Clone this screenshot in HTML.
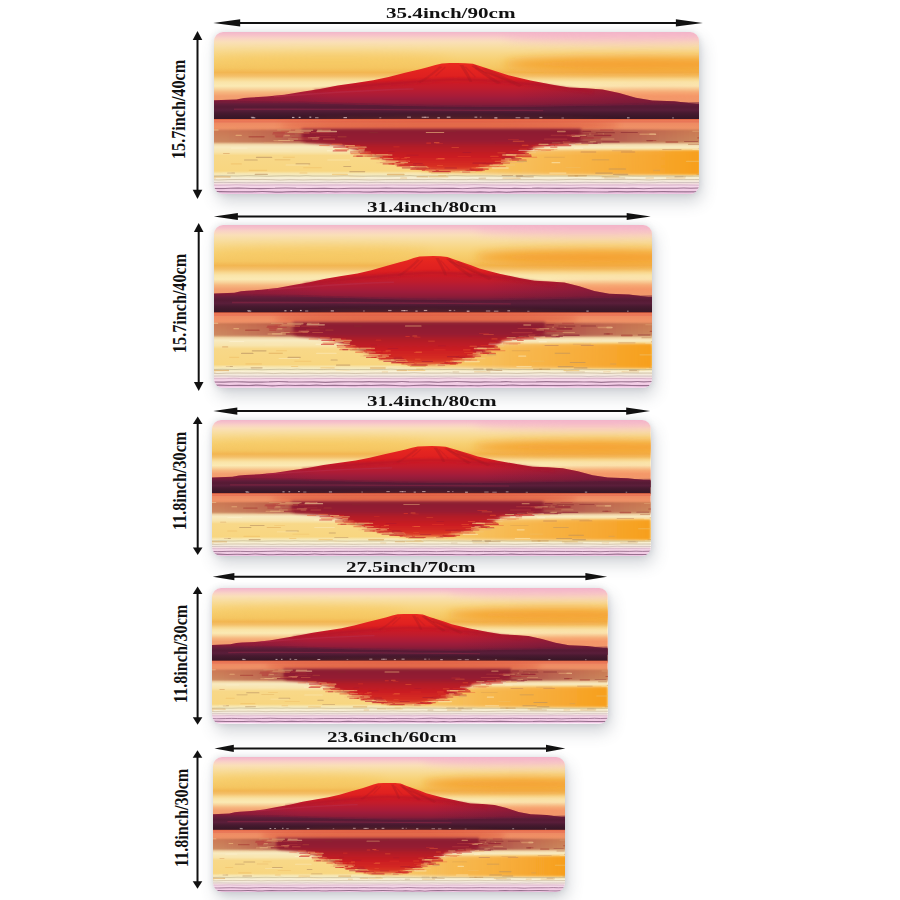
<!DOCTYPE html>
<html><head><meta charset="utf-8"><title>Mat sizes</title>
<style>
html,body{margin:0;padding:0;background:#fff;}
body{width:900px;height:900px;position:relative;overflow:hidden;font-family:"Liberation Serif","Times New Roman",serif;}
.mat{position:absolute;border-radius:9px;overflow:hidden;box-shadow:3px 8px 16px rgba(70,80,95,.24),0 0 6px rgba(70,80,95,.16);}
.mat svg{display:block;width:100%;height:100%;}
.hl{position:absolute;font-weight:bold;font-size:14.5px;line-height:16px;color:#111;white-space:nowrap;transform-origin:0 0;transform:scaleX(1.455);}
.vl{position:absolute;font-weight:bold;font-size:19px;line-height:19px;color:#111;white-space:nowrap;transform-origin:0 0;transform:rotate(-90deg) scaleX(0.85);}
.arr{position:absolute;left:0;top:0;}
</style></head><body>

<svg width="0" height="0" style="position:absolute">
<defs>
<linearGradient id="sky" gradientUnits="userSpaceOnUse" x1="0" y1="0" x2="0" y2="90">
<stop offset="0.0000" stop-color="#f2b6ca"/>
<stop offset="0.0333" stop-color="#f6c2ca"/>
<stop offset="0.0667" stop-color="#f9d2c6"/>
<stop offset="0.1111" stop-color="#fadfb8"/>
<stop offset="0.1667" stop-color="#f8dea2"/>
<stop offset="0.2333" stop-color="#f8d88a"/>
<stop offset="0.3111" stop-color="#f7d072"/>
<stop offset="0.4000" stop-color="#f5c662"/>
<stop offset="0.4500" stop-color="#f2b652"/>
<stop offset="0.4889" stop-color="#f4c06a"/>
<stop offset="0.5222" stop-color="#f8d68c"/>
<stop offset="0.5556" stop-color="#fae4a8"/>
<stop offset="0.6000" stop-color="#fbeab4"/>
<stop offset="0.6333" stop-color="#f8d49c"/>
<stop offset="0.6667" stop-color="#f6b880"/>
<stop offset="0.7111" stop-color="#f3a070"/>
<stop offset="1.0000" stop-color="#e88a66"/>
</linearGradient>
<linearGradient id="mtn" gradientUnits="userSpaceOnUse" x1="0" y1="31" x2="0" y2="77">
<stop offset="0.0000" stop-color="#ea2a1e"/>
<stop offset="0.1522" stop-color="#e42420"/>
<stop offset="0.3043" stop-color="#de2020"/>
<stop offset="0.3913" stop-color="#d41c22"/>
<stop offset="0.4565" stop-color="#c81a28"/>
<stop offset="0.5435" stop-color="#c01c2c"/>
<stop offset="0.6304" stop-color="#b41c34"/>
<stop offset="0.7174" stop-color="#a81c38"/>
<stop offset="0.7826" stop-color="#9c1c3c"/>
<stop offset="0.8478" stop-color="#921c38"/>
<stop offset="0.9348" stop-color="#7a1c3a"/>
<stop offset="1.0000" stop-color="#621c38"/>
</linearGradient>
<linearGradient id="dark" gradientUnits="userSpaceOnUse" x1="0" y1="70.5" x2="0" y2="87.5">
<stop offset="0.0000" stop-color="#701c3c"/>
<stop offset="0.1471" stop-color="#5e1c38"/>
<stop offset="0.2647" stop-color="#561a34"/>
<stop offset="0.4412" stop-color="#5a1e3a"/>
<stop offset="0.6176" stop-color="#481a30"/>
<stop offset="0.7941" stop-color="#3e182a"/>
<stop offset="1.0000" stop-color="#381626"/>
</linearGradient>
<linearGradient id="water" gradientUnits="userSpaceOnUse" x1="0" y1="87" x2="0" y2="162">
<stop offset="0.0000" stop-color="#e05c3c"/>
<stop offset="0.0173" stop-color="#ec7a56"/>
<stop offset="0.0400" stop-color="#e87458"/>
<stop offset="0.0533" stop-color="#ee8a62"/>
<stop offset="0.1333" stop-color="#f09468"/>
<stop offset="0.1600" stop-color="#d88a60"/>
<stop offset="0.3000" stop-color="#d8a474"/>
<stop offset="0.3333" stop-color="#f2d8a8"/>
<stop offset="0.3733" stop-color="#f8eac0"/>
<stop offset="0.4400" stop-color="#f8e4ac"/>
<stop offset="0.4867" stop-color="#f8d888"/>
<stop offset="0.6933" stop-color="#f8d680"/>
<stop offset="0.7267" stop-color="#f6e6b0"/>
<stop offset="0.7600" stop-color="#f4ecc4"/>
<stop offset="0.8267" stop-color="#f4eadc"/>
<stop offset="0.8600" stop-color="#f4e0e0"/>
<stop offset="0.8867" stop-color="#f2d2e4"/>
<stop offset="1.0000" stop-color="#eec4e2"/>
</linearGradient>
<linearGradient id="waterR" x1="0" y1="0" x2="1" y2="0">
<stop offset="0" stop-color="#f6a428" stop-opacity="0"/>
<stop offset=".45" stop-color="#f6a228" stop-opacity=".55"/>
<stop offset="1" stop-color="#f79c18" stop-opacity=".95"/>
</linearGradient>
<linearGradient id="mtnR" x1="0" y1="0" x2="1" y2="0">
<stop offset="0" stop-color="#4a1836" stop-opacity=".25"/>
<stop offset=".25" stop-color="#4a1836" stop-opacity="0"/>
<stop offset=".62" stop-color="#4a1836" stop-opacity="0"/>
<stop offset="1" stop-color="#4a1836" stop-opacity=".45"/>
</linearGradient>
<linearGradient id="rband" x1="0" y1="0" x2="1" y2="0">
<stop offset="0" stop-color="#c06848" stop-opacity=".42"/>
<stop offset=".12" stop-color="#b04c40" stop-opacity=".55"/>
<stop offset=".24" stop-color="#9c3038" stop-opacity=".85"/>
<stop offset=".72" stop-color="#9c3038" stop-opacity=".85"/>
<stop offset=".86" stop-color="#a84440" stop-opacity=".6"/>
<stop offset="1" stop-color="#c07048" stop-opacity=".5"/>
</linearGradient>
<linearGradient id="refl" gradientUnits="userSpaceOnUse" x1="0" y1="97" x2="0" y2="140">
<stop offset="0.0000" stop-color="#8a1c30"/>
<stop offset="0.2791" stop-color="#961c30"/>
<stop offset="0.3953" stop-color="#b01a28"/>
<stop offset="0.6512" stop-color="#cc1e22"/>
<stop offset="0.8837" stop-color="#d83024"/>
<stop offset="1.0000" stop-color="#e25a30"/>
</linearGradient>
<filter id="b05" x="-20%" y="-20%" width="140%" height="140%"><feGaussianBlur stdDeviation=".5"/></filter>
<filter id="b15" x="-10%" y="-20%" width="120%" height="140%"><feGaussianBlur stdDeviation="1.6"/></filter>
<filter id="b1" x="-10%" y="-50%" width="120%" height="200%"><feGaussianBlur stdDeviation="1"/></filter>
<filter id="b3" x="-20%" y="-200%" width="140%" height="500%"><feGaussianBlur stdDeviation="3"/></filter>
<filter id="b4" x="-20%" y="-200%" width="140%" height="500%"><feGaussianBlur stdDeviation="5"/></filter>
</defs></svg>
<div class="mat" style="left:213.5px;top:31.8px;width:485.8px;height:162px"><svg viewBox="0 0 487 162" preserveAspectRatio="none"><rect width="487" height="90" fill="url(#sky)"/>
<ellipse cx="430" cy="32" rx="140" ry="7.5" fill="#f48e18" opacity=".7" filter="url(#b4)"/>
<ellipse cx="420" cy="4" rx="130" ry="7" fill="#f4b0c8" opacity=".6" filter="url(#b4)"/>
<ellipse cx="120" cy="27" rx="120" ry="6" fill="#f6c050" opacity=".35" filter="url(#b4)"/>
<ellipse cx="450" cy="63" rx="80" ry="5" fill="#f88458" opacity=".45" filter="url(#b4)"/>
<path d="M0,68.3 L22.6,67.4 L30,66 L36.8,65.4 L52.8,64.6 L70.6,62.8 L88.4,59.8 L106.2,57 L123.9,53.6 L141.7,50.9 L159.5,48.2 L175,45 L191.5,40.8 L206.5,37.2 L215,35 L222,33 L228.5,31.5 L236,31.1 L244,31 L252,31.2 L259.5,31.8 L268,34.6 L286.5,40.4 L295.1,43.3 L317.3,48.5 L339.5,52.7 L356.2,55.5 L372.8,56.3 L389.5,57.4 L406.2,61 L422.8,65.7 L439.5,68.5 L461.5,69.3 L487,72.3 L487,80 L0,80 Z" fill="url(#mtn)"/>
<path d="M0,68.3 L22.6,67.4 L30,66 L36.8,65.4 L52.8,64.6 L70.6,62.8 L88.4,59.8 L106.2,57 L123.9,53.6 L141.7,50.9 L159.5,48.2 L175,45 L191.5,40.8 L206.5,37.2 L215,35 L222,33 L228.5,31.5 L236,31.1 L244,31 L252,31.2 L259.5,31.8 L268,34.6 L286.5,40.4 L295.1,43.3 L317.3,48.5 L339.5,52.7 L356.2,55.5 L372.8,56.3 L389.5,57.4 L406.2,61 L422.8,65.7 L439.5,68.5 L461.5,69.3 L487,72.3 L487,80 L0,80 Z" fill="url(#mtnR)"/>
<path d="M100,59 C150,54 200,48 242,47.5 C282,47.5 322,52 380,60" stroke="#a8122a" stroke-width="3" fill="none" opacity=".5" filter="url(#b1)"/>
<path d="M262,36 L290,48" stroke="#b01a24" stroke-width="1.4" opacity=".3" filter="url(#b05)"/>
<path d="M272,40 L302,51" stroke="#b01a24" stroke-width="1.4" opacity=".3" filter="url(#b05)"/>
<path d="M252,35 L262,45" stroke="#b01a24" stroke-width="1.4" opacity=".3" filter="url(#b05)"/>
<path d="M232,35 L222,44" stroke="#b01a24" stroke-width="1.4" opacity=".3" filter="url(#b05)"/>
<path d="M258,34 C266,40 274,46 284,52 L288,51 C278,45 270,39 262,33 Z" fill="#a01424" opacity="0.35" filter="url(#b05)"/>
<path d="M268,37 C280,43 292,49 306,55 L309,53 C296,47 284,41 272,36 Z" fill="#a01424" opacity="0.3" filter="url(#b05)"/>
<path d="M246,33 C250,39 254,45 256,50 L259,50 C257,44 253,38 250,33 Z" fill="#a01424" opacity="0.3" filter="url(#b05)"/>
<path d="M226,34 C220,40 212,46 204,50 L207,51 C214,47 222,41 229,35 Z" fill="#a01424" opacity="0.25" filter="url(#b05)"/>
<path d="M60,64.5 C110,61 150,58 200,57" stroke="#b83050" stroke-width="1.5" fill="none" opacity=".45" filter="url(#b05)"/>
<path d="M0,70.5 L90,71 C170,73.5 230,75 290,75 C360,74.5 420,72.5 487,71.5 L487,88 L0,88 Z" fill="url(#dark)"/>
<path d="M0,69.8 L90,70.3 C170,72.8 230,74.3 290,74.3 C360,73.8 420,71.8 487,70.8" stroke="#6a1c3a" stroke-width="1.6" fill="none" opacity=".5" filter="url(#b05)"/>
<path d="M20,76.5 C120,76.2 220,77.4 330,78 L330,79.2 C220,78.6 120,77.6 20,78 Z" fill="#a02848" opacity=".4"/>
<rect x="165.7" y="85.1" width="2" height="1.2" fill="#f4e4e4" opacity="0.4"/>
<rect x="261.1" y="84.6" width="2.8" height="1.2" fill="#f4e4e4" opacity="0.6"/>
<rect x="36.9" y="84.7" width="3" height="1.2" fill="#f4e4e4" opacity="0.4"/>
<rect x="211" y="84.7" width="4.4" height="1.2" fill="#f4e4e4" opacity="0.5"/>
<rect x="302.3" y="85.1" width="4.8" height="1.2" fill="#f4e4e4" opacity="0.5"/>
<rect x="459.3" y="85.3" width="1.7" height="1.2" fill="#f4e4e4" opacity="0.5"/>
<rect x="84.9" y="84.8" width="1.9" height="1.2" fill="#f4e4e4" opacity="0.7"/>
<rect x="101.3" y="85.1" width="3.5" height="1.2" fill="#f4e4e4" opacity="0.5"/>
<rect x="266.5" y="84.6" width="1.7" height="1.2" fill="#f4e4e4" opacity="0.4"/>
<rect x="326.2" y="84.9" width="3" height="1.2" fill="#f4e4e4" opacity="0.6"/>
<rect x="223.9" y="85.2" width="2.5" height="1.2" fill="#f4e4e4" opacity="0.7"/>
<rect x="129.8" y="85" width="3.5" height="1.2" fill="#f4e4e4" opacity="0.7"/>
<rect x="348.3" y="85.4" width="2.5" height="1.2" fill="#f4e4e4" opacity="0.4"/>
<rect x="208.2" y="84.7" width="4.1" height="1.2" fill="#f4e4e4" opacity="0.6"/>
<rect x="37.6" y="85.2" width="3.8" height="1.2" fill="#f4e4e4" opacity="0.6"/>
<rect x="414" y="85.2" width="2.6" height="1.2" fill="#f4e4e4" opacity="0.6"/>
<rect x="281" y="85.3" width="3.1" height="1.2" fill="#f4e4e4" opacity="0.8"/>
<rect x="233.3" y="84.6" width="3.8" height="1.2" fill="#f4e4e4" opacity="0.7"/>
<rect x="311.2" y="85.3" width="5" height="1.2" fill="#f4e4e4" opacity="0.5"/>
<rect x="193.6" y="84.6" width="3.8" height="1.2" fill="#f4e4e4" opacity="0.6"/>
<rect x="95.6" y="84.6" width="1.9" height="1.2" fill="#f4e4e4" opacity="0.7"/>
<rect x="78.2" y="84.9" width="2.4" height="1.2" fill="#f4e4e4" opacity="0.7"/>
<rect y="87" width="487" height="75" fill="url(#water)"/>
<rect x="200" y="118" width="287" height="25" fill="url(#waterR)" filter="url(#b1)"/>
<ellipse cx="236" cy="93.5" rx="170" ry="6" fill="#d84830" opacity=".55" filter="url(#b3)"/>
<rect x="-6" y="97.5" width="499" height="13.5" fill="url(#rband)" filter="url(#b1)"/>
<path d="M88,97 L88,98.5 L88,100 L88,101.5 L88,103 L88,104.5 L88,106 L88,107.5 L88,109 L93.4,110.5 L109.5,112 L125.6,113.5 L133.7,115 L137.8,116.5 L142.1,118 L146.4,119.5 L150.8,121 L155.3,122.5 L160,124 L164.8,125.5 L169.9,127 L175.1,128.5 L180.5,130 L186.3,131.5 L192.4,133 L199,134.5 L206.3,136 L214.8,137.5 L225.5,139 L253,139 L262.4,137.5 L269.5,136 L275.4,134.5 L280.7,133 L285.5,131.5 L289.9,130 L294,128.5 L297.8,127 L301.5,125.5 L305,124 L308.3,122.5 L311.5,121 L314.6,119.5 L317.5,118 L320.4,116.5 L323.2,115 L330.4,113.5 L346.5,112 L362.6,110.5 L368,109 L368,107.5 L368,106 L368,104.5 L368,103 L368,101.5 L368,100 L368,98.5 L368,97 Z" fill="url(#refl)" filter="url(#b15)"/>
<rect x="63.1" y="97.5" width="14.1" height="0.9" rx="0.4" fill="#e0a070" opacity=".6"/>
<rect x="386.9" y="97.5" width="13.5" height="1" rx="0.5" fill="#b83c3c" opacity=".6"/>
<rect x="-4" y="97.5" width="8.7" height="0.9" rx="0.4" fill="#f8d8a0" opacity=".6"/>
<rect x="368.6" y="97.5" width="11.1" height="0.9" rx="0.5" fill="#c85a44" opacity=".6"/>
<rect x="81.2" y="97.5" width="18.4" height="1.6" rx="0.8" fill="#e0a070" opacity=".6"/>
<rect x="336.9" y="97.5" width="13.2" height="1.1" rx="0.6" fill="#9a2434" opacity=".6"/>
<rect x="103.3" y="97.5" width="13.9" height="1.6" rx="0.8" fill="#e0a070" opacity=".6"/>
<rect x="108.1" y="97.5" width="7.8" height="0.9" rx="0.5" fill="#b83c3c" opacity=".6"/>
<rect x="369.4" y="98.8" width="8.7" height="1.3" rx="0.6" fill="#8a1c30" opacity=".6"/>
<rect x="221.6" y="98.8" width="21.3" height="0.9" rx="0.4" fill="#8a2a30" opacity=".6"/>
<rect x="358" y="98.8" width="8.6" height="1" rx="0.5" fill="#8a2a30" opacity=".6"/>
<rect x="343.8" y="98.8" width="8.9" height="1.5" rx="0.7" fill="#e0a070" opacity=".6"/>
<rect x="67.2" y="98.8" width="19.6" height="1.5" rx="0.8" fill="#c85a44" opacity=".6"/>
<rect x="75" y="98.8" width="22.3" height="1.2" rx="0.6" fill="#e0a070" opacity=".6"/>
<rect x="479.5" y="98.8" width="10" height="1.1" rx="0.5" fill="#e0a070" opacity=".6"/>
<rect x="102.7" y="98.8" width="20.7" height="1.4" rx="0.7" fill="#f8d8a0" opacity=".6"/>
<rect x="382.7" y="100.1" width="19.2" height="1.2" rx="0.6" fill="#8a2a30" opacity=".6"/>
<rect x="212.3" y="100.1" width="18.5" height="1" rx="0.5" fill="#f0c080" opacity=".6"/>
<rect x="83.4" y="100.1" width="12.6" height="1.6" rx="0.8" fill="#c85a44" opacity=".6"/>
<rect x="407.7" y="100.1" width="17.2" height="1" rx="0.5" fill="#8a2a30" opacity=".6"/>
<rect x="59" y="100.1" width="12.2" height="1.5" rx="0.8" fill="#b83c3c" opacity=".6"/>
<rect x="155.3" y="100.1" width="9.2" height="1.2" rx="0.6" fill="#8a2a30" opacity=".6"/>
<rect x="96.8" y="100.1" width="19.4" height="1.2" rx="0.6" fill="#b83c3c" opacity=".6"/>
<rect x="73.4" y="100.1" width="16.6" height="0.8" rx="0.4" fill="#e0a070" opacity=".6"/>
<rect x="105.9" y="101.4" width="17.8" height="1.6" rx="0.8" fill="#9a2434" opacity=".6"/>
<rect x="58.3" y="101.4" width="22.8" height="1.2" rx="0.6" fill="#b83c3c" opacity=".6"/>
<rect x="349.6" y="101.4" width="9.8" height="0.8" rx="0.4" fill="#8a1c30" opacity=".6"/>
<rect x="436.2" y="101.4" width="7.1" height="1.5" rx="0.7" fill="#f8d8a0" opacity=".6"/>
<rect x="426.4" y="101.4" width="15.3" height="1.5" rx="0.7" fill="#e0a070" opacity=".6"/>
<rect x="375.8" y="101.4" width="15.4" height="1.2" rx="0.6" fill="#e0a070" opacity=".6"/>
<rect x="364.5" y="101.4" width="20.4" height="0.8" rx="0.4" fill="#9a2434" opacity=".6"/>
<rect x="378" y="101.4" width="11.9" height="1.2" rx="0.6" fill="#9a2434" opacity=".6"/>
<rect x="69.2" y="102.7" width="7" height="1.5" rx="0.8" fill="#e0a070" opacity=".6"/>
<rect x="21.5" y="102.7" width="6.5" height="1.2" rx="0.6" fill="#f0c080" opacity=".6"/>
<rect x="357.8" y="102.7" width="15.1" height="1.3" rx="0.6" fill="#e0a070" opacity=".6"/>
<rect x="384.1" y="102.7" width="15.1" height="1.4" rx="0.7" fill="#b83c3c" opacity=".6"/>
<rect x="353.5" y="102.7" width="8.5" height="1.5" rx="0.7" fill="#b83c3c" opacity=".6"/>
<rect x="60.9" y="102.7" width="9.8" height="1.1" rx="0.6" fill="#b83c3c" opacity=".6"/>
<rect x="380.6" y="102.7" width="17.6" height="1.6" rx="0.8" fill="#8a1c30" opacity=".6"/>
<rect x="337.5" y="102.7" width="23.1" height="1" rx="0.5" fill="#b83c3c" opacity=".6"/>
<rect x="356.7" y="104" width="13.8" height="0.9" rx="0.5" fill="#c85a44" opacity=".6"/>
<rect x="355.2" y="104" width="19" height="1.1" rx="0.5" fill="#9a2434" opacity=".6"/>
<rect x="102" y="104" width="15.3" height="1.1" rx="0.6" fill="#b83c3c" opacity=".6"/>
<rect x="61.3" y="104" width="7.9" height="1.6" rx="0.8" fill="#b83c3c" opacity=".6"/>
<rect x="358.6" y="104" width="8.3" height="1" rx="0.5" fill="#e0a070" opacity=".6"/>
<rect x="34.5" y="104" width="16.3" height="1.5" rx="0.8" fill="#a83c34" opacity=".6"/>
<rect x="123.7" y="104" width="9.3" height="1.4" rx="0.7" fill="#a83c34" opacity=".6"/>
<rect x="102.1" y="104" width="20.4" height="1.3" rx="0.7" fill="#9a2434" opacity=".6"/>
<rect x="368.8" y="105.3" width="12.1" height="1.2" rx="0.6" fill="#9a2434" opacity=".6"/>
<rect x="96.2" y="105.3" width="10.3" height="1.2" rx="0.6" fill="#b83c3c" opacity=".6"/>
<rect x="94" y="105.3" width="11.6" height="1" rx="0.5" fill="#e0a070" opacity=".6"/>
<rect x="484.3" y="105.3" width="10.9" height="1.3" rx="0.7" fill="#a83c34" opacity=".6"/>
<rect x="77.6" y="105.3" width="19.2" height="0.8" rx="0.4" fill="#b83c3c" opacity=".6"/>
<rect x="368" y="105.3" width="21" height="1.2" rx="0.6" fill="#b83c3c" opacity=".6"/>
<rect x="109.1" y="106.6" width="12.3" height="1.1" rx="0.6" fill="#c85a44" opacity=".6"/>
<rect x="330.8" y="106.6" width="23.5" height="1.2" rx="0.6" fill="#b83c3c" opacity=".6"/>
<rect x="387.5" y="106.6" width="14" height="0.9" rx="0.5" fill="#e0a070" opacity=".6"/>
<rect x="98.3" y="106.6" width="6.6" height="1.1" rx="0.5" fill="#e0a070" opacity=".6"/>
<rect x="95.7" y="106.6" width="12.9" height="0.8" rx="0.4" fill="#9a2434" opacity=".6"/>
<rect x="83.6" y="106.6" width="20.7" height="0.9" rx="0.4" fill="#c85a44" opacity=".6"/>
<rect x="74.1" y="106.6" width="10.2" height="1" rx="0.5" fill="#e0a070" opacity=".6"/>
<rect x="64.3" y="107.9" width="11.9" height="1.1" rx="0.6" fill="#f8d8a0" opacity=".6"/>
<rect x="433.3" y="107.9" width="6.8" height="1.3" rx="0.7" fill="#8a2a30" opacity=".6"/>
<rect x="59.4" y="107.9" width="20.6" height="1.4" rx="0.7" fill="#e0a070" opacity=".6"/>
<rect x="91.5" y="107.9" width="6.8" height="0.9" rx="0.4" fill="#8a1c30" opacity=".6"/>
<rect x="79.9" y="107.9" width="17.3" height="1.2" rx="0.6" fill="#9a2434" opacity=".6"/>
<rect x="436.2" y="107.9" width="7.3" height="1.2" rx="0.6" fill="#a83c34" opacity=".6"/>
<rect x="92" y="109.2" width="10.8" height="0.9" rx="0.4" fill="#8a2a30" opacity=".6"/>
<rect x="376.5" y="109.2" width="12.9" height="1.2" rx="0.6" fill="#e0a070" opacity=".6"/>
<rect x="349.4" y="109.2" width="9.6" height="1.3" rx="0.7" fill="#c85a44" opacity=".6"/>
<rect x="350.9" y="109.2" width="8.4" height="1.3" rx="0.6" fill="#9a2434" opacity=".6"/>
<rect x="356.9" y="109.2" width="18.2" height="1.4" rx="0.7" fill="#8a1c30" opacity=".6"/>
<rect x="382.8" y="109.2" width="23.9" height="1.4" rx="0.7" fill="#8a1c30" opacity=".6"/>
<rect x="471.1" y="109.2" width="14.3" height="0.8" rx="0.4" fill="#8a2a30" opacity=".6"/>
<rect x="452.5" y="109.2" width="13" height="1.6" rx="0.8" fill="#a83c34" opacity=".6"/>
<rect x="338.6" y="110.5" width="8.6" height="1.3" rx="0.6" fill="#e0a070" opacity=".6"/>
<rect x="380" y="110.5" width="8" height="1" rx="0.5" fill="#8a1c30" opacity=".6"/>
<rect x="343.2" y="110.5" width="19.1" height="1.1" rx="0.6" fill="#c85a44" opacity=".6"/>
<rect x="49.7" y="110.5" width="19.5" height="0.8" rx="0.4" fill="#e0a070" opacity=".6"/>
<rect x="328.1" y="110.5" width="22.2" height="1.4" rx="0.7" fill="#8a1c30" opacity=".6"/>
<rect x="368.1" y="110.5" width="16.6" height="1.6" rx="0.8" fill="#9a2434" opacity=".6"/>
<rect x="321.9" y="111.8" width="23.5" height="0.9" rx="0.5" fill="#b82230" opacity=".6"/>
<rect x="361.8" y="111.8" width="13.7" height="1.4" rx="0.7" fill="#f0b070" opacity=".6"/>
<rect x="336.8" y="111.8" width="19" height="1.2" rx="0.6" fill="#d83024" opacity=".6"/>
<rect x="117.7" y="111.8" width="11.2" height="1.3" rx="0.7" fill="#e86a40" opacity=".6"/>
<rect x="475.2" y="111.8" width="11.4" height="1.1" rx="0.5" fill="#c08058" opacity=".6"/>
<rect x="325.2" y="111.8" width="10.3" height="1.1" rx="0.6" fill="#f4c880" opacity=".6"/>
<rect x="332.3" y="113.1" width="9.5" height="0.9" rx="0.5" fill="#b82230" opacity=".6"/>
<rect x="105.3" y="113.1" width="10.7" height="1" rx="0.5" fill="#e86a40" opacity=".6"/>
<rect x="318.1" y="113.1" width="19.4" height="1.1" rx="0.6" fill="#c81e24" opacity=".6"/>
<rect x="130.5" y="113.1" width="16.3" height="1.2" rx="0.6" fill="#d83024" opacity=".6"/>
<rect x="340.7" y="113.1" width="17.6" height="1.1" rx="0.6" fill="#c81e24" opacity=".6"/>
<rect x="389.7" y="113.1" width="13.7" height="0.9" rx="0.5" fill="#fae6b4" opacity=".6"/>
<rect x="400.3" y="113.1" width="13" height="0.8" rx="0.4" fill="#fae6b4" opacity=".6"/>
<rect x="130.9" y="113.1" width="10.5" height="1.6" rx="0.8" fill="#f4c880" opacity=".6"/>
<rect x="410.7" y="114.4" width="20.9" height="0.9" rx="0.4" fill="#fae6b4" opacity=".6"/>
<rect x="132.4" y="114.4" width="20" height="0.9" rx="0.4" fill="#c81e24" opacity=".6"/>
<rect x="319.6" y="114.4" width="11.5" height="1.3" rx="0.7" fill="#e86a40" opacity=".6"/>
<rect x="132.4" y="114.4" width="8" height="1.4" rx="0.7" fill="#d83024" opacity=".6"/>
<rect x="312.8" y="114.4" width="6" height="1.4" rx="0.7" fill="#b82230" opacity=".6"/>
<rect x="119.3" y="114.4" width="21.9" height="1.3" rx="0.7" fill="#c81e24" opacity=".6"/>
<rect x="134.5" y="114.4" width="18.7" height="1.6" rx="0.8" fill="#f4c880" opacity=".6"/>
<rect x="336.9" y="114.4" width="7.5" height="1.3" rx="0.7" fill="#d83024" opacity=".6"/>
<rect x="143.5" y="115.7" width="6.1" height="1.1" rx="0.6" fill="#d83024" opacity=".6"/>
<rect x="134" y="115.7" width="20.8" height="1" rx="0.5" fill="#b82230" opacity=".6"/>
<rect x="127.6" y="115.7" width="17.2" height="0.9" rx="0.4" fill="#f4c880" opacity=".6"/>
<rect x="17" y="115.7" width="16.7" height="0.8" rx="0.4" fill="#fff4d4" opacity=".6"/>
<rect x="143.1" y="115.7" width="8.6" height="1.6" rx="0.8" fill="#e86a40" opacity=".6"/>
<rect x="485.8" y="115.7" width="21.9" height="1.5" rx="0.8" fill="#d8a060" opacity=".6"/>
<rect x="360.9" y="115.7" width="9.3" height="1.1" rx="0.5" fill="#fff4d4" opacity=".6"/>
<rect x="479.5" y="117" width="19.1" height="1" rx="0.5" fill="#fae6b4" opacity=".6"/>
<rect x="313.6" y="117" width="6.1" height="0.9" rx="0.5" fill="#c81e24" opacity=".6"/>
<rect x="321.2" y="117" width="19.7" height="1.2" rx="0.6" fill="#e86a40" opacity=".6"/>
<rect x="299.1" y="117" width="18.7" height="0.9" rx="0.4" fill="#b82230" opacity=".6"/>
<rect x="120.7" y="117" width="14.5" height="1.4" rx="0.7" fill="#e86a40" opacity=".6"/>
<rect x="144.7" y="117" width="6.6" height="0.8" rx="0.4" fill="#f4c880" opacity=".6"/>
<rect x="327.5" y="117" width="16.9" height="0.9" rx="0.4" fill="#f0b070" opacity=".6"/>
<rect x="449.3" y="117" width="19.4" height="0.8" rx="0.4" fill="#c08058" opacity=".6"/>
<rect x="305.1" y="118.3" width="19.6" height="0.8" rx="0.4" fill="#fff4d4" opacity=".6"/>
<rect x="327.7" y="118.3" width="10.2" height="0.8" rx="0.4" fill="#e86a40" opacity=".6"/>
<rect x="56" y="118.3" width="22.4" height="1.4" rx="0.7" fill="#fae6b4" opacity=".6"/>
<rect x="398.9" y="118.3" width="20.4" height="0.9" rx="0.5" fill="#d8a060" opacity=".6"/>
<rect x="320.9" y="118.3" width="11.9" height="1.3" rx="0.6" fill="#f0b070" opacity=".6"/>
<rect x="112.9" y="118.3" width="9.6" height="0.9" rx="0.4" fill="#fff4d4" opacity=".6"/>
<rect x="118.9" y="118.3" width="14.7" height="1.3" rx="0.7" fill="#c81e24" opacity=".6"/>
<rect x="140.3" y="118.3" width="10.8" height="1.6" rx="0.8" fill="#f4c880" opacity=".6"/>
<rect x="313.9" y="119.6" width="9.1" height="1.6" rx="0.8" fill="#f4c880" opacity=".6"/>
<rect x="367.5" y="119.6" width="15.7" height="1" rx="0.5" fill="#c08058" opacity=".6"/>
<rect x="296.2" y="119.6" width="16.2" height="1" rx="0.5" fill="#d83024" opacity=".6"/>
<rect x="147.4" y="119.6" width="10.2" height="0.9" rx="0.5" fill="#e86a40" opacity=".6"/>
<rect x="136.3" y="119.6" width="10.4" height="1" rx="0.5" fill="#c81e24" opacity=".6"/>
<rect x="407.8" y="119.6" width="14.5" height="0.9" rx="0.4" fill="#c08058" opacity=".6"/>
<rect x="137.6" y="119.6" width="11.3" height="0.8" rx="0.4" fill="#f0b070" opacity=".6"/>
<rect x="144.7" y="119.6" width="7.4" height="1" rx="0.5" fill="#b82230" opacity=".6"/>
<rect x="293.6" y="120.9" width="18" height="1.4" rx="0.7" fill="#b82230" opacity=".6"/>
<rect x="9" y="120.9" width="6.8" height="1.1" rx="0.5" fill="#d8a060" opacity=".6"/>
<rect x="291.2" y="120.9" width="20.7" height="1.5" rx="0.7" fill="#b82230" opacity=".6"/>
<rect x="294.4" y="120.9" width="6.6" height="0.9" rx="0.4" fill="#c81e24" opacity=".6"/>
<rect x="136.6" y="120.9" width="18" height="1.4" rx="0.7" fill="#e86a40" opacity=".6"/>
<rect x="302.4" y="120.9" width="13.4" height="1.4" rx="0.7" fill="#c81e24" opacity=".6"/>
<rect x="288.1" y="120.9" width="16.2" height="1" rx="0.5" fill="#b82230" opacity=".6"/>
<rect x="146.1" y="120.9" width="13" height="1.3" rx="0.7" fill="#d83024" opacity=".6"/>
<rect x="297.4" y="122.2" width="20.8" height="1.1" rx="0.6" fill="#d83024" opacity=".6"/>
<rect x="292.8" y="122.2" width="6.9" height="0.9" rx="0.5" fill="#f0b070" opacity=".6"/>
<rect x="292.6" y="122.2" width="19.3" height="1.5" rx="0.8" fill="#f0b070" opacity=".6"/>
<rect x="156.9" y="122.2" width="7.2" height="0.9" rx="0.5" fill="#c81e24" opacity=".6"/>
<rect x="288.8" y="122.2" width="14.7" height="1.6" rx="0.8" fill="#f4c880" opacity=".6"/>
<rect x="140.3" y="122.2" width="20.8" height="1.3" rx="0.6" fill="#f0b070" opacity=".6"/>
<rect x="158.1" y="122.2" width="20.9" height="1.5" rx="0.7" fill="#f0b070" opacity=".6"/>
<rect x="162.4" y="122.2" width="12.5" height="0.9" rx="0.5" fill="#f0b070" opacity=".6"/>
<rect x="151.1" y="123.5" width="18.1" height="1.5" rx="0.7" fill="#b89060" opacity=".6"/>
<rect x="302.6" y="123.5" width="15.9" height="1.3" rx="0.6" fill="#b82230" opacity=".6"/>
<rect x="301.9" y="123.5" width="6.4" height="1.2" rx="0.6" fill="#e86a40" opacity=".6"/>
<rect x="139.2" y="123.5" width="20" height="1.4" rx="0.7" fill="#e86a40" opacity=".6"/>
<rect x="145.4" y="123.5" width="8.3" height="0.9" rx="0.4" fill="#f0b070" opacity=".6"/>
<rect x="142.6" y="123.5" width="6.7" height="1.2" rx="0.6" fill="#b82230" opacity=".6"/>
<rect x="303" y="123.5" width="15.2" height="1.4" rx="0.7" fill="#d83024" opacity=".6"/>
<rect x="167.6" y="124.8" width="7.2" height="0.8" rx="0.4" fill="#e86a40" opacity=".6"/>
<rect x="331" y="124.8" width="20.6" height="1" rx="0.5" fill="#d8a050" opacity=".6"/>
<rect x="68.9" y="124.8" width="12.3" height="0.9" rx="0.4" fill="#f0c068" opacity=".6"/>
<rect x="287.8" y="124.8" width="14.2" height="1.5" rx="0.8" fill="#b82230" opacity=".6"/>
<rect x="166.4" y="124.8" width="10.3" height="1.3" rx="0.6" fill="#d83024" opacity=".6"/>
<rect x="288.3" y="124.8" width="11" height="1.3" rx="0.7" fill="#b82230" opacity=".6"/>
<rect x="308.5" y="124.8" width="15.6" height="0.9" rx="0.4" fill="#e86a40" opacity=".6"/>
<rect x="42" y="124.8" width="16.4" height="1.2" rx="0.6" fill="#b89060" opacity=".6"/>
<rect x="295.8" y="126.1" width="12.7" height="1.4" rx="0.7" fill="#b82230" opacity=".6"/>
<rect x="168.5" y="126.1" width="7.5" height="1.1" rx="0.5" fill="#f0b070" opacity=".6"/>
<rect x="168.4" y="126.1" width="11.6" height="1.3" rx="0.7" fill="#b82230" opacity=".6"/>
<rect x="169.7" y="126.1" width="13.8" height="1.3" rx="0.6" fill="#d83024" opacity=".6"/>
<rect x="291.4" y="126.1" width="6.8" height="1.3" rx="0.6" fill="#f0b070" opacity=".6"/>
<rect x="169.7" y="126.1" width="10" height="1.1" rx="0.5" fill="#f0b070" opacity=".6"/>
<rect x="156.9" y="126.1" width="8.9" height="1.5" rx="0.7" fill="#e86a40" opacity=".6"/>
<rect x="378.7" y="127.4" width="17.5" height="0.9" rx="0.4" fill="#b89060" opacity=".6"/>
<rect x="287.5" y="127.4" width="23.4" height="1.4" rx="0.7" fill="#f0b070" opacity=".6"/>
<rect x="113.5" y="127.4" width="22.9" height="1.2" rx="0.6" fill="#fbe8b4" opacity=".6"/>
<rect x="172" y="127.4" width="15.6" height="0.8" rx="0.4" fill="#c81e24" opacity=".6"/>
<rect x="60.7" y="127.4" width="15.9" height="0.8" rx="0.4" fill="#d8a050" opacity=".6"/>
<rect x="295.9" y="127.4" width="17.6" height="1.2" rx="0.6" fill="#d83024" opacity=".6"/>
<rect x="298.7" y="127.4" width="7.1" height="1.2" rx="0.6" fill="#c81e24" opacity=".6"/>
<rect x="30" y="127.4" width="13.9" height="1.1" rx="0.6" fill="#b89060" opacity=".6"/>
<rect x="172.7" y="128.7" width="23.9" height="0.9" rx="0.5" fill="#f4c880" opacity=".6"/>
<rect x="169.8" y="128.7" width="23" height="1.5" rx="0.8" fill="#f0b070" opacity=".6"/>
<rect x="473" y="128.7" width="18.3" height="1.3" rx="0.7" fill="#f0c068" opacity=".6"/>
<rect x="171.9" y="128.7" width="23.4" height="1.3" rx="0.7" fill="#d83024" opacity=".6"/>
<rect x="281.4" y="128.7" width="9.6" height="1.5" rx="0.7" fill="#e86a40" opacity=".6"/>
<rect x="303.5" y="128.7" width="10.3" height="1.1" rx="0.5" fill="#b89060" opacity=".6"/>
<rect x="169.5" y="128.7" width="15.6" height="1.2" rx="0.6" fill="#f4c880" opacity=".6"/>
<rect x="182.8" y="130" width="16.2" height="1.3" rx="0.6" fill="#c81e24" opacity=".6"/>
<rect x="338.3" y="130" width="8.9" height="1.3" rx="0.6" fill="#fbe8b4" opacity=".6"/>
<rect x="166.1" y="130" width="18.5" height="0.8" rx="0.4" fill="#c81e24" opacity=".6"/>
<rect x="162.4" y="130" width="19.7" height="1.5" rx="0.7" fill="#f4c880" opacity=".6"/>
<rect x="186.8" y="130" width="7.9" height="1.6" rx="0.8" fill="#f4c880" opacity=".6"/>
<rect x="271.4" y="130" width="19.5" height="0.9" rx="0.4" fill="#c81e24" opacity=".6"/>
<rect x="279.4" y="130" width="17.6" height="1.4" rx="0.7" fill="#c81e24" opacity=".6"/>
<rect x="287.5" y="130" width="22.7" height="1.1" rx="0.5" fill="#f0b070" opacity=".6"/>
<rect x="169" y="131.3" width="21.3" height="1.2" rx="0.6" fill="#c81e24" opacity=".6"/>
<rect x="174.8" y="131.3" width="19.9" height="1.1" rx="0.6" fill="#d83024" opacity=".6"/>
<rect x="269" y="131.3" width="20.9" height="1.4" rx="0.7" fill="#c81e24" opacity=".6"/>
<rect x="16.8" y="131.3" width="11.2" height="1.2" rx="0.6" fill="#f0c068" opacity=".6"/>
<rect x="81.7" y="131.3" width="14.8" height="1.2" rx="0.6" fill="#b89060" opacity=".6"/>
<rect x="178.2" y="131.3" width="23.2" height="1.3" rx="0.6" fill="#d83024" opacity=".6"/>
<rect x="180.6" y="131.3" width="10.2" height="1.6" rx="0.8" fill="#f4c880" opacity=".6"/>
<rect x="183.5" y="131.3" width="7.9" height="1.2" rx="0.6" fill="#e86a40" opacity=".6"/>
<rect x="183.4" y="132.6" width="19.4" height="1.5" rx="0.8" fill="#b82230" opacity=".6"/>
<rect x="279.7" y="132.6" width="22.2" height="1" rx="0.5" fill="#f4c880" opacity=".6"/>
<rect x="186.3" y="132.6" width="14.3" height="1" rx="0.5" fill="#b82230" opacity=".6"/>
<rect x="265.2" y="132.6" width="21.6" height="1.2" rx="0.6" fill="#e86a40" opacity=".6"/>
<rect x="276" y="132.6" width="10.6" height="1.4" rx="0.7" fill="#f4c880" opacity=".6"/>
<rect x="181.9" y="132.6" width="9.4" height="1" rx="0.5" fill="#d83024" opacity=".6"/>
<rect x="185.4" y="132.6" width="16.9" height="1.4" rx="0.7" fill="#d83024" opacity=".6"/>
<rect x="71.8" y="132.6" width="23.2" height="1" rx="0.5" fill="#fbe8b4" opacity=".6"/>
<rect x="277" y="133.9" width="8.7" height="1" rx="0.5" fill="#e86a40" opacity=".6"/>
<rect x="129.6" y="133.9" width="8" height="1" rx="0.5" fill="#b89060" opacity=".6"/>
<rect x="190.3" y="133.9" width="23.7" height="1" rx="0.5" fill="#f0b070" opacity=".6"/>
<rect x="277.8" y="133.9" width="6.1" height="1.4" rx="0.7" fill="#f0b070" opacity=".6"/>
<rect x="186.6" y="133.9" width="13.6" height="1.4" rx="0.7" fill="#f4c880" opacity=".6"/>
<rect x="183" y="133.9" width="13.8" height="0.9" rx="0.4" fill="#d83024" opacity=".6"/>
<rect x="273.9" y="133.9" width="18.8" height="1.4" rx="0.7" fill="#e86a40" opacity=".6"/>
<rect x="188.2" y="135.2" width="17.2" height="1.2" rx="0.6" fill="#b82230" opacity=".6"/>
<rect x="202.3" y="135.2" width="13" height="1.4" rx="0.7" fill="#f0b070" opacity=".6"/>
<rect x="89.3" y="135.2" width="18.9" height="1" rx="0.5" fill="#f0c068" opacity=".6"/>
<rect x="264.7" y="135.2" width="16.3" height="0.9" rx="0.4" fill="#f4c880" opacity=".6"/>
<rect x="262.3" y="135.2" width="12.7" height="1.4" rx="0.7" fill="#f4c880" opacity=".6"/>
<rect x="352.4" y="135.2" width="15.2" height="0.9" rx="0.5" fill="#f0c068" opacity=".6"/>
<rect x="203.9" y="135.2" width="10.5" height="1.3" rx="0.7" fill="#e86a40" opacity=".6"/>
<rect x="278.3" y="135.2" width="17.3" height="1.5" rx="0.8" fill="#fbe8b4" opacity=".6"/>
<rect x="202.7" y="136.5" width="20.4" height="1" rx="0.5" fill="#c81e24" opacity=".6"/>
<rect x="196.6" y="136.5" width="17.4" height="1.4" rx="0.7" fill="#d83024" opacity=".6"/>
<rect x="395.6" y="136.5" width="17.5" height="1.1" rx="0.5" fill="#b89060" opacity=".6"/>
<rect x="255.7" y="136.5" width="19.7" height="1.6" rx="0.8" fill="#d83024" opacity=".6"/>
<rect x="262.9" y="136.5" width="12.8" height="1" rx="0.5" fill="#e86a40" opacity=".6"/>
<rect x="197.7" y="136.5" width="19" height="0.8" rx="0.4" fill="#b82230" opacity=".6"/>
<rect x="256.3" y="136.5" width="13.7" height="1.2" rx="0.6" fill="#b82230" opacity=".6"/>
<rect x="440.2" y="137.8" width="7" height="1.5" rx="0.7" fill="#d8a050" opacity=".6"/>
<rect x="213.1" y="137.8" width="12.2" height="1.2" rx="0.6" fill="#c81e24" opacity=".6"/>
<rect x="208.3" y="137.8" width="10.5" height="1.3" rx="0.7" fill="#d83024" opacity=".6"/>
<rect x="257.2" y="137.8" width="12.2" height="1.4" rx="0.7" fill="#d83024" opacity=".6"/>
<rect x="34.9" y="137.8" width="18.4" height="1.3" rx="0.6" fill="#f0c068" opacity=".6"/>
<rect x="253" y="137.8" width="18.5" height="1" rx="0.5" fill="#c81e24" opacity=".6"/>
<rect x="211.5" y="137.8" width="10.8" height="1.2" rx="0.6" fill="#f0b070" opacity=".6"/>
<rect x="251.3" y="137.8" width="14.4" height="0.8" rx="0.4" fill="#d83024" opacity=".6"/>
<rect x="241.3" y="139.1" width="21.5" height="1.2" rx="0.6" fill="#f0b070" opacity=".6"/>
<rect x="246.1" y="139.1" width="11.3" height="1.2" rx="0.6" fill="#f4c880" opacity=".6"/>
<rect x="220.1" y="139.1" width="17.5" height="0.9" rx="0.4" fill="#c81e24" opacity=".6"/>
<rect x="215" y="139.1" width="22.8" height="1.3" rx="0.7" fill="#e86a40" opacity=".6"/>
<rect x="248.5" y="139.1" width="8.6" height="1.4" rx="0.7" fill="#b82230" opacity=".6"/>
<rect x="218.6" y="139.1" width="17.9" height="0.9" rx="0.4" fill="#b82230" opacity=".6"/>
<rect x="135.6" y="139.1" width="16" height="1.1" rx="0.6" fill="#b89060" opacity=".6"/>
<rect x="247.1" y="139.1" width="15.1" height="1.1" rx="0.6" fill="#f4c880" opacity=".6"/>
<rect x="85.6" y="140.4" width="8.1" height="1.2" rx="0.6" fill="#f0c068" opacity=".6"/>
<rect x="33.5" y="140.4" width="23.5" height="0.9" rx="0.5" fill="#fbe8b4" opacity=".6"/>
<rect x="191.8" y="140.4" width="16" height="1.1" rx="0.6" fill="#fbe8b4" opacity=".6"/>
<rect x="13.1" y="140.4" width="8" height="1.1" rx="0.6" fill="#b89060" opacity=".6"/>
<rect x="382.1" y="140.4" width="17.8" height="1.3" rx="0.6" fill="#b89060" opacity=".6"/>
<rect x="336.1" y="140.4" width="17.3" height="1.3" rx="0.6" fill="#fbe8b4" opacity=".6"/>
<rect x="217.6" y="140.4" width="18" height="1" rx="0.5" fill="#d8a050" opacity=".6"/>
<rect x="8.4" y="140.4" width="9.3" height="0.9" rx="0.4" fill="#fbe8b4" opacity=".6"/>
<rect x="173.3" y="141.7" width="17.8" height="1.5" rx="0.8" fill="#d8a050" opacity=".6"/>
<rect x="118.2" y="141.7" width="16.1" height="1.4" rx="0.7" fill="#f0c068" opacity=".6"/>
<rect x="0.1" y="141.7" width="6.6" height="0.9" rx="0.5" fill="#fbe8b4" opacity=".6"/>
<rect x="399.9" y="141.7" width="15.4" height="1.2" rx="0.6" fill="#b89060" opacity=".6"/>
<rect x="211.9" y="141.7" width="22.5" height="1.3" rx="0.6" fill="#fbe8b4" opacity=".6"/>
<rect x="483.6" y="141.7" width="16.7" height="1.3" rx="0.7" fill="#d8a050" opacity=".6"/>
<rect x="40.7" y="141.7" width="13.4" height="1.2" rx="0.6" fill="#b89060" opacity=".6"/>
<rect x="-2.3" y="141.7" width="8.7" height="1" rx="0.5" fill="#fbe8b4" opacity=".6"/>
<rect x="480.4" y="143" width="18" height="0.8" rx="0.4" fill="#fbe8b4" opacity=".6"/>
<rect x="224.7" y="143" width="8.2" height="1" rx="0.5" fill="#f0c068" opacity=".6"/>
<rect x="354.6" y="143" width="10.4" height="1.4" rx="0.7" fill="#d8a050" opacity=".6"/>
<rect x="361.4" y="143" width="12.6" height="1.5" rx="0.8" fill="#d8a050" opacity=".6"/>
<rect x="302.4" y="143" width="7.5" height="1.4" rx="0.7" fill="#b89060" opacity=".6"/>
<rect x="116.3" y="143" width="22.8" height="1.2" rx="0.6" fill="#fbe8b4" opacity=".6"/>
<rect x="-2.7" y="143" width="6.2" height="1.4" rx="0.7" fill="#fbe8b4" opacity=".6"/>
<rect x="288.3" y="143" width="11.6" height="1.1" rx="0.6" fill="#b89060" opacity=".6"/>
<rect x="461.5" y="144.3" width="11.7" height="1.3" rx="0.6" fill="#b89060" opacity=".6"/>
<rect x="470.3" y="144.3" width="9" height="1.2" rx="0.6" fill="#fbe8b4" opacity=".6"/>
<rect x="303" y="144.3" width="17.6" height="1.1" rx="0.5" fill="#b89060" opacity=".6"/>
<rect x="215" y="144.3" width="20" height="1.2" rx="0.6" fill="#f0c068" opacity=".6"/>
<rect x="135.3" y="144.3" width="16.2" height="1.4" rx="0.7" fill="#fbe8b4" opacity=".6"/>
<rect x="388.6" y="144.3" width="17.7" height="1.3" rx="0.6" fill="#f0c068" opacity=".6"/>
<rect x="-2.3" y="144.3" width="19.1" height="1.5" rx="0.7" fill="#d8a050" opacity=".6"/>
<rect x="203" y="144.3" width="11.6" height="1.3" rx="0.6" fill="#d8a050" opacity=".6"/>
<rect x="289.1" y="145.6" width="18.3" height="1.1" rx="0.6" fill="#d8a050" opacity=".6"/>
<rect x="-9.2" y="145.6" width="11.1" height="1.4" rx="0.7" fill="#f0c068" opacity=".6"/>
<rect x="447.5" y="145.6" width="8.8" height="1" rx="0.5" fill="#fbe8b4" opacity=".6"/>
<rect x="432.6" y="145.6" width="8.5" height="1" rx="0.5" fill="#d8a050" opacity=".6"/>
<rect x="391.1" y="145.6" width="21.3" height="1" rx="0.5" fill="#b89060" opacity=".6"/>
<rect x="265.2" y="145.6" width="7.5" height="1.1" rx="0.5" fill="#b89060" opacity=".6"/>
<rect x="453.1" y="145.6" width="19.5" height="1" rx="0.5" fill="#d8a050" opacity=".6"/>
<rect x="186.6" y="145.6" width="7" height="1" rx="0.5" fill="#d8a050" opacity=".6"/>
<rect x="240.9" y="135.6" width="4.1" height="0.9" rx="0.5" fill="#e83a28" opacity=".55"/>
<rect x="299.4" y="108.8" width="11.7" height="0.9" rx="0.4" fill="#f06a38" opacity=".55"/>
<rect x="192.8" y="122.7" width="12.3" height="0.9" rx="0.5" fill="#a81830" opacity=".55"/>
<rect x="190.7" y="124.9" width="5.9" height="1.2" rx="0.6" fill="#f06a38" opacity=".55"/>
<rect x="238" y="115.3" width="7.6" height="0.8" rx="0.4" fill="#f06a38" opacity=".55"/>
<rect x="230.9" y="135.5" width="12.7" height="1" rx="0.5" fill="#a81830" opacity=".55"/>
<rect x="199.4" y="131.2" width="10" height="0.8" rx="0.4" fill="#a81830" opacity=".55"/>
<rect x="180" y="125.4" width="6" height="1" rx="0.5" fill="#e83a28" opacity=".55"/>
<rect x="308.5" y="112.8" width="6.8" height="1.3" rx="0.6" fill="#e8502c" opacity=".55"/>
<rect x="259" y="130.6" width="13.6" height="1.2" rx="0.6" fill="#a81830" opacity=".55"/>
<rect x="306" y="116.8" width="7.8" height="0.6" rx="0.3" fill="#e8502c" opacity=".55"/>
<rect x="276.8" y="123.8" width="8.6" height="1.2" rx="0.6" fill="#e8502c" opacity=".55"/>
<rect x="277.9" y="126.5" width="11.1" height="0.8" rx="0.4" fill="#e8502c" opacity=".55"/>
<rect x="244.1" y="124.1" width="13.6" height="0.7" rx="0.4" fill="#e83a28" opacity=".55"/>
<rect x="223.4" y="133.2" width="6.4" height="0.7" rx="0.4" fill="#f06a38" opacity=".55"/>
<rect x="260.2" y="136.1" width="4.6" height="1.2" rx="0.6" fill="#e8502c" opacity=".55"/>
<rect x="294.6" y="107.5" width="11.1" height="0.6" rx="0.3" fill="#e83a28" opacity=".55"/>
<rect x="282.4" y="110.6" width="13.4" height="1" rx="0.5" fill="#a81830" opacity=".55"/>
<rect x="249.1" y="120.1" width="8.7" height="0.8" rx="0.4" fill="#a81830" opacity=".55"/>
<rect x="220.4" y="110" width="5.7" height="1.2" rx="0.6" fill="#f06a38" opacity=".55"/>
<rect x="257.9" y="135.3" width="8.7" height="1.2" rx="0.6" fill="#f06a38" opacity=".55"/>
<rect x="302.9" y="111" width="4.8" height="1.2" rx="0.6" fill="#a81830" opacity=".55"/>
<rect x="212.7" y="110.5" width="5" height="1.2" rx="0.6" fill="#e83a28" opacity=".55"/>
<rect x="224" y="126.1" width="7.4" height="0.9" rx="0.5" fill="#f06a38" opacity=".55"/>
<rect x="187.5" y="126.1" width="6.2" height="0.7" rx="0.4" fill="#e8502c" opacity=".55"/>
<rect x="284" y="120.4" width="8.4" height="0.8" rx="0.4" fill="#f06a38" opacity=".55"/>
<rect x="174.4" y="119.2" width="6.7" height="0.8" rx="0.4" fill="#a81830" opacity=".55"/>
<rect x="222.4" y="111.4" width="7.2" height="0.7" rx="0.3" fill="#e83a28" opacity=".55"/>
<rect x="212.2" y="137.3" width="13" height="1" rx="0.5" fill="#f06a38" opacity=".55"/>
<rect x="199.7" y="132.7" width="11.5" height="0.9" rx="0.5" fill="#a81830" opacity=".55"/>
<rect x="179.7" y="114.4" width="6.4" height="0.8" rx="0.4" fill="#e83a28" opacity=".55"/>
<rect x="201.8" y="134.7" width="11.3" height="0.7" rx="0.4" fill="#a81830" opacity=".55"/>
<rect x="222.2" y="126.5" width="9.1" height="0.9" rx="0.5" fill="#f06a38" opacity=".55"/>
<rect x="272.6" y="131.3" width="6.9" height="0.9" rx="0.5" fill="#a81830" opacity=".55"/>
<path d="M-5,144 q14.2,-0.5 28.4,0 q11.1,-0.7 22.3,0 q7.6,0.5 15.2,0 q12.4,-0.5 24.8,0 q6.7,-0.7 13.4,0 q11.5,-0 23,0 q8.5,-0.5 16.9,0 q11.5,0.4 23,0 q13.3,0.1 26.6,0 q7.8,-0.8 15.6,0 q12.6,-0.2 25.2,0 q12.5,-0.8 25,0 q13.3,-0.3 26.6,0 q13.6,0.7 27.2,0 q10.4,-0.9 20.9,0 q14.2,-0 28.4,0 q13.8,-0.4 27.7,0 q7.7,0.6 15.3,0 q9.3,-0.6 18.6,0 q9.3,0.2 18.7,0 q6,0 12.1,0 q10,0 20,0 q7.1,0.4 14.2,0 q13.3,0.7 26.7,0" stroke="#a09070" stroke-width="0.9" fill="none" opacity="0.5"/>
<path d="M-5,146 q8.9,0.4 17.8,0 q9.4,0.5 18.9,0 q6.6,0.7 13.1,0 q14.6,-0 29.2,0 q10.6,0.1 21.2,0 q10.8,-0.9 21.7,0 q14.7,-0.5 29.4,0 q7.6,-0.7 15.3,0 q8.3,0.6 16.5,0 q6.3,-0.7 12.5,0 q12.3,-0.5 24.6,0 q6.2,0.2 12.3,0 q11.2,0 22.4,0 q12.3,-0.7 24.6,0 q13.8,0.4 27.7,0 q6.4,-0.7 12.8,0 q10.4,0 20.9,0 q8.5,-0.7 17,0 q9.7,-0.7 19.3,0 q11.3,0.6 22.7,0 q7.3,0.1 14.6,0 q12.7,-0.6 25.4,0 q13.4,0.8 26.9,0 q9.5,-0.1 19,0 q13.6,0 27.1,0" stroke="#fff8e0" stroke-width="1.2" fill="none" opacity="0.5"/>
<path d="M-5,147.6 q9.6,0.8 19.1,0 q13,-0.3 26,0 q8.2,-0.3 16.3,0 q9.9,0.9 19.8,0 q13.2,0.7 26.5,0 q13.3,0.6 26.7,0 q6.5,0 13,0 q14.6,0.8 29.2,0 q8.2,-0.1 16.5,0 q11.7,-0.2 23.4,0 q10.8,-0.8 21.6,0 q9.9,0 19.8,0 q6.2,-0.6 12.4,0 q14.7,0.5 29.5,0 q14.4,0.2 28.9,0 q13.3,0.7 26.6,0 q14,-0.8 27.9,0 q11.8,-0.4 23.5,0 q12.1,-0.4 24.2,0 q10.9,0.8 21.8,0 q11.6,-0.4 23.2,0 q10.7,-0.1 21.4,0" stroke="#a89478" stroke-width="0.9" fill="none" opacity="0.5"/>
<path d="M-5,150.6 q14.6,-0.4 29.1,0 q8.7,0.3 17.5,0 q7.1,0.2 14.2,0 q14.6,0 29.2,0 q8.4,-0.1 16.8,0 q10.8,-0.6 21.6,0 q7.1,-0.7 14.2,0 q8.6,-0.2 17.3,0 q8.6,-0.5 17.2,0 q6.8,0.1 13.6,0 q13.6,0.2 27.1,0 q11.1,0.3 22.3,0 q7.8,0.4 15.6,0 q10.1,0.1 20.3,0 q11.5,-0.1 23,0 q8.8,-0.5 17.6,0 q8,0 16,0 q9.4,0.2 18.9,0 q6.1,-0.3 12.2,0 q13.8,-0.5 27.5,0 q11,-0 22,0 q8.6,0.9 17.1,0 q8.7,0.5 17.3,0 q7.4,-0.8 14.9,0 q13.8,-0.1 27.7,0 q6.6,-0.2 13.1,0" stroke="#b0a0a0" stroke-width="0.9" fill="none" opacity="0.55"/>
<path d="M-5,153 q10,0.4 19.9,0 q7,-0.5 14,0 q14.6,0.4 29.3,0 q7.4,-0.3 14.8,0 q9.2,0.3 18.3,0 q11.5,0.6 23.1,0 q13.4,0 26.8,0 q12.6,0.4 25.3,0 q12.8,-0 25.7,0 q13.1,0.4 26.1,0 q14.2,-0.7 28.5,0 q13.8,-0.9 27.7,0 q12.9,0.2 25.8,0 q10.5,0.8 21,0 q11.1,-0.1 22.3,0 q13.1,0.7 26.1,0 q11.5,-0.2 22.9,0 q10.1,-0.1 20.1,0 q12.5,-0.4 25,0 q9.5,0.1 19,0 q9.5,-0.3 18.9,0 q13.1,0.6 26.2,0" stroke="#c8a0b8" stroke-width="1" fill="none" opacity="0.6"/>
<path d="M-5,154.6 q10.5,-0.1 21,0 q7.7,-0.4 15.3,0 q7.3,0.1 14.6,0 q11.2,-0.7 22.5,0 q14.3,-0.3 28.6,0 q13.6,0.6 27.2,0 q14.6,-0.5 29.3,0 q9.8,0.7 19.7,0 q6.1,-0.8 12.2,0 q11.1,-0 22.2,0 q14.3,0.5 28.6,0 q10.8,0.9 21.7,0 q10.7,0 21.3,0 q12.2,-0.2 24.3,0 q9.2,0.2 18.4,0 q9.2,0.8 18.3,0 q12.1,0 24.2,0 q6.9,-0.2 13.8,0 q9.6,0.1 19.2,0 q11.2,0.7 22.3,0 q14.7,-0 29.4,0 q10,0.2 19.9,0 q15,-0.3 29.9,0" stroke="#f8dcec" stroke-width="1.2" fill="none" opacity="0.6"/>
<path d="M-5,156.3 q10.8,0.6 21.5,0 q7.5,-0.3 15.1,0 q14.8,0.6 29.6,0 q10.6,-0.7 21.2,0 q14.1,0.3 28.1,0 q13.4,0.9 26.8,0 q14,-0.1 28,0 q7.4,-0.4 14.8,0 q10.6,0 21.2,0 q7.7,-0.6 15.4,0 q11.7,0.2 23.3,0 q9.2,0.9 18.4,0 q11.7,-0.8 23.5,0 q9.7,0.5 19.4,0 q8.8,0.3 17.5,0 q6,-0.4 12.1,0 q13.6,0.2 27.2,0 q12,-0.5 24,0 q10.5,0.1 21,0 q8.4,0.3 16.8,0 q10.8,0.9 21.6,0 q11.2,-0.2 22.3,0 q7.1,-0.6 14.2,0 q12.8,-0.7 25.7,0" stroke="#8a6080" stroke-width="1.1" fill="none" opacity="0.8"/>
<path d="M-5,158.1 q6.9,-0.6 13.8,0 q10.7,0.6 21.4,0 q11.5,0.6 23,0 q6.6,-0.9 13.1,0 q12.9,-0.3 25.9,0 q12.4,-0.3 24.9,0 q7.5,-0.4 15,0 q6.9,0.7 13.8,0 q11.2,-0.3 22.5,0 q10,-0.2 20.1,0 q6.5,0.7 13,0 q11.2,0.8 22.5,0 q10,0.2 19.9,0 q8.2,-0.8 16.5,0 q14.4,0.6 28.8,0 q8.8,0.7 17.7,0 q13.3,-0.4 26.7,0 q11.4,0.8 22.8,0 q10.5,0.8 20.9,0 q8.2,-0.2 16.4,0 q12.5,-0.5 24.9,0 q8.8,0.7 17.6,0 q10.4,0.5 20.7,0 q8.2,-0.6 16.4,0 q9.2,-0.6 18.5,0 q14.7,-0.4 29.5,0" stroke="#f6d0ea" stroke-width="1.2" fill="none" opacity="0.7"/>
<path d="M-5,159.9 q11.1,-0.7 22.1,0 q10.8,-0.2 21.6,0 q9.6,-0.8 19.3,0 q7.1,0.6 14.2,0 q9.2,-0.5 18.3,0 q7.7,-0.4 15.4,0 q8.1,-0.8 16.3,0 q12,-0.3 24,0 q7.4,0.4 14.8,0 q6.8,-0.4 13.7,0 q13.5,-0.7 27,0 q10,0.6 20,0 q13.2,-0.6 26.5,0 q9.2,0.4 18.4,0 q9.4,0.8 18.8,0 q7.9,0.8 15.7,0 q10.5,-0.5 21.1,0 q10.1,-0.7 20.1,0 q12.4,-0.4 24.7,0 q14.1,0.2 28.2,0 q9.3,-0.5 18.6,0 q11.5,-0.5 22.9,0 q13.9,-0.7 27.7,0 q10.6,0.1 21.2,0 q8.4,0.5 16.9,0" stroke="#8a6080" stroke-width="1.2" fill="none" opacity="0.85"/>
<path d="M-5,161.3 q9.5,0.3 18.9,0 q11.1,-0.3 22.2,0 q9.5,-0.7 19,0 q7.6,0.6 15.2,0 q8.9,0.3 17.8,0 q7,0.1 14,0 q9.3,0 18.5,0 q8.7,-0.8 17.3,0 q8.8,-0.5 17.6,0 q7.1,0.4 14.3,0 q8.5,-0.2 17.1,0 q14.2,0.5 28.4,0 q13.9,0.7 27.9,0 q7.2,-0.4 14.4,0 q6.3,0.3 12.5,0 q12,-0.3 23.9,0 q9.7,0.3 19.4,0 q12.3,-0.5 24.6,0 q13.6,-0.3 27.2,0 q11.7,-0.6 23.3,0 q7,0.7 14.1,0 q12.6,0.4 25.2,0 q6.4,-0.8 12.7,0 q7.5,-0.5 14.9,0 q8.7,-0.2 17.5,0 q6.4,-0.3 12.7,0 q11.7,-0.6 23.5,0" stroke="#f0c4e4" stroke-width="1" fill="none" opacity="0.7"/></svg></div>
<div class="mat" style="left:213.5px;top:225.2px;width:438px;height:162.6px"><svg viewBox="0 0 487 162" preserveAspectRatio="none"><rect width="487" height="90" fill="url(#sky)"/>
<ellipse cx="430" cy="32" rx="140" ry="7.5" fill="#f48e18" opacity=".7" filter="url(#b4)"/>
<ellipse cx="420" cy="4" rx="130" ry="7" fill="#f4b0c8" opacity=".6" filter="url(#b4)"/>
<ellipse cx="120" cy="27" rx="120" ry="6" fill="#f6c050" opacity=".35" filter="url(#b4)"/>
<ellipse cx="450" cy="63" rx="80" ry="5" fill="#f88458" opacity=".45" filter="url(#b4)"/>
<path d="M0,68.3 L22.6,67.4 L30,66 L36.8,65.4 L52.8,64.6 L70.6,62.8 L88.4,59.8 L106.2,57 L123.9,53.6 L141.7,50.9 L159.5,48.2 L175,45 L191.5,40.8 L206.5,37.2 L215,35 L222,33 L228.5,31.5 L236,31.1 L244,31 L252,31.2 L259.5,31.8 L268,34.6 L286.5,40.4 L295.1,43.3 L317.3,48.5 L339.5,52.7 L356.2,55.5 L372.8,56.3 L389.5,57.4 L406.2,61 L422.8,65.7 L439.5,68.5 L461.5,69.3 L487,72.3 L487,80 L0,80 Z" fill="url(#mtn)"/>
<path d="M0,68.3 L22.6,67.4 L30,66 L36.8,65.4 L52.8,64.6 L70.6,62.8 L88.4,59.8 L106.2,57 L123.9,53.6 L141.7,50.9 L159.5,48.2 L175,45 L191.5,40.8 L206.5,37.2 L215,35 L222,33 L228.5,31.5 L236,31.1 L244,31 L252,31.2 L259.5,31.8 L268,34.6 L286.5,40.4 L295.1,43.3 L317.3,48.5 L339.5,52.7 L356.2,55.5 L372.8,56.3 L389.5,57.4 L406.2,61 L422.8,65.7 L439.5,68.5 L461.5,69.3 L487,72.3 L487,80 L0,80 Z" fill="url(#mtnR)"/>
<path d="M100,59 C150,54 200,48 242,47.5 C282,47.5 322,52 380,60" stroke="#a8122a" stroke-width="3" fill="none" opacity=".5" filter="url(#b1)"/>
<path d="M262,36 L290,48" stroke="#b01a24" stroke-width="1.4" opacity=".3" filter="url(#b05)"/>
<path d="M272,40 L302,51" stroke="#b01a24" stroke-width="1.4" opacity=".3" filter="url(#b05)"/>
<path d="M252,35 L262,45" stroke="#b01a24" stroke-width="1.4" opacity=".3" filter="url(#b05)"/>
<path d="M232,35 L222,44" stroke="#b01a24" stroke-width="1.4" opacity=".3" filter="url(#b05)"/>
<path d="M258,34 C266,40 274,46 284,52 L288,51 C278,45 270,39 262,33 Z" fill="#a01424" opacity="0.35" filter="url(#b05)"/>
<path d="M268,37 C280,43 292,49 306,55 L309,53 C296,47 284,41 272,36 Z" fill="#a01424" opacity="0.3" filter="url(#b05)"/>
<path d="M246,33 C250,39 254,45 256,50 L259,50 C257,44 253,38 250,33 Z" fill="#a01424" opacity="0.3" filter="url(#b05)"/>
<path d="M226,34 C220,40 212,46 204,50 L207,51 C214,47 222,41 229,35 Z" fill="#a01424" opacity="0.25" filter="url(#b05)"/>
<path d="M60,64.5 C110,61 150,58 200,57" stroke="#b83050" stroke-width="1.5" fill="none" opacity=".45" filter="url(#b05)"/>
<path d="M0,70.5 L90,71 C170,73.5 230,75 290,75 C360,74.5 420,72.5 487,71.5 L487,88 L0,88 Z" fill="url(#dark)"/>
<path d="M0,69.8 L90,70.3 C170,72.8 230,74.3 290,74.3 C360,73.8 420,71.8 487,70.8" stroke="#6a1c3a" stroke-width="1.6" fill="none" opacity=".5" filter="url(#b05)"/>
<path d="M20,76.5 C120,76.2 220,77.4 330,78 L330,79.2 C220,78.6 120,77.6 20,78 Z" fill="#a02848" opacity=".4"/>
<rect x="165.7" y="85.1" width="2" height="1.2" fill="#f4e4e4" opacity="0.4"/>
<rect x="261.1" y="84.6" width="2.8" height="1.2" fill="#f4e4e4" opacity="0.6"/>
<rect x="36.9" y="84.7" width="3" height="1.2" fill="#f4e4e4" opacity="0.4"/>
<rect x="211" y="84.7" width="4.4" height="1.2" fill="#f4e4e4" opacity="0.5"/>
<rect x="302.3" y="85.1" width="4.8" height="1.2" fill="#f4e4e4" opacity="0.5"/>
<rect x="459.3" y="85.3" width="1.7" height="1.2" fill="#f4e4e4" opacity="0.5"/>
<rect x="84.9" y="84.8" width="1.9" height="1.2" fill="#f4e4e4" opacity="0.7"/>
<rect x="101.3" y="85.1" width="3.5" height="1.2" fill="#f4e4e4" opacity="0.5"/>
<rect x="266.5" y="84.6" width="1.7" height="1.2" fill="#f4e4e4" opacity="0.4"/>
<rect x="326.2" y="84.9" width="3" height="1.2" fill="#f4e4e4" opacity="0.6"/>
<rect x="223.9" y="85.2" width="2.5" height="1.2" fill="#f4e4e4" opacity="0.7"/>
<rect x="129.8" y="85" width="3.5" height="1.2" fill="#f4e4e4" opacity="0.7"/>
<rect x="348.3" y="85.4" width="2.5" height="1.2" fill="#f4e4e4" opacity="0.4"/>
<rect x="208.2" y="84.7" width="4.1" height="1.2" fill="#f4e4e4" opacity="0.6"/>
<rect x="37.6" y="85.2" width="3.8" height="1.2" fill="#f4e4e4" opacity="0.6"/>
<rect x="414" y="85.2" width="2.6" height="1.2" fill="#f4e4e4" opacity="0.6"/>
<rect x="281" y="85.3" width="3.1" height="1.2" fill="#f4e4e4" opacity="0.8"/>
<rect x="233.3" y="84.6" width="3.8" height="1.2" fill="#f4e4e4" opacity="0.7"/>
<rect x="311.2" y="85.3" width="5" height="1.2" fill="#f4e4e4" opacity="0.5"/>
<rect x="193.6" y="84.6" width="3.8" height="1.2" fill="#f4e4e4" opacity="0.6"/>
<rect x="95.6" y="84.6" width="1.9" height="1.2" fill="#f4e4e4" opacity="0.7"/>
<rect x="78.2" y="84.9" width="2.4" height="1.2" fill="#f4e4e4" opacity="0.7"/>
<rect y="87" width="487" height="75" fill="url(#water)"/>
<rect x="200" y="118" width="287" height="25" fill="url(#waterR)" filter="url(#b1)"/>
<ellipse cx="236" cy="93.5" rx="170" ry="6" fill="#d84830" opacity=".55" filter="url(#b3)"/>
<rect x="-6" y="97.5" width="499" height="13.5" fill="url(#rband)" filter="url(#b1)"/>
<path d="M88,97 L88,98.5 L88,100 L88,101.5 L88,103 L88,104.5 L88,106 L88,107.5 L88,109 L93.4,110.5 L109.5,112 L125.6,113.5 L133.7,115 L137.8,116.5 L142.1,118 L146.4,119.5 L150.8,121 L155.3,122.5 L160,124 L164.8,125.5 L169.9,127 L175.1,128.5 L180.5,130 L186.3,131.5 L192.4,133 L199,134.5 L206.3,136 L214.8,137.5 L225.5,139 L253,139 L262.4,137.5 L269.5,136 L275.4,134.5 L280.7,133 L285.5,131.5 L289.9,130 L294,128.5 L297.8,127 L301.5,125.5 L305,124 L308.3,122.5 L311.5,121 L314.6,119.5 L317.5,118 L320.4,116.5 L323.2,115 L330.4,113.5 L346.5,112 L362.6,110.5 L368,109 L368,107.5 L368,106 L368,104.5 L368,103 L368,101.5 L368,100 L368,98.5 L368,97 Z" fill="url(#refl)" filter="url(#b15)"/>
<rect x="63.1" y="97.5" width="14.1" height="0.9" rx="0.4" fill="#e0a070" opacity=".6"/>
<rect x="386.9" y="97.5" width="13.5" height="1" rx="0.5" fill="#b83c3c" opacity=".6"/>
<rect x="-4" y="97.5" width="8.7" height="0.9" rx="0.4" fill="#f8d8a0" opacity=".6"/>
<rect x="368.6" y="97.5" width="11.1" height="0.9" rx="0.5" fill="#c85a44" opacity=".6"/>
<rect x="81.2" y="97.5" width="18.4" height="1.6" rx="0.8" fill="#e0a070" opacity=".6"/>
<rect x="336.9" y="97.5" width="13.2" height="1.1" rx="0.6" fill="#9a2434" opacity=".6"/>
<rect x="103.3" y="97.5" width="13.9" height="1.6" rx="0.8" fill="#e0a070" opacity=".6"/>
<rect x="108.1" y="97.5" width="7.8" height="0.9" rx="0.5" fill="#b83c3c" opacity=".6"/>
<rect x="369.4" y="98.8" width="8.7" height="1.3" rx="0.6" fill="#8a1c30" opacity=".6"/>
<rect x="221.6" y="98.8" width="21.3" height="0.9" rx="0.4" fill="#8a2a30" opacity=".6"/>
<rect x="358" y="98.8" width="8.6" height="1" rx="0.5" fill="#8a2a30" opacity=".6"/>
<rect x="343.8" y="98.8" width="8.9" height="1.5" rx="0.7" fill="#e0a070" opacity=".6"/>
<rect x="67.2" y="98.8" width="19.6" height="1.5" rx="0.8" fill="#c85a44" opacity=".6"/>
<rect x="75" y="98.8" width="22.3" height="1.2" rx="0.6" fill="#e0a070" opacity=".6"/>
<rect x="479.5" y="98.8" width="10" height="1.1" rx="0.5" fill="#e0a070" opacity=".6"/>
<rect x="102.7" y="98.8" width="20.7" height="1.4" rx="0.7" fill="#f8d8a0" opacity=".6"/>
<rect x="382.7" y="100.1" width="19.2" height="1.2" rx="0.6" fill="#8a2a30" opacity=".6"/>
<rect x="212.3" y="100.1" width="18.5" height="1" rx="0.5" fill="#f0c080" opacity=".6"/>
<rect x="83.4" y="100.1" width="12.6" height="1.6" rx="0.8" fill="#c85a44" opacity=".6"/>
<rect x="407.7" y="100.1" width="17.2" height="1" rx="0.5" fill="#8a2a30" opacity=".6"/>
<rect x="59" y="100.1" width="12.2" height="1.5" rx="0.8" fill="#b83c3c" opacity=".6"/>
<rect x="155.3" y="100.1" width="9.2" height="1.2" rx="0.6" fill="#8a2a30" opacity=".6"/>
<rect x="96.8" y="100.1" width="19.4" height="1.2" rx="0.6" fill="#b83c3c" opacity=".6"/>
<rect x="73.4" y="100.1" width="16.6" height="0.8" rx="0.4" fill="#e0a070" opacity=".6"/>
<rect x="105.9" y="101.4" width="17.8" height="1.6" rx="0.8" fill="#9a2434" opacity=".6"/>
<rect x="58.3" y="101.4" width="22.8" height="1.2" rx="0.6" fill="#b83c3c" opacity=".6"/>
<rect x="349.6" y="101.4" width="9.8" height="0.8" rx="0.4" fill="#8a1c30" opacity=".6"/>
<rect x="436.2" y="101.4" width="7.1" height="1.5" rx="0.7" fill="#f8d8a0" opacity=".6"/>
<rect x="426.4" y="101.4" width="15.3" height="1.5" rx="0.7" fill="#e0a070" opacity=".6"/>
<rect x="375.8" y="101.4" width="15.4" height="1.2" rx="0.6" fill="#e0a070" opacity=".6"/>
<rect x="364.5" y="101.4" width="20.4" height="0.8" rx="0.4" fill="#9a2434" opacity=".6"/>
<rect x="378" y="101.4" width="11.9" height="1.2" rx="0.6" fill="#9a2434" opacity=".6"/>
<rect x="69.2" y="102.7" width="7" height="1.5" rx="0.8" fill="#e0a070" opacity=".6"/>
<rect x="21.5" y="102.7" width="6.5" height="1.2" rx="0.6" fill="#f0c080" opacity=".6"/>
<rect x="357.8" y="102.7" width="15.1" height="1.3" rx="0.6" fill="#e0a070" opacity=".6"/>
<rect x="384.1" y="102.7" width="15.1" height="1.4" rx="0.7" fill="#b83c3c" opacity=".6"/>
<rect x="353.5" y="102.7" width="8.5" height="1.5" rx="0.7" fill="#b83c3c" opacity=".6"/>
<rect x="60.9" y="102.7" width="9.8" height="1.1" rx="0.6" fill="#b83c3c" opacity=".6"/>
<rect x="380.6" y="102.7" width="17.6" height="1.6" rx="0.8" fill="#8a1c30" opacity=".6"/>
<rect x="337.5" y="102.7" width="23.1" height="1" rx="0.5" fill="#b83c3c" opacity=".6"/>
<rect x="356.7" y="104" width="13.8" height="0.9" rx="0.5" fill="#c85a44" opacity=".6"/>
<rect x="355.2" y="104" width="19" height="1.1" rx="0.5" fill="#9a2434" opacity=".6"/>
<rect x="102" y="104" width="15.3" height="1.1" rx="0.6" fill="#b83c3c" opacity=".6"/>
<rect x="61.3" y="104" width="7.9" height="1.6" rx="0.8" fill="#b83c3c" opacity=".6"/>
<rect x="358.6" y="104" width="8.3" height="1" rx="0.5" fill="#e0a070" opacity=".6"/>
<rect x="34.5" y="104" width="16.3" height="1.5" rx="0.8" fill="#a83c34" opacity=".6"/>
<rect x="123.7" y="104" width="9.3" height="1.4" rx="0.7" fill="#a83c34" opacity=".6"/>
<rect x="102.1" y="104" width="20.4" height="1.3" rx="0.7" fill="#9a2434" opacity=".6"/>
<rect x="368.8" y="105.3" width="12.1" height="1.2" rx="0.6" fill="#9a2434" opacity=".6"/>
<rect x="96.2" y="105.3" width="10.3" height="1.2" rx="0.6" fill="#b83c3c" opacity=".6"/>
<rect x="94" y="105.3" width="11.6" height="1" rx="0.5" fill="#e0a070" opacity=".6"/>
<rect x="484.3" y="105.3" width="10.9" height="1.3" rx="0.7" fill="#a83c34" opacity=".6"/>
<rect x="77.6" y="105.3" width="19.2" height="0.8" rx="0.4" fill="#b83c3c" opacity=".6"/>
<rect x="368" y="105.3" width="21" height="1.2" rx="0.6" fill="#b83c3c" opacity=".6"/>
<rect x="109.1" y="106.6" width="12.3" height="1.1" rx="0.6" fill="#c85a44" opacity=".6"/>
<rect x="330.8" y="106.6" width="23.5" height="1.2" rx="0.6" fill="#b83c3c" opacity=".6"/>
<rect x="387.5" y="106.6" width="14" height="0.9" rx="0.5" fill="#e0a070" opacity=".6"/>
<rect x="98.3" y="106.6" width="6.6" height="1.1" rx="0.5" fill="#e0a070" opacity=".6"/>
<rect x="95.7" y="106.6" width="12.9" height="0.8" rx="0.4" fill="#9a2434" opacity=".6"/>
<rect x="83.6" y="106.6" width="20.7" height="0.9" rx="0.4" fill="#c85a44" opacity=".6"/>
<rect x="74.1" y="106.6" width="10.2" height="1" rx="0.5" fill="#e0a070" opacity=".6"/>
<rect x="64.3" y="107.9" width="11.9" height="1.1" rx="0.6" fill="#f8d8a0" opacity=".6"/>
<rect x="433.3" y="107.9" width="6.8" height="1.3" rx="0.7" fill="#8a2a30" opacity=".6"/>
<rect x="59.4" y="107.9" width="20.6" height="1.4" rx="0.7" fill="#e0a070" opacity=".6"/>
<rect x="91.5" y="107.9" width="6.8" height="0.9" rx="0.4" fill="#8a1c30" opacity=".6"/>
<rect x="79.9" y="107.9" width="17.3" height="1.2" rx="0.6" fill="#9a2434" opacity=".6"/>
<rect x="436.2" y="107.9" width="7.3" height="1.2" rx="0.6" fill="#a83c34" opacity=".6"/>
<rect x="92" y="109.2" width="10.8" height="0.9" rx="0.4" fill="#8a2a30" opacity=".6"/>
<rect x="376.5" y="109.2" width="12.9" height="1.2" rx="0.6" fill="#e0a070" opacity=".6"/>
<rect x="349.4" y="109.2" width="9.6" height="1.3" rx="0.7" fill="#c85a44" opacity=".6"/>
<rect x="350.9" y="109.2" width="8.4" height="1.3" rx="0.6" fill="#9a2434" opacity=".6"/>
<rect x="356.9" y="109.2" width="18.2" height="1.4" rx="0.7" fill="#8a1c30" opacity=".6"/>
<rect x="382.8" y="109.2" width="23.9" height="1.4" rx="0.7" fill="#8a1c30" opacity=".6"/>
<rect x="471.1" y="109.2" width="14.3" height="0.8" rx="0.4" fill="#8a2a30" opacity=".6"/>
<rect x="452.5" y="109.2" width="13" height="1.6" rx="0.8" fill="#a83c34" opacity=".6"/>
<rect x="338.6" y="110.5" width="8.6" height="1.3" rx="0.6" fill="#e0a070" opacity=".6"/>
<rect x="380" y="110.5" width="8" height="1" rx="0.5" fill="#8a1c30" opacity=".6"/>
<rect x="343.2" y="110.5" width="19.1" height="1.1" rx="0.6" fill="#c85a44" opacity=".6"/>
<rect x="49.7" y="110.5" width="19.5" height="0.8" rx="0.4" fill="#e0a070" opacity=".6"/>
<rect x="328.1" y="110.5" width="22.2" height="1.4" rx="0.7" fill="#8a1c30" opacity=".6"/>
<rect x="368.1" y="110.5" width="16.6" height="1.6" rx="0.8" fill="#9a2434" opacity=".6"/>
<rect x="321.9" y="111.8" width="23.5" height="0.9" rx="0.5" fill="#b82230" opacity=".6"/>
<rect x="361.8" y="111.8" width="13.7" height="1.4" rx="0.7" fill="#f0b070" opacity=".6"/>
<rect x="336.8" y="111.8" width="19" height="1.2" rx="0.6" fill="#d83024" opacity=".6"/>
<rect x="117.7" y="111.8" width="11.2" height="1.3" rx="0.7" fill="#e86a40" opacity=".6"/>
<rect x="475.2" y="111.8" width="11.4" height="1.1" rx="0.5" fill="#c08058" opacity=".6"/>
<rect x="325.2" y="111.8" width="10.3" height="1.1" rx="0.6" fill="#f4c880" opacity=".6"/>
<rect x="332.3" y="113.1" width="9.5" height="0.9" rx="0.5" fill="#b82230" opacity=".6"/>
<rect x="105.3" y="113.1" width="10.7" height="1" rx="0.5" fill="#e86a40" opacity=".6"/>
<rect x="318.1" y="113.1" width="19.4" height="1.1" rx="0.6" fill="#c81e24" opacity=".6"/>
<rect x="130.5" y="113.1" width="16.3" height="1.2" rx="0.6" fill="#d83024" opacity=".6"/>
<rect x="340.7" y="113.1" width="17.6" height="1.1" rx="0.6" fill="#c81e24" opacity=".6"/>
<rect x="389.7" y="113.1" width="13.7" height="0.9" rx="0.5" fill="#fae6b4" opacity=".6"/>
<rect x="400.3" y="113.1" width="13" height="0.8" rx="0.4" fill="#fae6b4" opacity=".6"/>
<rect x="130.9" y="113.1" width="10.5" height="1.6" rx="0.8" fill="#f4c880" opacity=".6"/>
<rect x="410.7" y="114.4" width="20.9" height="0.9" rx="0.4" fill="#fae6b4" opacity=".6"/>
<rect x="132.4" y="114.4" width="20" height="0.9" rx="0.4" fill="#c81e24" opacity=".6"/>
<rect x="319.6" y="114.4" width="11.5" height="1.3" rx="0.7" fill="#e86a40" opacity=".6"/>
<rect x="132.4" y="114.4" width="8" height="1.4" rx="0.7" fill="#d83024" opacity=".6"/>
<rect x="312.8" y="114.4" width="6" height="1.4" rx="0.7" fill="#b82230" opacity=".6"/>
<rect x="119.3" y="114.4" width="21.9" height="1.3" rx="0.7" fill="#c81e24" opacity=".6"/>
<rect x="134.5" y="114.4" width="18.7" height="1.6" rx="0.8" fill="#f4c880" opacity=".6"/>
<rect x="336.9" y="114.4" width="7.5" height="1.3" rx="0.7" fill="#d83024" opacity=".6"/>
<rect x="143.5" y="115.7" width="6.1" height="1.1" rx="0.6" fill="#d83024" opacity=".6"/>
<rect x="134" y="115.7" width="20.8" height="1" rx="0.5" fill="#b82230" opacity=".6"/>
<rect x="127.6" y="115.7" width="17.2" height="0.9" rx="0.4" fill="#f4c880" opacity=".6"/>
<rect x="17" y="115.7" width="16.7" height="0.8" rx="0.4" fill="#fff4d4" opacity=".6"/>
<rect x="143.1" y="115.7" width="8.6" height="1.6" rx="0.8" fill="#e86a40" opacity=".6"/>
<rect x="485.8" y="115.7" width="21.9" height="1.5" rx="0.8" fill="#d8a060" opacity=".6"/>
<rect x="360.9" y="115.7" width="9.3" height="1.1" rx="0.5" fill="#fff4d4" opacity=".6"/>
<rect x="479.5" y="117" width="19.1" height="1" rx="0.5" fill="#fae6b4" opacity=".6"/>
<rect x="313.6" y="117" width="6.1" height="0.9" rx="0.5" fill="#c81e24" opacity=".6"/>
<rect x="321.2" y="117" width="19.7" height="1.2" rx="0.6" fill="#e86a40" opacity=".6"/>
<rect x="299.1" y="117" width="18.7" height="0.9" rx="0.4" fill="#b82230" opacity=".6"/>
<rect x="120.7" y="117" width="14.5" height="1.4" rx="0.7" fill="#e86a40" opacity=".6"/>
<rect x="144.7" y="117" width="6.6" height="0.8" rx="0.4" fill="#f4c880" opacity=".6"/>
<rect x="327.5" y="117" width="16.9" height="0.9" rx="0.4" fill="#f0b070" opacity=".6"/>
<rect x="449.3" y="117" width="19.4" height="0.8" rx="0.4" fill="#c08058" opacity=".6"/>
<rect x="305.1" y="118.3" width="19.6" height="0.8" rx="0.4" fill="#fff4d4" opacity=".6"/>
<rect x="327.7" y="118.3" width="10.2" height="0.8" rx="0.4" fill="#e86a40" opacity=".6"/>
<rect x="56" y="118.3" width="22.4" height="1.4" rx="0.7" fill="#fae6b4" opacity=".6"/>
<rect x="398.9" y="118.3" width="20.4" height="0.9" rx="0.5" fill="#d8a060" opacity=".6"/>
<rect x="320.9" y="118.3" width="11.9" height="1.3" rx="0.6" fill="#f0b070" opacity=".6"/>
<rect x="112.9" y="118.3" width="9.6" height="0.9" rx="0.4" fill="#fff4d4" opacity=".6"/>
<rect x="118.9" y="118.3" width="14.7" height="1.3" rx="0.7" fill="#c81e24" opacity=".6"/>
<rect x="140.3" y="118.3" width="10.8" height="1.6" rx="0.8" fill="#f4c880" opacity=".6"/>
<rect x="313.9" y="119.6" width="9.1" height="1.6" rx="0.8" fill="#f4c880" opacity=".6"/>
<rect x="367.5" y="119.6" width="15.7" height="1" rx="0.5" fill="#c08058" opacity=".6"/>
<rect x="296.2" y="119.6" width="16.2" height="1" rx="0.5" fill="#d83024" opacity=".6"/>
<rect x="147.4" y="119.6" width="10.2" height="0.9" rx="0.5" fill="#e86a40" opacity=".6"/>
<rect x="136.3" y="119.6" width="10.4" height="1" rx="0.5" fill="#c81e24" opacity=".6"/>
<rect x="407.8" y="119.6" width="14.5" height="0.9" rx="0.4" fill="#c08058" opacity=".6"/>
<rect x="137.6" y="119.6" width="11.3" height="0.8" rx="0.4" fill="#f0b070" opacity=".6"/>
<rect x="144.7" y="119.6" width="7.4" height="1" rx="0.5" fill="#b82230" opacity=".6"/>
<rect x="293.6" y="120.9" width="18" height="1.4" rx="0.7" fill="#b82230" opacity=".6"/>
<rect x="9" y="120.9" width="6.8" height="1.1" rx="0.5" fill="#d8a060" opacity=".6"/>
<rect x="291.2" y="120.9" width="20.7" height="1.5" rx="0.7" fill="#b82230" opacity=".6"/>
<rect x="294.4" y="120.9" width="6.6" height="0.9" rx="0.4" fill="#c81e24" opacity=".6"/>
<rect x="136.6" y="120.9" width="18" height="1.4" rx="0.7" fill="#e86a40" opacity=".6"/>
<rect x="302.4" y="120.9" width="13.4" height="1.4" rx="0.7" fill="#c81e24" opacity=".6"/>
<rect x="288.1" y="120.9" width="16.2" height="1" rx="0.5" fill="#b82230" opacity=".6"/>
<rect x="146.1" y="120.9" width="13" height="1.3" rx="0.7" fill="#d83024" opacity=".6"/>
<rect x="297.4" y="122.2" width="20.8" height="1.1" rx="0.6" fill="#d83024" opacity=".6"/>
<rect x="292.8" y="122.2" width="6.9" height="0.9" rx="0.5" fill="#f0b070" opacity=".6"/>
<rect x="292.6" y="122.2" width="19.3" height="1.5" rx="0.8" fill="#f0b070" opacity=".6"/>
<rect x="156.9" y="122.2" width="7.2" height="0.9" rx="0.5" fill="#c81e24" opacity=".6"/>
<rect x="288.8" y="122.2" width="14.7" height="1.6" rx="0.8" fill="#f4c880" opacity=".6"/>
<rect x="140.3" y="122.2" width="20.8" height="1.3" rx="0.6" fill="#f0b070" opacity=".6"/>
<rect x="158.1" y="122.2" width="20.9" height="1.5" rx="0.7" fill="#f0b070" opacity=".6"/>
<rect x="162.4" y="122.2" width="12.5" height="0.9" rx="0.5" fill="#f0b070" opacity=".6"/>
<rect x="151.1" y="123.5" width="18.1" height="1.5" rx="0.7" fill="#b89060" opacity=".6"/>
<rect x="302.6" y="123.5" width="15.9" height="1.3" rx="0.6" fill="#b82230" opacity=".6"/>
<rect x="301.9" y="123.5" width="6.4" height="1.2" rx="0.6" fill="#e86a40" opacity=".6"/>
<rect x="139.2" y="123.5" width="20" height="1.4" rx="0.7" fill="#e86a40" opacity=".6"/>
<rect x="145.4" y="123.5" width="8.3" height="0.9" rx="0.4" fill="#f0b070" opacity=".6"/>
<rect x="142.6" y="123.5" width="6.7" height="1.2" rx="0.6" fill="#b82230" opacity=".6"/>
<rect x="303" y="123.5" width="15.2" height="1.4" rx="0.7" fill="#d83024" opacity=".6"/>
<rect x="167.6" y="124.8" width="7.2" height="0.8" rx="0.4" fill="#e86a40" opacity=".6"/>
<rect x="331" y="124.8" width="20.6" height="1" rx="0.5" fill="#d8a050" opacity=".6"/>
<rect x="68.9" y="124.8" width="12.3" height="0.9" rx="0.4" fill="#f0c068" opacity=".6"/>
<rect x="287.8" y="124.8" width="14.2" height="1.5" rx="0.8" fill="#b82230" opacity=".6"/>
<rect x="166.4" y="124.8" width="10.3" height="1.3" rx="0.6" fill="#d83024" opacity=".6"/>
<rect x="288.3" y="124.8" width="11" height="1.3" rx="0.7" fill="#b82230" opacity=".6"/>
<rect x="308.5" y="124.8" width="15.6" height="0.9" rx="0.4" fill="#e86a40" opacity=".6"/>
<rect x="42" y="124.8" width="16.4" height="1.2" rx="0.6" fill="#b89060" opacity=".6"/>
<rect x="295.8" y="126.1" width="12.7" height="1.4" rx="0.7" fill="#b82230" opacity=".6"/>
<rect x="168.5" y="126.1" width="7.5" height="1.1" rx="0.5" fill="#f0b070" opacity=".6"/>
<rect x="168.4" y="126.1" width="11.6" height="1.3" rx="0.7" fill="#b82230" opacity=".6"/>
<rect x="169.7" y="126.1" width="13.8" height="1.3" rx="0.6" fill="#d83024" opacity=".6"/>
<rect x="291.4" y="126.1" width="6.8" height="1.3" rx="0.6" fill="#f0b070" opacity=".6"/>
<rect x="169.7" y="126.1" width="10" height="1.1" rx="0.5" fill="#f0b070" opacity=".6"/>
<rect x="156.9" y="126.1" width="8.9" height="1.5" rx="0.7" fill="#e86a40" opacity=".6"/>
<rect x="378.7" y="127.4" width="17.5" height="0.9" rx="0.4" fill="#b89060" opacity=".6"/>
<rect x="287.5" y="127.4" width="23.4" height="1.4" rx="0.7" fill="#f0b070" opacity=".6"/>
<rect x="113.5" y="127.4" width="22.9" height="1.2" rx="0.6" fill="#fbe8b4" opacity=".6"/>
<rect x="172" y="127.4" width="15.6" height="0.8" rx="0.4" fill="#c81e24" opacity=".6"/>
<rect x="60.7" y="127.4" width="15.9" height="0.8" rx="0.4" fill="#d8a050" opacity=".6"/>
<rect x="295.9" y="127.4" width="17.6" height="1.2" rx="0.6" fill="#d83024" opacity=".6"/>
<rect x="298.7" y="127.4" width="7.1" height="1.2" rx="0.6" fill="#c81e24" opacity=".6"/>
<rect x="30" y="127.4" width="13.9" height="1.1" rx="0.6" fill="#b89060" opacity=".6"/>
<rect x="172.7" y="128.7" width="23.9" height="0.9" rx="0.5" fill="#f4c880" opacity=".6"/>
<rect x="169.8" y="128.7" width="23" height="1.5" rx="0.8" fill="#f0b070" opacity=".6"/>
<rect x="473" y="128.7" width="18.3" height="1.3" rx="0.7" fill="#f0c068" opacity=".6"/>
<rect x="171.9" y="128.7" width="23.4" height="1.3" rx="0.7" fill="#d83024" opacity=".6"/>
<rect x="281.4" y="128.7" width="9.6" height="1.5" rx="0.7" fill="#e86a40" opacity=".6"/>
<rect x="303.5" y="128.7" width="10.3" height="1.1" rx="0.5" fill="#b89060" opacity=".6"/>
<rect x="169.5" y="128.7" width="15.6" height="1.2" rx="0.6" fill="#f4c880" opacity=".6"/>
<rect x="182.8" y="130" width="16.2" height="1.3" rx="0.6" fill="#c81e24" opacity=".6"/>
<rect x="338.3" y="130" width="8.9" height="1.3" rx="0.6" fill="#fbe8b4" opacity=".6"/>
<rect x="166.1" y="130" width="18.5" height="0.8" rx="0.4" fill="#c81e24" opacity=".6"/>
<rect x="162.4" y="130" width="19.7" height="1.5" rx="0.7" fill="#f4c880" opacity=".6"/>
<rect x="186.8" y="130" width="7.9" height="1.6" rx="0.8" fill="#f4c880" opacity=".6"/>
<rect x="271.4" y="130" width="19.5" height="0.9" rx="0.4" fill="#c81e24" opacity=".6"/>
<rect x="279.4" y="130" width="17.6" height="1.4" rx="0.7" fill="#c81e24" opacity=".6"/>
<rect x="287.5" y="130" width="22.7" height="1.1" rx="0.5" fill="#f0b070" opacity=".6"/>
<rect x="169" y="131.3" width="21.3" height="1.2" rx="0.6" fill="#c81e24" opacity=".6"/>
<rect x="174.8" y="131.3" width="19.9" height="1.1" rx="0.6" fill="#d83024" opacity=".6"/>
<rect x="269" y="131.3" width="20.9" height="1.4" rx="0.7" fill="#c81e24" opacity=".6"/>
<rect x="16.8" y="131.3" width="11.2" height="1.2" rx="0.6" fill="#f0c068" opacity=".6"/>
<rect x="81.7" y="131.3" width="14.8" height="1.2" rx="0.6" fill="#b89060" opacity=".6"/>
<rect x="178.2" y="131.3" width="23.2" height="1.3" rx="0.6" fill="#d83024" opacity=".6"/>
<rect x="180.6" y="131.3" width="10.2" height="1.6" rx="0.8" fill="#f4c880" opacity=".6"/>
<rect x="183.5" y="131.3" width="7.9" height="1.2" rx="0.6" fill="#e86a40" opacity=".6"/>
<rect x="183.4" y="132.6" width="19.4" height="1.5" rx="0.8" fill="#b82230" opacity=".6"/>
<rect x="279.7" y="132.6" width="22.2" height="1" rx="0.5" fill="#f4c880" opacity=".6"/>
<rect x="186.3" y="132.6" width="14.3" height="1" rx="0.5" fill="#b82230" opacity=".6"/>
<rect x="265.2" y="132.6" width="21.6" height="1.2" rx="0.6" fill="#e86a40" opacity=".6"/>
<rect x="276" y="132.6" width="10.6" height="1.4" rx="0.7" fill="#f4c880" opacity=".6"/>
<rect x="181.9" y="132.6" width="9.4" height="1" rx="0.5" fill="#d83024" opacity=".6"/>
<rect x="185.4" y="132.6" width="16.9" height="1.4" rx="0.7" fill="#d83024" opacity=".6"/>
<rect x="71.8" y="132.6" width="23.2" height="1" rx="0.5" fill="#fbe8b4" opacity=".6"/>
<rect x="277" y="133.9" width="8.7" height="1" rx="0.5" fill="#e86a40" opacity=".6"/>
<rect x="129.6" y="133.9" width="8" height="1" rx="0.5" fill="#b89060" opacity=".6"/>
<rect x="190.3" y="133.9" width="23.7" height="1" rx="0.5" fill="#f0b070" opacity=".6"/>
<rect x="277.8" y="133.9" width="6.1" height="1.4" rx="0.7" fill="#f0b070" opacity=".6"/>
<rect x="186.6" y="133.9" width="13.6" height="1.4" rx="0.7" fill="#f4c880" opacity=".6"/>
<rect x="183" y="133.9" width="13.8" height="0.9" rx="0.4" fill="#d83024" opacity=".6"/>
<rect x="273.9" y="133.9" width="18.8" height="1.4" rx="0.7" fill="#e86a40" opacity=".6"/>
<rect x="188.2" y="135.2" width="17.2" height="1.2" rx="0.6" fill="#b82230" opacity=".6"/>
<rect x="202.3" y="135.2" width="13" height="1.4" rx="0.7" fill="#f0b070" opacity=".6"/>
<rect x="89.3" y="135.2" width="18.9" height="1" rx="0.5" fill="#f0c068" opacity=".6"/>
<rect x="264.7" y="135.2" width="16.3" height="0.9" rx="0.4" fill="#f4c880" opacity=".6"/>
<rect x="262.3" y="135.2" width="12.7" height="1.4" rx="0.7" fill="#f4c880" opacity=".6"/>
<rect x="352.4" y="135.2" width="15.2" height="0.9" rx="0.5" fill="#f0c068" opacity=".6"/>
<rect x="203.9" y="135.2" width="10.5" height="1.3" rx="0.7" fill="#e86a40" opacity=".6"/>
<rect x="278.3" y="135.2" width="17.3" height="1.5" rx="0.8" fill="#fbe8b4" opacity=".6"/>
<rect x="202.7" y="136.5" width="20.4" height="1" rx="0.5" fill="#c81e24" opacity=".6"/>
<rect x="196.6" y="136.5" width="17.4" height="1.4" rx="0.7" fill="#d83024" opacity=".6"/>
<rect x="395.6" y="136.5" width="17.5" height="1.1" rx="0.5" fill="#b89060" opacity=".6"/>
<rect x="255.7" y="136.5" width="19.7" height="1.6" rx="0.8" fill="#d83024" opacity=".6"/>
<rect x="262.9" y="136.5" width="12.8" height="1" rx="0.5" fill="#e86a40" opacity=".6"/>
<rect x="197.7" y="136.5" width="19" height="0.8" rx="0.4" fill="#b82230" opacity=".6"/>
<rect x="256.3" y="136.5" width="13.7" height="1.2" rx="0.6" fill="#b82230" opacity=".6"/>
<rect x="440.2" y="137.8" width="7" height="1.5" rx="0.7" fill="#d8a050" opacity=".6"/>
<rect x="213.1" y="137.8" width="12.2" height="1.2" rx="0.6" fill="#c81e24" opacity=".6"/>
<rect x="208.3" y="137.8" width="10.5" height="1.3" rx="0.7" fill="#d83024" opacity=".6"/>
<rect x="257.2" y="137.8" width="12.2" height="1.4" rx="0.7" fill="#d83024" opacity=".6"/>
<rect x="34.9" y="137.8" width="18.4" height="1.3" rx="0.6" fill="#f0c068" opacity=".6"/>
<rect x="253" y="137.8" width="18.5" height="1" rx="0.5" fill="#c81e24" opacity=".6"/>
<rect x="211.5" y="137.8" width="10.8" height="1.2" rx="0.6" fill="#f0b070" opacity=".6"/>
<rect x="251.3" y="137.8" width="14.4" height="0.8" rx="0.4" fill="#d83024" opacity=".6"/>
<rect x="241.3" y="139.1" width="21.5" height="1.2" rx="0.6" fill="#f0b070" opacity=".6"/>
<rect x="246.1" y="139.1" width="11.3" height="1.2" rx="0.6" fill="#f4c880" opacity=".6"/>
<rect x="220.1" y="139.1" width="17.5" height="0.9" rx="0.4" fill="#c81e24" opacity=".6"/>
<rect x="215" y="139.1" width="22.8" height="1.3" rx="0.7" fill="#e86a40" opacity=".6"/>
<rect x="248.5" y="139.1" width="8.6" height="1.4" rx="0.7" fill="#b82230" opacity=".6"/>
<rect x="218.6" y="139.1" width="17.9" height="0.9" rx="0.4" fill="#b82230" opacity=".6"/>
<rect x="135.6" y="139.1" width="16" height="1.1" rx="0.6" fill="#b89060" opacity=".6"/>
<rect x="247.1" y="139.1" width="15.1" height="1.1" rx="0.6" fill="#f4c880" opacity=".6"/>
<rect x="85.6" y="140.4" width="8.1" height="1.2" rx="0.6" fill="#f0c068" opacity=".6"/>
<rect x="33.5" y="140.4" width="23.5" height="0.9" rx="0.5" fill="#fbe8b4" opacity=".6"/>
<rect x="191.8" y="140.4" width="16" height="1.1" rx="0.6" fill="#fbe8b4" opacity=".6"/>
<rect x="13.1" y="140.4" width="8" height="1.1" rx="0.6" fill="#b89060" opacity=".6"/>
<rect x="382.1" y="140.4" width="17.8" height="1.3" rx="0.6" fill="#b89060" opacity=".6"/>
<rect x="336.1" y="140.4" width="17.3" height="1.3" rx="0.6" fill="#fbe8b4" opacity=".6"/>
<rect x="217.6" y="140.4" width="18" height="1" rx="0.5" fill="#d8a050" opacity=".6"/>
<rect x="8.4" y="140.4" width="9.3" height="0.9" rx="0.4" fill="#fbe8b4" opacity=".6"/>
<rect x="173.3" y="141.7" width="17.8" height="1.5" rx="0.8" fill="#d8a050" opacity=".6"/>
<rect x="118.2" y="141.7" width="16.1" height="1.4" rx="0.7" fill="#f0c068" opacity=".6"/>
<rect x="0.1" y="141.7" width="6.6" height="0.9" rx="0.5" fill="#fbe8b4" opacity=".6"/>
<rect x="399.9" y="141.7" width="15.4" height="1.2" rx="0.6" fill="#b89060" opacity=".6"/>
<rect x="211.9" y="141.7" width="22.5" height="1.3" rx="0.6" fill="#fbe8b4" opacity=".6"/>
<rect x="483.6" y="141.7" width="16.7" height="1.3" rx="0.7" fill="#d8a050" opacity=".6"/>
<rect x="40.7" y="141.7" width="13.4" height="1.2" rx="0.6" fill="#b89060" opacity=".6"/>
<rect x="-2.3" y="141.7" width="8.7" height="1" rx="0.5" fill="#fbe8b4" opacity=".6"/>
<rect x="480.4" y="143" width="18" height="0.8" rx="0.4" fill="#fbe8b4" opacity=".6"/>
<rect x="224.7" y="143" width="8.2" height="1" rx="0.5" fill="#f0c068" opacity=".6"/>
<rect x="354.6" y="143" width="10.4" height="1.4" rx="0.7" fill="#d8a050" opacity=".6"/>
<rect x="361.4" y="143" width="12.6" height="1.5" rx="0.8" fill="#d8a050" opacity=".6"/>
<rect x="302.4" y="143" width="7.5" height="1.4" rx="0.7" fill="#b89060" opacity=".6"/>
<rect x="116.3" y="143" width="22.8" height="1.2" rx="0.6" fill="#fbe8b4" opacity=".6"/>
<rect x="-2.7" y="143" width="6.2" height="1.4" rx="0.7" fill="#fbe8b4" opacity=".6"/>
<rect x="288.3" y="143" width="11.6" height="1.1" rx="0.6" fill="#b89060" opacity=".6"/>
<rect x="461.5" y="144.3" width="11.7" height="1.3" rx="0.6" fill="#b89060" opacity=".6"/>
<rect x="470.3" y="144.3" width="9" height="1.2" rx="0.6" fill="#fbe8b4" opacity=".6"/>
<rect x="303" y="144.3" width="17.6" height="1.1" rx="0.5" fill="#b89060" opacity=".6"/>
<rect x="215" y="144.3" width="20" height="1.2" rx="0.6" fill="#f0c068" opacity=".6"/>
<rect x="135.3" y="144.3" width="16.2" height="1.4" rx="0.7" fill="#fbe8b4" opacity=".6"/>
<rect x="388.6" y="144.3" width="17.7" height="1.3" rx="0.6" fill="#f0c068" opacity=".6"/>
<rect x="-2.3" y="144.3" width="19.1" height="1.5" rx="0.7" fill="#d8a050" opacity=".6"/>
<rect x="203" y="144.3" width="11.6" height="1.3" rx="0.6" fill="#d8a050" opacity=".6"/>
<rect x="289.1" y="145.6" width="18.3" height="1.1" rx="0.6" fill="#d8a050" opacity=".6"/>
<rect x="-9.2" y="145.6" width="11.1" height="1.4" rx="0.7" fill="#f0c068" opacity=".6"/>
<rect x="447.5" y="145.6" width="8.8" height="1" rx="0.5" fill="#fbe8b4" opacity=".6"/>
<rect x="432.6" y="145.6" width="8.5" height="1" rx="0.5" fill="#d8a050" opacity=".6"/>
<rect x="391.1" y="145.6" width="21.3" height="1" rx="0.5" fill="#b89060" opacity=".6"/>
<rect x="265.2" y="145.6" width="7.5" height="1.1" rx="0.5" fill="#b89060" opacity=".6"/>
<rect x="453.1" y="145.6" width="19.5" height="1" rx="0.5" fill="#d8a050" opacity=".6"/>
<rect x="186.6" y="145.6" width="7" height="1" rx="0.5" fill="#d8a050" opacity=".6"/>
<rect x="240.9" y="135.6" width="4.1" height="0.9" rx="0.5" fill="#e83a28" opacity=".55"/>
<rect x="299.4" y="108.8" width="11.7" height="0.9" rx="0.4" fill="#f06a38" opacity=".55"/>
<rect x="192.8" y="122.7" width="12.3" height="0.9" rx="0.5" fill="#a81830" opacity=".55"/>
<rect x="190.7" y="124.9" width="5.9" height="1.2" rx="0.6" fill="#f06a38" opacity=".55"/>
<rect x="238" y="115.3" width="7.6" height="0.8" rx="0.4" fill="#f06a38" opacity=".55"/>
<rect x="230.9" y="135.5" width="12.7" height="1" rx="0.5" fill="#a81830" opacity=".55"/>
<rect x="199.4" y="131.2" width="10" height="0.8" rx="0.4" fill="#a81830" opacity=".55"/>
<rect x="180" y="125.4" width="6" height="1" rx="0.5" fill="#e83a28" opacity=".55"/>
<rect x="308.5" y="112.8" width="6.8" height="1.3" rx="0.6" fill="#e8502c" opacity=".55"/>
<rect x="259" y="130.6" width="13.6" height="1.2" rx="0.6" fill="#a81830" opacity=".55"/>
<rect x="306" y="116.8" width="7.8" height="0.6" rx="0.3" fill="#e8502c" opacity=".55"/>
<rect x="276.8" y="123.8" width="8.6" height="1.2" rx="0.6" fill="#e8502c" opacity=".55"/>
<rect x="277.9" y="126.5" width="11.1" height="0.8" rx="0.4" fill="#e8502c" opacity=".55"/>
<rect x="244.1" y="124.1" width="13.6" height="0.7" rx="0.4" fill="#e83a28" opacity=".55"/>
<rect x="223.4" y="133.2" width="6.4" height="0.7" rx="0.4" fill="#f06a38" opacity=".55"/>
<rect x="260.2" y="136.1" width="4.6" height="1.2" rx="0.6" fill="#e8502c" opacity=".55"/>
<rect x="294.6" y="107.5" width="11.1" height="0.6" rx="0.3" fill="#e83a28" opacity=".55"/>
<rect x="282.4" y="110.6" width="13.4" height="1" rx="0.5" fill="#a81830" opacity=".55"/>
<rect x="249.1" y="120.1" width="8.7" height="0.8" rx="0.4" fill="#a81830" opacity=".55"/>
<rect x="220.4" y="110" width="5.7" height="1.2" rx="0.6" fill="#f06a38" opacity=".55"/>
<rect x="257.9" y="135.3" width="8.7" height="1.2" rx="0.6" fill="#f06a38" opacity=".55"/>
<rect x="302.9" y="111" width="4.8" height="1.2" rx="0.6" fill="#a81830" opacity=".55"/>
<rect x="212.7" y="110.5" width="5" height="1.2" rx="0.6" fill="#e83a28" opacity=".55"/>
<rect x="224" y="126.1" width="7.4" height="0.9" rx="0.5" fill="#f06a38" opacity=".55"/>
<rect x="187.5" y="126.1" width="6.2" height="0.7" rx="0.4" fill="#e8502c" opacity=".55"/>
<rect x="284" y="120.4" width="8.4" height="0.8" rx="0.4" fill="#f06a38" opacity=".55"/>
<rect x="174.4" y="119.2" width="6.7" height="0.8" rx="0.4" fill="#a81830" opacity=".55"/>
<rect x="222.4" y="111.4" width="7.2" height="0.7" rx="0.3" fill="#e83a28" opacity=".55"/>
<rect x="212.2" y="137.3" width="13" height="1" rx="0.5" fill="#f06a38" opacity=".55"/>
<rect x="199.7" y="132.7" width="11.5" height="0.9" rx="0.5" fill="#a81830" opacity=".55"/>
<rect x="179.7" y="114.4" width="6.4" height="0.8" rx="0.4" fill="#e83a28" opacity=".55"/>
<rect x="201.8" y="134.7" width="11.3" height="0.7" rx="0.4" fill="#a81830" opacity=".55"/>
<rect x="222.2" y="126.5" width="9.1" height="0.9" rx="0.5" fill="#f06a38" opacity=".55"/>
<rect x="272.6" y="131.3" width="6.9" height="0.9" rx="0.5" fill="#a81830" opacity=".55"/>
<path d="M-5,144 q14.2,-0.5 28.4,0 q11.1,-0.7 22.3,0 q7.6,0.5 15.2,0 q12.4,-0.5 24.8,0 q6.7,-0.7 13.4,0 q11.5,-0 23,0 q8.5,-0.5 16.9,0 q11.5,0.4 23,0 q13.3,0.1 26.6,0 q7.8,-0.8 15.6,0 q12.6,-0.2 25.2,0 q12.5,-0.8 25,0 q13.3,-0.3 26.6,0 q13.6,0.7 27.2,0 q10.4,-0.9 20.9,0 q14.2,-0 28.4,0 q13.8,-0.4 27.7,0 q7.7,0.6 15.3,0 q9.3,-0.6 18.6,0 q9.3,0.2 18.7,0 q6,0 12.1,0 q10,0 20,0 q7.1,0.4 14.2,0 q13.3,0.7 26.7,0" stroke="#a09070" stroke-width="0.9" fill="none" opacity="0.5"/>
<path d="M-5,146 q8.9,0.4 17.8,0 q9.4,0.5 18.9,0 q6.6,0.7 13.1,0 q14.6,-0 29.2,0 q10.6,0.1 21.2,0 q10.8,-0.9 21.7,0 q14.7,-0.5 29.4,0 q7.6,-0.7 15.3,0 q8.3,0.6 16.5,0 q6.3,-0.7 12.5,0 q12.3,-0.5 24.6,0 q6.2,0.2 12.3,0 q11.2,0 22.4,0 q12.3,-0.7 24.6,0 q13.8,0.4 27.7,0 q6.4,-0.7 12.8,0 q10.4,0 20.9,0 q8.5,-0.7 17,0 q9.7,-0.7 19.3,0 q11.3,0.6 22.7,0 q7.3,0.1 14.6,0 q12.7,-0.6 25.4,0 q13.4,0.8 26.9,0 q9.5,-0.1 19,0 q13.6,0 27.1,0" stroke="#fff8e0" stroke-width="1.2" fill="none" opacity="0.5"/>
<path d="M-5,147.6 q9.6,0.8 19.1,0 q13,-0.3 26,0 q8.2,-0.3 16.3,0 q9.9,0.9 19.8,0 q13.2,0.7 26.5,0 q13.3,0.6 26.7,0 q6.5,0 13,0 q14.6,0.8 29.2,0 q8.2,-0.1 16.5,0 q11.7,-0.2 23.4,0 q10.8,-0.8 21.6,0 q9.9,0 19.8,0 q6.2,-0.6 12.4,0 q14.7,0.5 29.5,0 q14.4,0.2 28.9,0 q13.3,0.7 26.6,0 q14,-0.8 27.9,0 q11.8,-0.4 23.5,0 q12.1,-0.4 24.2,0 q10.9,0.8 21.8,0 q11.6,-0.4 23.2,0 q10.7,-0.1 21.4,0" stroke="#a89478" stroke-width="0.9" fill="none" opacity="0.5"/>
<path d="M-5,150.6 q14.6,-0.4 29.1,0 q8.7,0.3 17.5,0 q7.1,0.2 14.2,0 q14.6,0 29.2,0 q8.4,-0.1 16.8,0 q10.8,-0.6 21.6,0 q7.1,-0.7 14.2,0 q8.6,-0.2 17.3,0 q8.6,-0.5 17.2,0 q6.8,0.1 13.6,0 q13.6,0.2 27.1,0 q11.1,0.3 22.3,0 q7.8,0.4 15.6,0 q10.1,0.1 20.3,0 q11.5,-0.1 23,0 q8.8,-0.5 17.6,0 q8,0 16,0 q9.4,0.2 18.9,0 q6.1,-0.3 12.2,0 q13.8,-0.5 27.5,0 q11,-0 22,0 q8.6,0.9 17.1,0 q8.7,0.5 17.3,0 q7.4,-0.8 14.9,0 q13.8,-0.1 27.7,0 q6.6,-0.2 13.1,0" stroke="#b0a0a0" stroke-width="0.9" fill="none" opacity="0.55"/>
<path d="M-5,153 q10,0.4 19.9,0 q7,-0.5 14,0 q14.6,0.4 29.3,0 q7.4,-0.3 14.8,0 q9.2,0.3 18.3,0 q11.5,0.6 23.1,0 q13.4,0 26.8,0 q12.6,0.4 25.3,0 q12.8,-0 25.7,0 q13.1,0.4 26.1,0 q14.2,-0.7 28.5,0 q13.8,-0.9 27.7,0 q12.9,0.2 25.8,0 q10.5,0.8 21,0 q11.1,-0.1 22.3,0 q13.1,0.7 26.1,0 q11.5,-0.2 22.9,0 q10.1,-0.1 20.1,0 q12.5,-0.4 25,0 q9.5,0.1 19,0 q9.5,-0.3 18.9,0 q13.1,0.6 26.2,0" stroke="#c8a0b8" stroke-width="1" fill="none" opacity="0.6"/>
<path d="M-5,154.6 q10.5,-0.1 21,0 q7.7,-0.4 15.3,0 q7.3,0.1 14.6,0 q11.2,-0.7 22.5,0 q14.3,-0.3 28.6,0 q13.6,0.6 27.2,0 q14.6,-0.5 29.3,0 q9.8,0.7 19.7,0 q6.1,-0.8 12.2,0 q11.1,-0 22.2,0 q14.3,0.5 28.6,0 q10.8,0.9 21.7,0 q10.7,0 21.3,0 q12.2,-0.2 24.3,0 q9.2,0.2 18.4,0 q9.2,0.8 18.3,0 q12.1,0 24.2,0 q6.9,-0.2 13.8,0 q9.6,0.1 19.2,0 q11.2,0.7 22.3,0 q14.7,-0 29.4,0 q10,0.2 19.9,0 q15,-0.3 29.9,0" stroke="#f8dcec" stroke-width="1.2" fill="none" opacity="0.6"/>
<path d="M-5,156.3 q10.8,0.6 21.5,0 q7.5,-0.3 15.1,0 q14.8,0.6 29.6,0 q10.6,-0.7 21.2,0 q14.1,0.3 28.1,0 q13.4,0.9 26.8,0 q14,-0.1 28,0 q7.4,-0.4 14.8,0 q10.6,0 21.2,0 q7.7,-0.6 15.4,0 q11.7,0.2 23.3,0 q9.2,0.9 18.4,0 q11.7,-0.8 23.5,0 q9.7,0.5 19.4,0 q8.8,0.3 17.5,0 q6,-0.4 12.1,0 q13.6,0.2 27.2,0 q12,-0.5 24,0 q10.5,0.1 21,0 q8.4,0.3 16.8,0 q10.8,0.9 21.6,0 q11.2,-0.2 22.3,0 q7.1,-0.6 14.2,0 q12.8,-0.7 25.7,0" stroke="#8a6080" stroke-width="1.1" fill="none" opacity="0.8"/>
<path d="M-5,158.1 q6.9,-0.6 13.8,0 q10.7,0.6 21.4,0 q11.5,0.6 23,0 q6.6,-0.9 13.1,0 q12.9,-0.3 25.9,0 q12.4,-0.3 24.9,0 q7.5,-0.4 15,0 q6.9,0.7 13.8,0 q11.2,-0.3 22.5,0 q10,-0.2 20.1,0 q6.5,0.7 13,0 q11.2,0.8 22.5,0 q10,0.2 19.9,0 q8.2,-0.8 16.5,0 q14.4,0.6 28.8,0 q8.8,0.7 17.7,0 q13.3,-0.4 26.7,0 q11.4,0.8 22.8,0 q10.5,0.8 20.9,0 q8.2,-0.2 16.4,0 q12.5,-0.5 24.9,0 q8.8,0.7 17.6,0 q10.4,0.5 20.7,0 q8.2,-0.6 16.4,0 q9.2,-0.6 18.5,0 q14.7,-0.4 29.5,0" stroke="#f6d0ea" stroke-width="1.2" fill="none" opacity="0.7"/>
<path d="M-5,159.9 q11.1,-0.7 22.1,0 q10.8,-0.2 21.6,0 q9.6,-0.8 19.3,0 q7.1,0.6 14.2,0 q9.2,-0.5 18.3,0 q7.7,-0.4 15.4,0 q8.1,-0.8 16.3,0 q12,-0.3 24,0 q7.4,0.4 14.8,0 q6.8,-0.4 13.7,0 q13.5,-0.7 27,0 q10,0.6 20,0 q13.2,-0.6 26.5,0 q9.2,0.4 18.4,0 q9.4,0.8 18.8,0 q7.9,0.8 15.7,0 q10.5,-0.5 21.1,0 q10.1,-0.7 20.1,0 q12.4,-0.4 24.7,0 q14.1,0.2 28.2,0 q9.3,-0.5 18.6,0 q11.5,-0.5 22.9,0 q13.9,-0.7 27.7,0 q10.6,0.1 21.2,0 q8.4,0.5 16.9,0" stroke="#8a6080" stroke-width="1.2" fill="none" opacity="0.85"/>
<path d="M-5,161.3 q9.5,0.3 18.9,0 q11.1,-0.3 22.2,0 q9.5,-0.7 19,0 q7.6,0.6 15.2,0 q8.9,0.3 17.8,0 q7,0.1 14,0 q9.3,0 18.5,0 q8.7,-0.8 17.3,0 q8.8,-0.5 17.6,0 q7.1,0.4 14.3,0 q8.5,-0.2 17.1,0 q14.2,0.5 28.4,0 q13.9,0.7 27.9,0 q7.2,-0.4 14.4,0 q6.3,0.3 12.5,0 q12,-0.3 23.9,0 q9.7,0.3 19.4,0 q12.3,-0.5 24.6,0 q13.6,-0.3 27.2,0 q11.7,-0.6 23.3,0 q7,0.7 14.1,0 q12.6,0.4 25.2,0 q6.4,-0.8 12.7,0 q7.5,-0.5 14.9,0 q8.7,-0.2 17.5,0 q6.4,-0.3 12.7,0 q11.7,-0.6 23.5,0" stroke="#f0c4e4" stroke-width="1" fill="none" opacity="0.7"/></svg></div>
<div class="mat" style="left:212.4px;top:419.8px;width:438.6px;height:136.2px"><svg viewBox="0 0 487 162" preserveAspectRatio="none"><rect width="487" height="90" fill="url(#sky)"/>
<ellipse cx="430" cy="32" rx="140" ry="7.5" fill="#f48e18" opacity=".7" filter="url(#b4)"/>
<ellipse cx="420" cy="4" rx="130" ry="7" fill="#f4b0c8" opacity=".6" filter="url(#b4)"/>
<ellipse cx="120" cy="27" rx="120" ry="6" fill="#f6c050" opacity=".35" filter="url(#b4)"/>
<ellipse cx="450" cy="63" rx="80" ry="5" fill="#f88458" opacity=".45" filter="url(#b4)"/>
<path d="M0,68.3 L22.6,67.4 L30,66 L36.8,65.4 L52.8,64.6 L70.6,62.8 L88.4,59.8 L106.2,57 L123.9,53.6 L141.7,50.9 L159.5,48.2 L175,45 L191.5,40.8 L206.5,37.2 L215,35 L222,33 L228.5,31.5 L236,31.1 L244,31 L252,31.2 L259.5,31.8 L268,34.6 L286.5,40.4 L295.1,43.3 L317.3,48.5 L339.5,52.7 L356.2,55.5 L372.8,56.3 L389.5,57.4 L406.2,61 L422.8,65.7 L439.5,68.5 L461.5,69.3 L487,72.3 L487,80 L0,80 Z" fill="url(#mtn)"/>
<path d="M0,68.3 L22.6,67.4 L30,66 L36.8,65.4 L52.8,64.6 L70.6,62.8 L88.4,59.8 L106.2,57 L123.9,53.6 L141.7,50.9 L159.5,48.2 L175,45 L191.5,40.8 L206.5,37.2 L215,35 L222,33 L228.5,31.5 L236,31.1 L244,31 L252,31.2 L259.5,31.8 L268,34.6 L286.5,40.4 L295.1,43.3 L317.3,48.5 L339.5,52.7 L356.2,55.5 L372.8,56.3 L389.5,57.4 L406.2,61 L422.8,65.7 L439.5,68.5 L461.5,69.3 L487,72.3 L487,80 L0,80 Z" fill="url(#mtnR)"/>
<path d="M100,59 C150,54 200,48 242,47.5 C282,47.5 322,52 380,60" stroke="#a8122a" stroke-width="3" fill="none" opacity=".5" filter="url(#b1)"/>
<path d="M262,36 L290,48" stroke="#b01a24" stroke-width="1.4" opacity=".3" filter="url(#b05)"/>
<path d="M272,40 L302,51" stroke="#b01a24" stroke-width="1.4" opacity=".3" filter="url(#b05)"/>
<path d="M252,35 L262,45" stroke="#b01a24" stroke-width="1.4" opacity=".3" filter="url(#b05)"/>
<path d="M232,35 L222,44" stroke="#b01a24" stroke-width="1.4" opacity=".3" filter="url(#b05)"/>
<path d="M258,34 C266,40 274,46 284,52 L288,51 C278,45 270,39 262,33 Z" fill="#a01424" opacity="0.35" filter="url(#b05)"/>
<path d="M268,37 C280,43 292,49 306,55 L309,53 C296,47 284,41 272,36 Z" fill="#a01424" opacity="0.3" filter="url(#b05)"/>
<path d="M246,33 C250,39 254,45 256,50 L259,50 C257,44 253,38 250,33 Z" fill="#a01424" opacity="0.3" filter="url(#b05)"/>
<path d="M226,34 C220,40 212,46 204,50 L207,51 C214,47 222,41 229,35 Z" fill="#a01424" opacity="0.25" filter="url(#b05)"/>
<path d="M60,64.5 C110,61 150,58 200,57" stroke="#b83050" stroke-width="1.5" fill="none" opacity=".45" filter="url(#b05)"/>
<path d="M0,70.5 L90,71 C170,73.5 230,75 290,75 C360,74.5 420,72.5 487,71.5 L487,88 L0,88 Z" fill="url(#dark)"/>
<path d="M0,69.8 L90,70.3 C170,72.8 230,74.3 290,74.3 C360,73.8 420,71.8 487,70.8" stroke="#6a1c3a" stroke-width="1.6" fill="none" opacity=".5" filter="url(#b05)"/>
<path d="M20,76.5 C120,76.2 220,77.4 330,78 L330,79.2 C220,78.6 120,77.6 20,78 Z" fill="#a02848" opacity=".4"/>
<rect x="165.7" y="85.1" width="2" height="1.2" fill="#f4e4e4" opacity="0.4"/>
<rect x="261.1" y="84.6" width="2.8" height="1.2" fill="#f4e4e4" opacity="0.6"/>
<rect x="36.9" y="84.7" width="3" height="1.2" fill="#f4e4e4" opacity="0.4"/>
<rect x="211" y="84.7" width="4.4" height="1.2" fill="#f4e4e4" opacity="0.5"/>
<rect x="302.3" y="85.1" width="4.8" height="1.2" fill="#f4e4e4" opacity="0.5"/>
<rect x="459.3" y="85.3" width="1.7" height="1.2" fill="#f4e4e4" opacity="0.5"/>
<rect x="84.9" y="84.8" width="1.9" height="1.2" fill="#f4e4e4" opacity="0.7"/>
<rect x="101.3" y="85.1" width="3.5" height="1.2" fill="#f4e4e4" opacity="0.5"/>
<rect x="266.5" y="84.6" width="1.7" height="1.2" fill="#f4e4e4" opacity="0.4"/>
<rect x="326.2" y="84.9" width="3" height="1.2" fill="#f4e4e4" opacity="0.6"/>
<rect x="223.9" y="85.2" width="2.5" height="1.2" fill="#f4e4e4" opacity="0.7"/>
<rect x="129.8" y="85" width="3.5" height="1.2" fill="#f4e4e4" opacity="0.7"/>
<rect x="348.3" y="85.4" width="2.5" height="1.2" fill="#f4e4e4" opacity="0.4"/>
<rect x="208.2" y="84.7" width="4.1" height="1.2" fill="#f4e4e4" opacity="0.6"/>
<rect x="37.6" y="85.2" width="3.8" height="1.2" fill="#f4e4e4" opacity="0.6"/>
<rect x="414" y="85.2" width="2.6" height="1.2" fill="#f4e4e4" opacity="0.6"/>
<rect x="281" y="85.3" width="3.1" height="1.2" fill="#f4e4e4" opacity="0.8"/>
<rect x="233.3" y="84.6" width="3.8" height="1.2" fill="#f4e4e4" opacity="0.7"/>
<rect x="311.2" y="85.3" width="5" height="1.2" fill="#f4e4e4" opacity="0.5"/>
<rect x="193.6" y="84.6" width="3.8" height="1.2" fill="#f4e4e4" opacity="0.6"/>
<rect x="95.6" y="84.6" width="1.9" height="1.2" fill="#f4e4e4" opacity="0.7"/>
<rect x="78.2" y="84.9" width="2.4" height="1.2" fill="#f4e4e4" opacity="0.7"/>
<rect y="87" width="487" height="75" fill="url(#water)"/>
<rect x="200" y="118" width="287" height="25" fill="url(#waterR)" filter="url(#b1)"/>
<ellipse cx="236" cy="93.5" rx="170" ry="6" fill="#d84830" opacity=".55" filter="url(#b3)"/>
<rect x="-6" y="97.5" width="499" height="13.5" fill="url(#rband)" filter="url(#b1)"/>
<path d="M88,97 L88,98.5 L88,100 L88,101.5 L88,103 L88,104.5 L88,106 L88,107.5 L88,109 L93.4,110.5 L109.5,112 L125.6,113.5 L133.7,115 L137.8,116.5 L142.1,118 L146.4,119.5 L150.8,121 L155.3,122.5 L160,124 L164.8,125.5 L169.9,127 L175.1,128.5 L180.5,130 L186.3,131.5 L192.4,133 L199,134.5 L206.3,136 L214.8,137.5 L225.5,139 L253,139 L262.4,137.5 L269.5,136 L275.4,134.5 L280.7,133 L285.5,131.5 L289.9,130 L294,128.5 L297.8,127 L301.5,125.5 L305,124 L308.3,122.5 L311.5,121 L314.6,119.5 L317.5,118 L320.4,116.5 L323.2,115 L330.4,113.5 L346.5,112 L362.6,110.5 L368,109 L368,107.5 L368,106 L368,104.5 L368,103 L368,101.5 L368,100 L368,98.5 L368,97 Z" fill="url(#refl)" filter="url(#b15)"/>
<rect x="63.1" y="97.5" width="14.1" height="0.9" rx="0.4" fill="#e0a070" opacity=".6"/>
<rect x="386.9" y="97.5" width="13.5" height="1" rx="0.5" fill="#b83c3c" opacity=".6"/>
<rect x="-4" y="97.5" width="8.7" height="0.9" rx="0.4" fill="#f8d8a0" opacity=".6"/>
<rect x="368.6" y="97.5" width="11.1" height="0.9" rx="0.5" fill="#c85a44" opacity=".6"/>
<rect x="81.2" y="97.5" width="18.4" height="1.6" rx="0.8" fill="#e0a070" opacity=".6"/>
<rect x="336.9" y="97.5" width="13.2" height="1.1" rx="0.6" fill="#9a2434" opacity=".6"/>
<rect x="103.3" y="97.5" width="13.9" height="1.6" rx="0.8" fill="#e0a070" opacity=".6"/>
<rect x="108.1" y="97.5" width="7.8" height="0.9" rx="0.5" fill="#b83c3c" opacity=".6"/>
<rect x="369.4" y="98.8" width="8.7" height="1.3" rx="0.6" fill="#8a1c30" opacity=".6"/>
<rect x="221.6" y="98.8" width="21.3" height="0.9" rx="0.4" fill="#8a2a30" opacity=".6"/>
<rect x="358" y="98.8" width="8.6" height="1" rx="0.5" fill="#8a2a30" opacity=".6"/>
<rect x="343.8" y="98.8" width="8.9" height="1.5" rx="0.7" fill="#e0a070" opacity=".6"/>
<rect x="67.2" y="98.8" width="19.6" height="1.5" rx="0.8" fill="#c85a44" opacity=".6"/>
<rect x="75" y="98.8" width="22.3" height="1.2" rx="0.6" fill="#e0a070" opacity=".6"/>
<rect x="479.5" y="98.8" width="10" height="1.1" rx="0.5" fill="#e0a070" opacity=".6"/>
<rect x="102.7" y="98.8" width="20.7" height="1.4" rx="0.7" fill="#f8d8a0" opacity=".6"/>
<rect x="382.7" y="100.1" width="19.2" height="1.2" rx="0.6" fill="#8a2a30" opacity=".6"/>
<rect x="212.3" y="100.1" width="18.5" height="1" rx="0.5" fill="#f0c080" opacity=".6"/>
<rect x="83.4" y="100.1" width="12.6" height="1.6" rx="0.8" fill="#c85a44" opacity=".6"/>
<rect x="407.7" y="100.1" width="17.2" height="1" rx="0.5" fill="#8a2a30" opacity=".6"/>
<rect x="59" y="100.1" width="12.2" height="1.5" rx="0.8" fill="#b83c3c" opacity=".6"/>
<rect x="155.3" y="100.1" width="9.2" height="1.2" rx="0.6" fill="#8a2a30" opacity=".6"/>
<rect x="96.8" y="100.1" width="19.4" height="1.2" rx="0.6" fill="#b83c3c" opacity=".6"/>
<rect x="73.4" y="100.1" width="16.6" height="0.8" rx="0.4" fill="#e0a070" opacity=".6"/>
<rect x="105.9" y="101.4" width="17.8" height="1.6" rx="0.8" fill="#9a2434" opacity=".6"/>
<rect x="58.3" y="101.4" width="22.8" height="1.2" rx="0.6" fill="#b83c3c" opacity=".6"/>
<rect x="349.6" y="101.4" width="9.8" height="0.8" rx="0.4" fill="#8a1c30" opacity=".6"/>
<rect x="436.2" y="101.4" width="7.1" height="1.5" rx="0.7" fill="#f8d8a0" opacity=".6"/>
<rect x="426.4" y="101.4" width="15.3" height="1.5" rx="0.7" fill="#e0a070" opacity=".6"/>
<rect x="375.8" y="101.4" width="15.4" height="1.2" rx="0.6" fill="#e0a070" opacity=".6"/>
<rect x="364.5" y="101.4" width="20.4" height="0.8" rx="0.4" fill="#9a2434" opacity=".6"/>
<rect x="378" y="101.4" width="11.9" height="1.2" rx="0.6" fill="#9a2434" opacity=".6"/>
<rect x="69.2" y="102.7" width="7" height="1.5" rx="0.8" fill="#e0a070" opacity=".6"/>
<rect x="21.5" y="102.7" width="6.5" height="1.2" rx="0.6" fill="#f0c080" opacity=".6"/>
<rect x="357.8" y="102.7" width="15.1" height="1.3" rx="0.6" fill="#e0a070" opacity=".6"/>
<rect x="384.1" y="102.7" width="15.1" height="1.4" rx="0.7" fill="#b83c3c" opacity=".6"/>
<rect x="353.5" y="102.7" width="8.5" height="1.5" rx="0.7" fill="#b83c3c" opacity=".6"/>
<rect x="60.9" y="102.7" width="9.8" height="1.1" rx="0.6" fill="#b83c3c" opacity=".6"/>
<rect x="380.6" y="102.7" width="17.6" height="1.6" rx="0.8" fill="#8a1c30" opacity=".6"/>
<rect x="337.5" y="102.7" width="23.1" height="1" rx="0.5" fill="#b83c3c" opacity=".6"/>
<rect x="356.7" y="104" width="13.8" height="0.9" rx="0.5" fill="#c85a44" opacity=".6"/>
<rect x="355.2" y="104" width="19" height="1.1" rx="0.5" fill="#9a2434" opacity=".6"/>
<rect x="102" y="104" width="15.3" height="1.1" rx="0.6" fill="#b83c3c" opacity=".6"/>
<rect x="61.3" y="104" width="7.9" height="1.6" rx="0.8" fill="#b83c3c" opacity=".6"/>
<rect x="358.6" y="104" width="8.3" height="1" rx="0.5" fill="#e0a070" opacity=".6"/>
<rect x="34.5" y="104" width="16.3" height="1.5" rx="0.8" fill="#a83c34" opacity=".6"/>
<rect x="123.7" y="104" width="9.3" height="1.4" rx="0.7" fill="#a83c34" opacity=".6"/>
<rect x="102.1" y="104" width="20.4" height="1.3" rx="0.7" fill="#9a2434" opacity=".6"/>
<rect x="368.8" y="105.3" width="12.1" height="1.2" rx="0.6" fill="#9a2434" opacity=".6"/>
<rect x="96.2" y="105.3" width="10.3" height="1.2" rx="0.6" fill="#b83c3c" opacity=".6"/>
<rect x="94" y="105.3" width="11.6" height="1" rx="0.5" fill="#e0a070" opacity=".6"/>
<rect x="484.3" y="105.3" width="10.9" height="1.3" rx="0.7" fill="#a83c34" opacity=".6"/>
<rect x="77.6" y="105.3" width="19.2" height="0.8" rx="0.4" fill="#b83c3c" opacity=".6"/>
<rect x="368" y="105.3" width="21" height="1.2" rx="0.6" fill="#b83c3c" opacity=".6"/>
<rect x="109.1" y="106.6" width="12.3" height="1.1" rx="0.6" fill="#c85a44" opacity=".6"/>
<rect x="330.8" y="106.6" width="23.5" height="1.2" rx="0.6" fill="#b83c3c" opacity=".6"/>
<rect x="387.5" y="106.6" width="14" height="0.9" rx="0.5" fill="#e0a070" opacity=".6"/>
<rect x="98.3" y="106.6" width="6.6" height="1.1" rx="0.5" fill="#e0a070" opacity=".6"/>
<rect x="95.7" y="106.6" width="12.9" height="0.8" rx="0.4" fill="#9a2434" opacity=".6"/>
<rect x="83.6" y="106.6" width="20.7" height="0.9" rx="0.4" fill="#c85a44" opacity=".6"/>
<rect x="74.1" y="106.6" width="10.2" height="1" rx="0.5" fill="#e0a070" opacity=".6"/>
<rect x="64.3" y="107.9" width="11.9" height="1.1" rx="0.6" fill="#f8d8a0" opacity=".6"/>
<rect x="433.3" y="107.9" width="6.8" height="1.3" rx="0.7" fill="#8a2a30" opacity=".6"/>
<rect x="59.4" y="107.9" width="20.6" height="1.4" rx="0.7" fill="#e0a070" opacity=".6"/>
<rect x="91.5" y="107.9" width="6.8" height="0.9" rx="0.4" fill="#8a1c30" opacity=".6"/>
<rect x="79.9" y="107.9" width="17.3" height="1.2" rx="0.6" fill="#9a2434" opacity=".6"/>
<rect x="436.2" y="107.9" width="7.3" height="1.2" rx="0.6" fill="#a83c34" opacity=".6"/>
<rect x="92" y="109.2" width="10.8" height="0.9" rx="0.4" fill="#8a2a30" opacity=".6"/>
<rect x="376.5" y="109.2" width="12.9" height="1.2" rx="0.6" fill="#e0a070" opacity=".6"/>
<rect x="349.4" y="109.2" width="9.6" height="1.3" rx="0.7" fill="#c85a44" opacity=".6"/>
<rect x="350.9" y="109.2" width="8.4" height="1.3" rx="0.6" fill="#9a2434" opacity=".6"/>
<rect x="356.9" y="109.2" width="18.2" height="1.4" rx="0.7" fill="#8a1c30" opacity=".6"/>
<rect x="382.8" y="109.2" width="23.9" height="1.4" rx="0.7" fill="#8a1c30" opacity=".6"/>
<rect x="471.1" y="109.2" width="14.3" height="0.8" rx="0.4" fill="#8a2a30" opacity=".6"/>
<rect x="452.5" y="109.2" width="13" height="1.6" rx="0.8" fill="#a83c34" opacity=".6"/>
<rect x="338.6" y="110.5" width="8.6" height="1.3" rx="0.6" fill="#e0a070" opacity=".6"/>
<rect x="380" y="110.5" width="8" height="1" rx="0.5" fill="#8a1c30" opacity=".6"/>
<rect x="343.2" y="110.5" width="19.1" height="1.1" rx="0.6" fill="#c85a44" opacity=".6"/>
<rect x="49.7" y="110.5" width="19.5" height="0.8" rx="0.4" fill="#e0a070" opacity=".6"/>
<rect x="328.1" y="110.5" width="22.2" height="1.4" rx="0.7" fill="#8a1c30" opacity=".6"/>
<rect x="368.1" y="110.5" width="16.6" height="1.6" rx="0.8" fill="#9a2434" opacity=".6"/>
<rect x="321.9" y="111.8" width="23.5" height="0.9" rx="0.5" fill="#b82230" opacity=".6"/>
<rect x="361.8" y="111.8" width="13.7" height="1.4" rx="0.7" fill="#f0b070" opacity=".6"/>
<rect x="336.8" y="111.8" width="19" height="1.2" rx="0.6" fill="#d83024" opacity=".6"/>
<rect x="117.7" y="111.8" width="11.2" height="1.3" rx="0.7" fill="#e86a40" opacity=".6"/>
<rect x="475.2" y="111.8" width="11.4" height="1.1" rx="0.5" fill="#c08058" opacity=".6"/>
<rect x="325.2" y="111.8" width="10.3" height="1.1" rx="0.6" fill="#f4c880" opacity=".6"/>
<rect x="332.3" y="113.1" width="9.5" height="0.9" rx="0.5" fill="#b82230" opacity=".6"/>
<rect x="105.3" y="113.1" width="10.7" height="1" rx="0.5" fill="#e86a40" opacity=".6"/>
<rect x="318.1" y="113.1" width="19.4" height="1.1" rx="0.6" fill="#c81e24" opacity=".6"/>
<rect x="130.5" y="113.1" width="16.3" height="1.2" rx="0.6" fill="#d83024" opacity=".6"/>
<rect x="340.7" y="113.1" width="17.6" height="1.1" rx="0.6" fill="#c81e24" opacity=".6"/>
<rect x="389.7" y="113.1" width="13.7" height="0.9" rx="0.5" fill="#fae6b4" opacity=".6"/>
<rect x="400.3" y="113.1" width="13" height="0.8" rx="0.4" fill="#fae6b4" opacity=".6"/>
<rect x="130.9" y="113.1" width="10.5" height="1.6" rx="0.8" fill="#f4c880" opacity=".6"/>
<rect x="410.7" y="114.4" width="20.9" height="0.9" rx="0.4" fill="#fae6b4" opacity=".6"/>
<rect x="132.4" y="114.4" width="20" height="0.9" rx="0.4" fill="#c81e24" opacity=".6"/>
<rect x="319.6" y="114.4" width="11.5" height="1.3" rx="0.7" fill="#e86a40" opacity=".6"/>
<rect x="132.4" y="114.4" width="8" height="1.4" rx="0.7" fill="#d83024" opacity=".6"/>
<rect x="312.8" y="114.4" width="6" height="1.4" rx="0.7" fill="#b82230" opacity=".6"/>
<rect x="119.3" y="114.4" width="21.9" height="1.3" rx="0.7" fill="#c81e24" opacity=".6"/>
<rect x="134.5" y="114.4" width="18.7" height="1.6" rx="0.8" fill="#f4c880" opacity=".6"/>
<rect x="336.9" y="114.4" width="7.5" height="1.3" rx="0.7" fill="#d83024" opacity=".6"/>
<rect x="143.5" y="115.7" width="6.1" height="1.1" rx="0.6" fill="#d83024" opacity=".6"/>
<rect x="134" y="115.7" width="20.8" height="1" rx="0.5" fill="#b82230" opacity=".6"/>
<rect x="127.6" y="115.7" width="17.2" height="0.9" rx="0.4" fill="#f4c880" opacity=".6"/>
<rect x="17" y="115.7" width="16.7" height="0.8" rx="0.4" fill="#fff4d4" opacity=".6"/>
<rect x="143.1" y="115.7" width="8.6" height="1.6" rx="0.8" fill="#e86a40" opacity=".6"/>
<rect x="485.8" y="115.7" width="21.9" height="1.5" rx="0.8" fill="#d8a060" opacity=".6"/>
<rect x="360.9" y="115.7" width="9.3" height="1.1" rx="0.5" fill="#fff4d4" opacity=".6"/>
<rect x="479.5" y="117" width="19.1" height="1" rx="0.5" fill="#fae6b4" opacity=".6"/>
<rect x="313.6" y="117" width="6.1" height="0.9" rx="0.5" fill="#c81e24" opacity=".6"/>
<rect x="321.2" y="117" width="19.7" height="1.2" rx="0.6" fill="#e86a40" opacity=".6"/>
<rect x="299.1" y="117" width="18.7" height="0.9" rx="0.4" fill="#b82230" opacity=".6"/>
<rect x="120.7" y="117" width="14.5" height="1.4" rx="0.7" fill="#e86a40" opacity=".6"/>
<rect x="144.7" y="117" width="6.6" height="0.8" rx="0.4" fill="#f4c880" opacity=".6"/>
<rect x="327.5" y="117" width="16.9" height="0.9" rx="0.4" fill="#f0b070" opacity=".6"/>
<rect x="449.3" y="117" width="19.4" height="0.8" rx="0.4" fill="#c08058" opacity=".6"/>
<rect x="305.1" y="118.3" width="19.6" height="0.8" rx="0.4" fill="#fff4d4" opacity=".6"/>
<rect x="327.7" y="118.3" width="10.2" height="0.8" rx="0.4" fill="#e86a40" opacity=".6"/>
<rect x="56" y="118.3" width="22.4" height="1.4" rx="0.7" fill="#fae6b4" opacity=".6"/>
<rect x="398.9" y="118.3" width="20.4" height="0.9" rx="0.5" fill="#d8a060" opacity=".6"/>
<rect x="320.9" y="118.3" width="11.9" height="1.3" rx="0.6" fill="#f0b070" opacity=".6"/>
<rect x="112.9" y="118.3" width="9.6" height="0.9" rx="0.4" fill="#fff4d4" opacity=".6"/>
<rect x="118.9" y="118.3" width="14.7" height="1.3" rx="0.7" fill="#c81e24" opacity=".6"/>
<rect x="140.3" y="118.3" width="10.8" height="1.6" rx="0.8" fill="#f4c880" opacity=".6"/>
<rect x="313.9" y="119.6" width="9.1" height="1.6" rx="0.8" fill="#f4c880" opacity=".6"/>
<rect x="367.5" y="119.6" width="15.7" height="1" rx="0.5" fill="#c08058" opacity=".6"/>
<rect x="296.2" y="119.6" width="16.2" height="1" rx="0.5" fill="#d83024" opacity=".6"/>
<rect x="147.4" y="119.6" width="10.2" height="0.9" rx="0.5" fill="#e86a40" opacity=".6"/>
<rect x="136.3" y="119.6" width="10.4" height="1" rx="0.5" fill="#c81e24" opacity=".6"/>
<rect x="407.8" y="119.6" width="14.5" height="0.9" rx="0.4" fill="#c08058" opacity=".6"/>
<rect x="137.6" y="119.6" width="11.3" height="0.8" rx="0.4" fill="#f0b070" opacity=".6"/>
<rect x="144.7" y="119.6" width="7.4" height="1" rx="0.5" fill="#b82230" opacity=".6"/>
<rect x="293.6" y="120.9" width="18" height="1.4" rx="0.7" fill="#b82230" opacity=".6"/>
<rect x="9" y="120.9" width="6.8" height="1.1" rx="0.5" fill="#d8a060" opacity=".6"/>
<rect x="291.2" y="120.9" width="20.7" height="1.5" rx="0.7" fill="#b82230" opacity=".6"/>
<rect x="294.4" y="120.9" width="6.6" height="0.9" rx="0.4" fill="#c81e24" opacity=".6"/>
<rect x="136.6" y="120.9" width="18" height="1.4" rx="0.7" fill="#e86a40" opacity=".6"/>
<rect x="302.4" y="120.9" width="13.4" height="1.4" rx="0.7" fill="#c81e24" opacity=".6"/>
<rect x="288.1" y="120.9" width="16.2" height="1" rx="0.5" fill="#b82230" opacity=".6"/>
<rect x="146.1" y="120.9" width="13" height="1.3" rx="0.7" fill="#d83024" opacity=".6"/>
<rect x="297.4" y="122.2" width="20.8" height="1.1" rx="0.6" fill="#d83024" opacity=".6"/>
<rect x="292.8" y="122.2" width="6.9" height="0.9" rx="0.5" fill="#f0b070" opacity=".6"/>
<rect x="292.6" y="122.2" width="19.3" height="1.5" rx="0.8" fill="#f0b070" opacity=".6"/>
<rect x="156.9" y="122.2" width="7.2" height="0.9" rx="0.5" fill="#c81e24" opacity=".6"/>
<rect x="288.8" y="122.2" width="14.7" height="1.6" rx="0.8" fill="#f4c880" opacity=".6"/>
<rect x="140.3" y="122.2" width="20.8" height="1.3" rx="0.6" fill="#f0b070" opacity=".6"/>
<rect x="158.1" y="122.2" width="20.9" height="1.5" rx="0.7" fill="#f0b070" opacity=".6"/>
<rect x="162.4" y="122.2" width="12.5" height="0.9" rx="0.5" fill="#f0b070" opacity=".6"/>
<rect x="151.1" y="123.5" width="18.1" height="1.5" rx="0.7" fill="#b89060" opacity=".6"/>
<rect x="302.6" y="123.5" width="15.9" height="1.3" rx="0.6" fill="#b82230" opacity=".6"/>
<rect x="301.9" y="123.5" width="6.4" height="1.2" rx="0.6" fill="#e86a40" opacity=".6"/>
<rect x="139.2" y="123.5" width="20" height="1.4" rx="0.7" fill="#e86a40" opacity=".6"/>
<rect x="145.4" y="123.5" width="8.3" height="0.9" rx="0.4" fill="#f0b070" opacity=".6"/>
<rect x="142.6" y="123.5" width="6.7" height="1.2" rx="0.6" fill="#b82230" opacity=".6"/>
<rect x="303" y="123.5" width="15.2" height="1.4" rx="0.7" fill="#d83024" opacity=".6"/>
<rect x="167.6" y="124.8" width="7.2" height="0.8" rx="0.4" fill="#e86a40" opacity=".6"/>
<rect x="331" y="124.8" width="20.6" height="1" rx="0.5" fill="#d8a050" opacity=".6"/>
<rect x="68.9" y="124.8" width="12.3" height="0.9" rx="0.4" fill="#f0c068" opacity=".6"/>
<rect x="287.8" y="124.8" width="14.2" height="1.5" rx="0.8" fill="#b82230" opacity=".6"/>
<rect x="166.4" y="124.8" width="10.3" height="1.3" rx="0.6" fill="#d83024" opacity=".6"/>
<rect x="288.3" y="124.8" width="11" height="1.3" rx="0.7" fill="#b82230" opacity=".6"/>
<rect x="308.5" y="124.8" width="15.6" height="0.9" rx="0.4" fill="#e86a40" opacity=".6"/>
<rect x="42" y="124.8" width="16.4" height="1.2" rx="0.6" fill="#b89060" opacity=".6"/>
<rect x="295.8" y="126.1" width="12.7" height="1.4" rx="0.7" fill="#b82230" opacity=".6"/>
<rect x="168.5" y="126.1" width="7.5" height="1.1" rx="0.5" fill="#f0b070" opacity=".6"/>
<rect x="168.4" y="126.1" width="11.6" height="1.3" rx="0.7" fill="#b82230" opacity=".6"/>
<rect x="169.7" y="126.1" width="13.8" height="1.3" rx="0.6" fill="#d83024" opacity=".6"/>
<rect x="291.4" y="126.1" width="6.8" height="1.3" rx="0.6" fill="#f0b070" opacity=".6"/>
<rect x="169.7" y="126.1" width="10" height="1.1" rx="0.5" fill="#f0b070" opacity=".6"/>
<rect x="156.9" y="126.1" width="8.9" height="1.5" rx="0.7" fill="#e86a40" opacity=".6"/>
<rect x="378.7" y="127.4" width="17.5" height="0.9" rx="0.4" fill="#b89060" opacity=".6"/>
<rect x="287.5" y="127.4" width="23.4" height="1.4" rx="0.7" fill="#f0b070" opacity=".6"/>
<rect x="113.5" y="127.4" width="22.9" height="1.2" rx="0.6" fill="#fbe8b4" opacity=".6"/>
<rect x="172" y="127.4" width="15.6" height="0.8" rx="0.4" fill="#c81e24" opacity=".6"/>
<rect x="60.7" y="127.4" width="15.9" height="0.8" rx="0.4" fill="#d8a050" opacity=".6"/>
<rect x="295.9" y="127.4" width="17.6" height="1.2" rx="0.6" fill="#d83024" opacity=".6"/>
<rect x="298.7" y="127.4" width="7.1" height="1.2" rx="0.6" fill="#c81e24" opacity=".6"/>
<rect x="30" y="127.4" width="13.9" height="1.1" rx="0.6" fill="#b89060" opacity=".6"/>
<rect x="172.7" y="128.7" width="23.9" height="0.9" rx="0.5" fill="#f4c880" opacity=".6"/>
<rect x="169.8" y="128.7" width="23" height="1.5" rx="0.8" fill="#f0b070" opacity=".6"/>
<rect x="473" y="128.7" width="18.3" height="1.3" rx="0.7" fill="#f0c068" opacity=".6"/>
<rect x="171.9" y="128.7" width="23.4" height="1.3" rx="0.7" fill="#d83024" opacity=".6"/>
<rect x="281.4" y="128.7" width="9.6" height="1.5" rx="0.7" fill="#e86a40" opacity=".6"/>
<rect x="303.5" y="128.7" width="10.3" height="1.1" rx="0.5" fill="#b89060" opacity=".6"/>
<rect x="169.5" y="128.7" width="15.6" height="1.2" rx="0.6" fill="#f4c880" opacity=".6"/>
<rect x="182.8" y="130" width="16.2" height="1.3" rx="0.6" fill="#c81e24" opacity=".6"/>
<rect x="338.3" y="130" width="8.9" height="1.3" rx="0.6" fill="#fbe8b4" opacity=".6"/>
<rect x="166.1" y="130" width="18.5" height="0.8" rx="0.4" fill="#c81e24" opacity=".6"/>
<rect x="162.4" y="130" width="19.7" height="1.5" rx="0.7" fill="#f4c880" opacity=".6"/>
<rect x="186.8" y="130" width="7.9" height="1.6" rx="0.8" fill="#f4c880" opacity=".6"/>
<rect x="271.4" y="130" width="19.5" height="0.9" rx="0.4" fill="#c81e24" opacity=".6"/>
<rect x="279.4" y="130" width="17.6" height="1.4" rx="0.7" fill="#c81e24" opacity=".6"/>
<rect x="287.5" y="130" width="22.7" height="1.1" rx="0.5" fill="#f0b070" opacity=".6"/>
<rect x="169" y="131.3" width="21.3" height="1.2" rx="0.6" fill="#c81e24" opacity=".6"/>
<rect x="174.8" y="131.3" width="19.9" height="1.1" rx="0.6" fill="#d83024" opacity=".6"/>
<rect x="269" y="131.3" width="20.9" height="1.4" rx="0.7" fill="#c81e24" opacity=".6"/>
<rect x="16.8" y="131.3" width="11.2" height="1.2" rx="0.6" fill="#f0c068" opacity=".6"/>
<rect x="81.7" y="131.3" width="14.8" height="1.2" rx="0.6" fill="#b89060" opacity=".6"/>
<rect x="178.2" y="131.3" width="23.2" height="1.3" rx="0.6" fill="#d83024" opacity=".6"/>
<rect x="180.6" y="131.3" width="10.2" height="1.6" rx="0.8" fill="#f4c880" opacity=".6"/>
<rect x="183.5" y="131.3" width="7.9" height="1.2" rx="0.6" fill="#e86a40" opacity=".6"/>
<rect x="183.4" y="132.6" width="19.4" height="1.5" rx="0.8" fill="#b82230" opacity=".6"/>
<rect x="279.7" y="132.6" width="22.2" height="1" rx="0.5" fill="#f4c880" opacity=".6"/>
<rect x="186.3" y="132.6" width="14.3" height="1" rx="0.5" fill="#b82230" opacity=".6"/>
<rect x="265.2" y="132.6" width="21.6" height="1.2" rx="0.6" fill="#e86a40" opacity=".6"/>
<rect x="276" y="132.6" width="10.6" height="1.4" rx="0.7" fill="#f4c880" opacity=".6"/>
<rect x="181.9" y="132.6" width="9.4" height="1" rx="0.5" fill="#d83024" opacity=".6"/>
<rect x="185.4" y="132.6" width="16.9" height="1.4" rx="0.7" fill="#d83024" opacity=".6"/>
<rect x="71.8" y="132.6" width="23.2" height="1" rx="0.5" fill="#fbe8b4" opacity=".6"/>
<rect x="277" y="133.9" width="8.7" height="1" rx="0.5" fill="#e86a40" opacity=".6"/>
<rect x="129.6" y="133.9" width="8" height="1" rx="0.5" fill="#b89060" opacity=".6"/>
<rect x="190.3" y="133.9" width="23.7" height="1" rx="0.5" fill="#f0b070" opacity=".6"/>
<rect x="277.8" y="133.9" width="6.1" height="1.4" rx="0.7" fill="#f0b070" opacity=".6"/>
<rect x="186.6" y="133.9" width="13.6" height="1.4" rx="0.7" fill="#f4c880" opacity=".6"/>
<rect x="183" y="133.9" width="13.8" height="0.9" rx="0.4" fill="#d83024" opacity=".6"/>
<rect x="273.9" y="133.9" width="18.8" height="1.4" rx="0.7" fill="#e86a40" opacity=".6"/>
<rect x="188.2" y="135.2" width="17.2" height="1.2" rx="0.6" fill="#b82230" opacity=".6"/>
<rect x="202.3" y="135.2" width="13" height="1.4" rx="0.7" fill="#f0b070" opacity=".6"/>
<rect x="89.3" y="135.2" width="18.9" height="1" rx="0.5" fill="#f0c068" opacity=".6"/>
<rect x="264.7" y="135.2" width="16.3" height="0.9" rx="0.4" fill="#f4c880" opacity=".6"/>
<rect x="262.3" y="135.2" width="12.7" height="1.4" rx="0.7" fill="#f4c880" opacity=".6"/>
<rect x="352.4" y="135.2" width="15.2" height="0.9" rx="0.5" fill="#f0c068" opacity=".6"/>
<rect x="203.9" y="135.2" width="10.5" height="1.3" rx="0.7" fill="#e86a40" opacity=".6"/>
<rect x="278.3" y="135.2" width="17.3" height="1.5" rx="0.8" fill="#fbe8b4" opacity=".6"/>
<rect x="202.7" y="136.5" width="20.4" height="1" rx="0.5" fill="#c81e24" opacity=".6"/>
<rect x="196.6" y="136.5" width="17.4" height="1.4" rx="0.7" fill="#d83024" opacity=".6"/>
<rect x="395.6" y="136.5" width="17.5" height="1.1" rx="0.5" fill="#b89060" opacity=".6"/>
<rect x="255.7" y="136.5" width="19.7" height="1.6" rx="0.8" fill="#d83024" opacity=".6"/>
<rect x="262.9" y="136.5" width="12.8" height="1" rx="0.5" fill="#e86a40" opacity=".6"/>
<rect x="197.7" y="136.5" width="19" height="0.8" rx="0.4" fill="#b82230" opacity=".6"/>
<rect x="256.3" y="136.5" width="13.7" height="1.2" rx="0.6" fill="#b82230" opacity=".6"/>
<rect x="440.2" y="137.8" width="7" height="1.5" rx="0.7" fill="#d8a050" opacity=".6"/>
<rect x="213.1" y="137.8" width="12.2" height="1.2" rx="0.6" fill="#c81e24" opacity=".6"/>
<rect x="208.3" y="137.8" width="10.5" height="1.3" rx="0.7" fill="#d83024" opacity=".6"/>
<rect x="257.2" y="137.8" width="12.2" height="1.4" rx="0.7" fill="#d83024" opacity=".6"/>
<rect x="34.9" y="137.8" width="18.4" height="1.3" rx="0.6" fill="#f0c068" opacity=".6"/>
<rect x="253" y="137.8" width="18.5" height="1" rx="0.5" fill="#c81e24" opacity=".6"/>
<rect x="211.5" y="137.8" width="10.8" height="1.2" rx="0.6" fill="#f0b070" opacity=".6"/>
<rect x="251.3" y="137.8" width="14.4" height="0.8" rx="0.4" fill="#d83024" opacity=".6"/>
<rect x="241.3" y="139.1" width="21.5" height="1.2" rx="0.6" fill="#f0b070" opacity=".6"/>
<rect x="246.1" y="139.1" width="11.3" height="1.2" rx="0.6" fill="#f4c880" opacity=".6"/>
<rect x="220.1" y="139.1" width="17.5" height="0.9" rx="0.4" fill="#c81e24" opacity=".6"/>
<rect x="215" y="139.1" width="22.8" height="1.3" rx="0.7" fill="#e86a40" opacity=".6"/>
<rect x="248.5" y="139.1" width="8.6" height="1.4" rx="0.7" fill="#b82230" opacity=".6"/>
<rect x="218.6" y="139.1" width="17.9" height="0.9" rx="0.4" fill="#b82230" opacity=".6"/>
<rect x="135.6" y="139.1" width="16" height="1.1" rx="0.6" fill="#b89060" opacity=".6"/>
<rect x="247.1" y="139.1" width="15.1" height="1.1" rx="0.6" fill="#f4c880" opacity=".6"/>
<rect x="85.6" y="140.4" width="8.1" height="1.2" rx="0.6" fill="#f0c068" opacity=".6"/>
<rect x="33.5" y="140.4" width="23.5" height="0.9" rx="0.5" fill="#fbe8b4" opacity=".6"/>
<rect x="191.8" y="140.4" width="16" height="1.1" rx="0.6" fill="#fbe8b4" opacity=".6"/>
<rect x="13.1" y="140.4" width="8" height="1.1" rx="0.6" fill="#b89060" opacity=".6"/>
<rect x="382.1" y="140.4" width="17.8" height="1.3" rx="0.6" fill="#b89060" opacity=".6"/>
<rect x="336.1" y="140.4" width="17.3" height="1.3" rx="0.6" fill="#fbe8b4" opacity=".6"/>
<rect x="217.6" y="140.4" width="18" height="1" rx="0.5" fill="#d8a050" opacity=".6"/>
<rect x="8.4" y="140.4" width="9.3" height="0.9" rx="0.4" fill="#fbe8b4" opacity=".6"/>
<rect x="173.3" y="141.7" width="17.8" height="1.5" rx="0.8" fill="#d8a050" opacity=".6"/>
<rect x="118.2" y="141.7" width="16.1" height="1.4" rx="0.7" fill="#f0c068" opacity=".6"/>
<rect x="0.1" y="141.7" width="6.6" height="0.9" rx="0.5" fill="#fbe8b4" opacity=".6"/>
<rect x="399.9" y="141.7" width="15.4" height="1.2" rx="0.6" fill="#b89060" opacity=".6"/>
<rect x="211.9" y="141.7" width="22.5" height="1.3" rx="0.6" fill="#fbe8b4" opacity=".6"/>
<rect x="483.6" y="141.7" width="16.7" height="1.3" rx="0.7" fill="#d8a050" opacity=".6"/>
<rect x="40.7" y="141.7" width="13.4" height="1.2" rx="0.6" fill="#b89060" opacity=".6"/>
<rect x="-2.3" y="141.7" width="8.7" height="1" rx="0.5" fill="#fbe8b4" opacity=".6"/>
<rect x="480.4" y="143" width="18" height="0.8" rx="0.4" fill="#fbe8b4" opacity=".6"/>
<rect x="224.7" y="143" width="8.2" height="1" rx="0.5" fill="#f0c068" opacity=".6"/>
<rect x="354.6" y="143" width="10.4" height="1.4" rx="0.7" fill="#d8a050" opacity=".6"/>
<rect x="361.4" y="143" width="12.6" height="1.5" rx="0.8" fill="#d8a050" opacity=".6"/>
<rect x="302.4" y="143" width="7.5" height="1.4" rx="0.7" fill="#b89060" opacity=".6"/>
<rect x="116.3" y="143" width="22.8" height="1.2" rx="0.6" fill="#fbe8b4" opacity=".6"/>
<rect x="-2.7" y="143" width="6.2" height="1.4" rx="0.7" fill="#fbe8b4" opacity=".6"/>
<rect x="288.3" y="143" width="11.6" height="1.1" rx="0.6" fill="#b89060" opacity=".6"/>
<rect x="461.5" y="144.3" width="11.7" height="1.3" rx="0.6" fill="#b89060" opacity=".6"/>
<rect x="470.3" y="144.3" width="9" height="1.2" rx="0.6" fill="#fbe8b4" opacity=".6"/>
<rect x="303" y="144.3" width="17.6" height="1.1" rx="0.5" fill="#b89060" opacity=".6"/>
<rect x="215" y="144.3" width="20" height="1.2" rx="0.6" fill="#f0c068" opacity=".6"/>
<rect x="135.3" y="144.3" width="16.2" height="1.4" rx="0.7" fill="#fbe8b4" opacity=".6"/>
<rect x="388.6" y="144.3" width="17.7" height="1.3" rx="0.6" fill="#f0c068" opacity=".6"/>
<rect x="-2.3" y="144.3" width="19.1" height="1.5" rx="0.7" fill="#d8a050" opacity=".6"/>
<rect x="203" y="144.3" width="11.6" height="1.3" rx="0.6" fill="#d8a050" opacity=".6"/>
<rect x="289.1" y="145.6" width="18.3" height="1.1" rx="0.6" fill="#d8a050" opacity=".6"/>
<rect x="-9.2" y="145.6" width="11.1" height="1.4" rx="0.7" fill="#f0c068" opacity=".6"/>
<rect x="447.5" y="145.6" width="8.8" height="1" rx="0.5" fill="#fbe8b4" opacity=".6"/>
<rect x="432.6" y="145.6" width="8.5" height="1" rx="0.5" fill="#d8a050" opacity=".6"/>
<rect x="391.1" y="145.6" width="21.3" height="1" rx="0.5" fill="#b89060" opacity=".6"/>
<rect x="265.2" y="145.6" width="7.5" height="1.1" rx="0.5" fill="#b89060" opacity=".6"/>
<rect x="453.1" y="145.6" width="19.5" height="1" rx="0.5" fill="#d8a050" opacity=".6"/>
<rect x="186.6" y="145.6" width="7" height="1" rx="0.5" fill="#d8a050" opacity=".6"/>
<rect x="240.9" y="135.6" width="4.1" height="0.9" rx="0.5" fill="#e83a28" opacity=".55"/>
<rect x="299.4" y="108.8" width="11.7" height="0.9" rx="0.4" fill="#f06a38" opacity=".55"/>
<rect x="192.8" y="122.7" width="12.3" height="0.9" rx="0.5" fill="#a81830" opacity=".55"/>
<rect x="190.7" y="124.9" width="5.9" height="1.2" rx="0.6" fill="#f06a38" opacity=".55"/>
<rect x="238" y="115.3" width="7.6" height="0.8" rx="0.4" fill="#f06a38" opacity=".55"/>
<rect x="230.9" y="135.5" width="12.7" height="1" rx="0.5" fill="#a81830" opacity=".55"/>
<rect x="199.4" y="131.2" width="10" height="0.8" rx="0.4" fill="#a81830" opacity=".55"/>
<rect x="180" y="125.4" width="6" height="1" rx="0.5" fill="#e83a28" opacity=".55"/>
<rect x="308.5" y="112.8" width="6.8" height="1.3" rx="0.6" fill="#e8502c" opacity=".55"/>
<rect x="259" y="130.6" width="13.6" height="1.2" rx="0.6" fill="#a81830" opacity=".55"/>
<rect x="306" y="116.8" width="7.8" height="0.6" rx="0.3" fill="#e8502c" opacity=".55"/>
<rect x="276.8" y="123.8" width="8.6" height="1.2" rx="0.6" fill="#e8502c" opacity=".55"/>
<rect x="277.9" y="126.5" width="11.1" height="0.8" rx="0.4" fill="#e8502c" opacity=".55"/>
<rect x="244.1" y="124.1" width="13.6" height="0.7" rx="0.4" fill="#e83a28" opacity=".55"/>
<rect x="223.4" y="133.2" width="6.4" height="0.7" rx="0.4" fill="#f06a38" opacity=".55"/>
<rect x="260.2" y="136.1" width="4.6" height="1.2" rx="0.6" fill="#e8502c" opacity=".55"/>
<rect x="294.6" y="107.5" width="11.1" height="0.6" rx="0.3" fill="#e83a28" opacity=".55"/>
<rect x="282.4" y="110.6" width="13.4" height="1" rx="0.5" fill="#a81830" opacity=".55"/>
<rect x="249.1" y="120.1" width="8.7" height="0.8" rx="0.4" fill="#a81830" opacity=".55"/>
<rect x="220.4" y="110" width="5.7" height="1.2" rx="0.6" fill="#f06a38" opacity=".55"/>
<rect x="257.9" y="135.3" width="8.7" height="1.2" rx="0.6" fill="#f06a38" opacity=".55"/>
<rect x="302.9" y="111" width="4.8" height="1.2" rx="0.6" fill="#a81830" opacity=".55"/>
<rect x="212.7" y="110.5" width="5" height="1.2" rx="0.6" fill="#e83a28" opacity=".55"/>
<rect x="224" y="126.1" width="7.4" height="0.9" rx="0.5" fill="#f06a38" opacity=".55"/>
<rect x="187.5" y="126.1" width="6.2" height="0.7" rx="0.4" fill="#e8502c" opacity=".55"/>
<rect x="284" y="120.4" width="8.4" height="0.8" rx="0.4" fill="#f06a38" opacity=".55"/>
<rect x="174.4" y="119.2" width="6.7" height="0.8" rx="0.4" fill="#a81830" opacity=".55"/>
<rect x="222.4" y="111.4" width="7.2" height="0.7" rx="0.3" fill="#e83a28" opacity=".55"/>
<rect x="212.2" y="137.3" width="13" height="1" rx="0.5" fill="#f06a38" opacity=".55"/>
<rect x="199.7" y="132.7" width="11.5" height="0.9" rx="0.5" fill="#a81830" opacity=".55"/>
<rect x="179.7" y="114.4" width="6.4" height="0.8" rx="0.4" fill="#e83a28" opacity=".55"/>
<rect x="201.8" y="134.7" width="11.3" height="0.7" rx="0.4" fill="#a81830" opacity=".55"/>
<rect x="222.2" y="126.5" width="9.1" height="0.9" rx="0.5" fill="#f06a38" opacity=".55"/>
<rect x="272.6" y="131.3" width="6.9" height="0.9" rx="0.5" fill="#a81830" opacity=".55"/>
<path d="M-5,144 q14.2,-0.5 28.4,0 q11.1,-0.7 22.3,0 q7.6,0.5 15.2,0 q12.4,-0.5 24.8,0 q6.7,-0.7 13.4,0 q11.5,-0 23,0 q8.5,-0.5 16.9,0 q11.5,0.4 23,0 q13.3,0.1 26.6,0 q7.8,-0.8 15.6,0 q12.6,-0.2 25.2,0 q12.5,-0.8 25,0 q13.3,-0.3 26.6,0 q13.6,0.7 27.2,0 q10.4,-0.9 20.9,0 q14.2,-0 28.4,0 q13.8,-0.4 27.7,0 q7.7,0.6 15.3,0 q9.3,-0.6 18.6,0 q9.3,0.2 18.7,0 q6,0 12.1,0 q10,0 20,0 q7.1,0.4 14.2,0 q13.3,0.7 26.7,0" stroke="#a09070" stroke-width="0.9" fill="none" opacity="0.5"/>
<path d="M-5,146 q8.9,0.4 17.8,0 q9.4,0.5 18.9,0 q6.6,0.7 13.1,0 q14.6,-0 29.2,0 q10.6,0.1 21.2,0 q10.8,-0.9 21.7,0 q14.7,-0.5 29.4,0 q7.6,-0.7 15.3,0 q8.3,0.6 16.5,0 q6.3,-0.7 12.5,0 q12.3,-0.5 24.6,0 q6.2,0.2 12.3,0 q11.2,0 22.4,0 q12.3,-0.7 24.6,0 q13.8,0.4 27.7,0 q6.4,-0.7 12.8,0 q10.4,0 20.9,0 q8.5,-0.7 17,0 q9.7,-0.7 19.3,0 q11.3,0.6 22.7,0 q7.3,0.1 14.6,0 q12.7,-0.6 25.4,0 q13.4,0.8 26.9,0 q9.5,-0.1 19,0 q13.6,0 27.1,0" stroke="#fff8e0" stroke-width="1.2" fill="none" opacity="0.5"/>
<path d="M-5,147.6 q9.6,0.8 19.1,0 q13,-0.3 26,0 q8.2,-0.3 16.3,0 q9.9,0.9 19.8,0 q13.2,0.7 26.5,0 q13.3,0.6 26.7,0 q6.5,0 13,0 q14.6,0.8 29.2,0 q8.2,-0.1 16.5,0 q11.7,-0.2 23.4,0 q10.8,-0.8 21.6,0 q9.9,0 19.8,0 q6.2,-0.6 12.4,0 q14.7,0.5 29.5,0 q14.4,0.2 28.9,0 q13.3,0.7 26.6,0 q14,-0.8 27.9,0 q11.8,-0.4 23.5,0 q12.1,-0.4 24.2,0 q10.9,0.8 21.8,0 q11.6,-0.4 23.2,0 q10.7,-0.1 21.4,0" stroke="#a89478" stroke-width="0.9" fill="none" opacity="0.5"/>
<path d="M-5,150.6 q14.6,-0.4 29.1,0 q8.7,0.3 17.5,0 q7.1,0.2 14.2,0 q14.6,0 29.2,0 q8.4,-0.1 16.8,0 q10.8,-0.6 21.6,0 q7.1,-0.7 14.2,0 q8.6,-0.2 17.3,0 q8.6,-0.5 17.2,0 q6.8,0.1 13.6,0 q13.6,0.2 27.1,0 q11.1,0.3 22.3,0 q7.8,0.4 15.6,0 q10.1,0.1 20.3,0 q11.5,-0.1 23,0 q8.8,-0.5 17.6,0 q8,0 16,0 q9.4,0.2 18.9,0 q6.1,-0.3 12.2,0 q13.8,-0.5 27.5,0 q11,-0 22,0 q8.6,0.9 17.1,0 q8.7,0.5 17.3,0 q7.4,-0.8 14.9,0 q13.8,-0.1 27.7,0 q6.6,-0.2 13.1,0" stroke="#b0a0a0" stroke-width="0.9" fill="none" opacity="0.55"/>
<path d="M-5,153 q10,0.4 19.9,0 q7,-0.5 14,0 q14.6,0.4 29.3,0 q7.4,-0.3 14.8,0 q9.2,0.3 18.3,0 q11.5,0.6 23.1,0 q13.4,0 26.8,0 q12.6,0.4 25.3,0 q12.8,-0 25.7,0 q13.1,0.4 26.1,0 q14.2,-0.7 28.5,0 q13.8,-0.9 27.7,0 q12.9,0.2 25.8,0 q10.5,0.8 21,0 q11.1,-0.1 22.3,0 q13.1,0.7 26.1,0 q11.5,-0.2 22.9,0 q10.1,-0.1 20.1,0 q12.5,-0.4 25,0 q9.5,0.1 19,0 q9.5,-0.3 18.9,0 q13.1,0.6 26.2,0" stroke="#c8a0b8" stroke-width="1" fill="none" opacity="0.6"/>
<path d="M-5,154.6 q10.5,-0.1 21,0 q7.7,-0.4 15.3,0 q7.3,0.1 14.6,0 q11.2,-0.7 22.5,0 q14.3,-0.3 28.6,0 q13.6,0.6 27.2,0 q14.6,-0.5 29.3,0 q9.8,0.7 19.7,0 q6.1,-0.8 12.2,0 q11.1,-0 22.2,0 q14.3,0.5 28.6,0 q10.8,0.9 21.7,0 q10.7,0 21.3,0 q12.2,-0.2 24.3,0 q9.2,0.2 18.4,0 q9.2,0.8 18.3,0 q12.1,0 24.2,0 q6.9,-0.2 13.8,0 q9.6,0.1 19.2,0 q11.2,0.7 22.3,0 q14.7,-0 29.4,0 q10,0.2 19.9,0 q15,-0.3 29.9,0" stroke="#f8dcec" stroke-width="1.2" fill="none" opacity="0.6"/>
<path d="M-5,156.3 q10.8,0.6 21.5,0 q7.5,-0.3 15.1,0 q14.8,0.6 29.6,0 q10.6,-0.7 21.2,0 q14.1,0.3 28.1,0 q13.4,0.9 26.8,0 q14,-0.1 28,0 q7.4,-0.4 14.8,0 q10.6,0 21.2,0 q7.7,-0.6 15.4,0 q11.7,0.2 23.3,0 q9.2,0.9 18.4,0 q11.7,-0.8 23.5,0 q9.7,0.5 19.4,0 q8.8,0.3 17.5,0 q6,-0.4 12.1,0 q13.6,0.2 27.2,0 q12,-0.5 24,0 q10.5,0.1 21,0 q8.4,0.3 16.8,0 q10.8,0.9 21.6,0 q11.2,-0.2 22.3,0 q7.1,-0.6 14.2,0 q12.8,-0.7 25.7,0" stroke="#8a6080" stroke-width="1.1" fill="none" opacity="0.8"/>
<path d="M-5,158.1 q6.9,-0.6 13.8,0 q10.7,0.6 21.4,0 q11.5,0.6 23,0 q6.6,-0.9 13.1,0 q12.9,-0.3 25.9,0 q12.4,-0.3 24.9,0 q7.5,-0.4 15,0 q6.9,0.7 13.8,0 q11.2,-0.3 22.5,0 q10,-0.2 20.1,0 q6.5,0.7 13,0 q11.2,0.8 22.5,0 q10,0.2 19.9,0 q8.2,-0.8 16.5,0 q14.4,0.6 28.8,0 q8.8,0.7 17.7,0 q13.3,-0.4 26.7,0 q11.4,0.8 22.8,0 q10.5,0.8 20.9,0 q8.2,-0.2 16.4,0 q12.5,-0.5 24.9,0 q8.8,0.7 17.6,0 q10.4,0.5 20.7,0 q8.2,-0.6 16.4,0 q9.2,-0.6 18.5,0 q14.7,-0.4 29.5,0" stroke="#f6d0ea" stroke-width="1.2" fill="none" opacity="0.7"/>
<path d="M-5,159.9 q11.1,-0.7 22.1,0 q10.8,-0.2 21.6,0 q9.6,-0.8 19.3,0 q7.1,0.6 14.2,0 q9.2,-0.5 18.3,0 q7.7,-0.4 15.4,0 q8.1,-0.8 16.3,0 q12,-0.3 24,0 q7.4,0.4 14.8,0 q6.8,-0.4 13.7,0 q13.5,-0.7 27,0 q10,0.6 20,0 q13.2,-0.6 26.5,0 q9.2,0.4 18.4,0 q9.4,0.8 18.8,0 q7.9,0.8 15.7,0 q10.5,-0.5 21.1,0 q10.1,-0.7 20.1,0 q12.4,-0.4 24.7,0 q14.1,0.2 28.2,0 q9.3,-0.5 18.6,0 q11.5,-0.5 22.9,0 q13.9,-0.7 27.7,0 q10.6,0.1 21.2,0 q8.4,0.5 16.9,0" stroke="#8a6080" stroke-width="1.2" fill="none" opacity="0.85"/>
<path d="M-5,161.3 q9.5,0.3 18.9,0 q11.1,-0.3 22.2,0 q9.5,-0.7 19,0 q7.6,0.6 15.2,0 q8.9,0.3 17.8,0 q7,0.1 14,0 q9.3,0 18.5,0 q8.7,-0.8 17.3,0 q8.8,-0.5 17.6,0 q7.1,0.4 14.3,0 q8.5,-0.2 17.1,0 q14.2,0.5 28.4,0 q13.9,0.7 27.9,0 q7.2,-0.4 14.4,0 q6.3,0.3 12.5,0 q12,-0.3 23.9,0 q9.7,0.3 19.4,0 q12.3,-0.5 24.6,0 q13.6,-0.3 27.2,0 q11.7,-0.6 23.3,0 q7,0.7 14.1,0 q12.6,0.4 25.2,0 q6.4,-0.8 12.7,0 q7.5,-0.5 14.9,0 q8.7,-0.2 17.5,0 q6.4,-0.3 12.7,0 q11.7,-0.6 23.5,0" stroke="#f0c4e4" stroke-width="1" fill="none" opacity="0.7"/></svg></div>
<div class="mat" style="left:212.4px;top:588.4px;width:395.6px;height:135.3px"><svg viewBox="0 0 487 162" preserveAspectRatio="none"><rect width="487" height="90" fill="url(#sky)"/>
<ellipse cx="430" cy="32" rx="140" ry="7.5" fill="#f48e18" opacity=".7" filter="url(#b4)"/>
<ellipse cx="420" cy="4" rx="130" ry="7" fill="#f4b0c8" opacity=".6" filter="url(#b4)"/>
<ellipse cx="120" cy="27" rx="120" ry="6" fill="#f6c050" opacity=".35" filter="url(#b4)"/>
<ellipse cx="450" cy="63" rx="80" ry="5" fill="#f88458" opacity=".45" filter="url(#b4)"/>
<path d="M0,68.3 L22.6,67.4 L30,66 L36.8,65.4 L52.8,64.6 L70.6,62.8 L88.4,59.8 L106.2,57 L123.9,53.6 L141.7,50.9 L159.5,48.2 L175,45 L191.5,40.8 L206.5,37.2 L215,35 L222,33 L228.5,31.5 L236,31.1 L244,31 L252,31.2 L259.5,31.8 L268,34.6 L286.5,40.4 L295.1,43.3 L317.3,48.5 L339.5,52.7 L356.2,55.5 L372.8,56.3 L389.5,57.4 L406.2,61 L422.8,65.7 L439.5,68.5 L461.5,69.3 L487,72.3 L487,80 L0,80 Z" fill="url(#mtn)"/>
<path d="M0,68.3 L22.6,67.4 L30,66 L36.8,65.4 L52.8,64.6 L70.6,62.8 L88.4,59.8 L106.2,57 L123.9,53.6 L141.7,50.9 L159.5,48.2 L175,45 L191.5,40.8 L206.5,37.2 L215,35 L222,33 L228.5,31.5 L236,31.1 L244,31 L252,31.2 L259.5,31.8 L268,34.6 L286.5,40.4 L295.1,43.3 L317.3,48.5 L339.5,52.7 L356.2,55.5 L372.8,56.3 L389.5,57.4 L406.2,61 L422.8,65.7 L439.5,68.5 L461.5,69.3 L487,72.3 L487,80 L0,80 Z" fill="url(#mtnR)"/>
<path d="M100,59 C150,54 200,48 242,47.5 C282,47.5 322,52 380,60" stroke="#a8122a" stroke-width="3" fill="none" opacity=".5" filter="url(#b1)"/>
<path d="M262,36 L290,48" stroke="#b01a24" stroke-width="1.4" opacity=".3" filter="url(#b05)"/>
<path d="M272,40 L302,51" stroke="#b01a24" stroke-width="1.4" opacity=".3" filter="url(#b05)"/>
<path d="M252,35 L262,45" stroke="#b01a24" stroke-width="1.4" opacity=".3" filter="url(#b05)"/>
<path d="M232,35 L222,44" stroke="#b01a24" stroke-width="1.4" opacity=".3" filter="url(#b05)"/>
<path d="M258,34 C266,40 274,46 284,52 L288,51 C278,45 270,39 262,33 Z" fill="#a01424" opacity="0.35" filter="url(#b05)"/>
<path d="M268,37 C280,43 292,49 306,55 L309,53 C296,47 284,41 272,36 Z" fill="#a01424" opacity="0.3" filter="url(#b05)"/>
<path d="M246,33 C250,39 254,45 256,50 L259,50 C257,44 253,38 250,33 Z" fill="#a01424" opacity="0.3" filter="url(#b05)"/>
<path d="M226,34 C220,40 212,46 204,50 L207,51 C214,47 222,41 229,35 Z" fill="#a01424" opacity="0.25" filter="url(#b05)"/>
<path d="M60,64.5 C110,61 150,58 200,57" stroke="#b83050" stroke-width="1.5" fill="none" opacity=".45" filter="url(#b05)"/>
<path d="M0,70.5 L90,71 C170,73.5 230,75 290,75 C360,74.5 420,72.5 487,71.5 L487,88 L0,88 Z" fill="url(#dark)"/>
<path d="M0,69.8 L90,70.3 C170,72.8 230,74.3 290,74.3 C360,73.8 420,71.8 487,70.8" stroke="#6a1c3a" stroke-width="1.6" fill="none" opacity=".5" filter="url(#b05)"/>
<path d="M20,76.5 C120,76.2 220,77.4 330,78 L330,79.2 C220,78.6 120,77.6 20,78 Z" fill="#a02848" opacity=".4"/>
<rect x="165.7" y="85.1" width="2" height="1.2" fill="#f4e4e4" opacity="0.4"/>
<rect x="261.1" y="84.6" width="2.8" height="1.2" fill="#f4e4e4" opacity="0.6"/>
<rect x="36.9" y="84.7" width="3" height="1.2" fill="#f4e4e4" opacity="0.4"/>
<rect x="211" y="84.7" width="4.4" height="1.2" fill="#f4e4e4" opacity="0.5"/>
<rect x="302.3" y="85.1" width="4.8" height="1.2" fill="#f4e4e4" opacity="0.5"/>
<rect x="459.3" y="85.3" width="1.7" height="1.2" fill="#f4e4e4" opacity="0.5"/>
<rect x="84.9" y="84.8" width="1.9" height="1.2" fill="#f4e4e4" opacity="0.7"/>
<rect x="101.3" y="85.1" width="3.5" height="1.2" fill="#f4e4e4" opacity="0.5"/>
<rect x="266.5" y="84.6" width="1.7" height="1.2" fill="#f4e4e4" opacity="0.4"/>
<rect x="326.2" y="84.9" width="3" height="1.2" fill="#f4e4e4" opacity="0.6"/>
<rect x="223.9" y="85.2" width="2.5" height="1.2" fill="#f4e4e4" opacity="0.7"/>
<rect x="129.8" y="85" width="3.5" height="1.2" fill="#f4e4e4" opacity="0.7"/>
<rect x="348.3" y="85.4" width="2.5" height="1.2" fill="#f4e4e4" opacity="0.4"/>
<rect x="208.2" y="84.7" width="4.1" height="1.2" fill="#f4e4e4" opacity="0.6"/>
<rect x="37.6" y="85.2" width="3.8" height="1.2" fill="#f4e4e4" opacity="0.6"/>
<rect x="414" y="85.2" width="2.6" height="1.2" fill="#f4e4e4" opacity="0.6"/>
<rect x="281" y="85.3" width="3.1" height="1.2" fill="#f4e4e4" opacity="0.8"/>
<rect x="233.3" y="84.6" width="3.8" height="1.2" fill="#f4e4e4" opacity="0.7"/>
<rect x="311.2" y="85.3" width="5" height="1.2" fill="#f4e4e4" opacity="0.5"/>
<rect x="193.6" y="84.6" width="3.8" height="1.2" fill="#f4e4e4" opacity="0.6"/>
<rect x="95.6" y="84.6" width="1.9" height="1.2" fill="#f4e4e4" opacity="0.7"/>
<rect x="78.2" y="84.9" width="2.4" height="1.2" fill="#f4e4e4" opacity="0.7"/>
<rect y="87" width="487" height="75" fill="url(#water)"/>
<rect x="200" y="118" width="287" height="25" fill="url(#waterR)" filter="url(#b1)"/>
<ellipse cx="236" cy="93.5" rx="170" ry="6" fill="#d84830" opacity=".55" filter="url(#b3)"/>
<rect x="-6" y="97.5" width="499" height="13.5" fill="url(#rband)" filter="url(#b1)"/>
<path d="M88,97 L88,98.5 L88,100 L88,101.5 L88,103 L88,104.5 L88,106 L88,107.5 L88,109 L93.4,110.5 L109.5,112 L125.6,113.5 L133.7,115 L137.8,116.5 L142.1,118 L146.4,119.5 L150.8,121 L155.3,122.5 L160,124 L164.8,125.5 L169.9,127 L175.1,128.5 L180.5,130 L186.3,131.5 L192.4,133 L199,134.5 L206.3,136 L214.8,137.5 L225.5,139 L253,139 L262.4,137.5 L269.5,136 L275.4,134.5 L280.7,133 L285.5,131.5 L289.9,130 L294,128.5 L297.8,127 L301.5,125.5 L305,124 L308.3,122.5 L311.5,121 L314.6,119.5 L317.5,118 L320.4,116.5 L323.2,115 L330.4,113.5 L346.5,112 L362.6,110.5 L368,109 L368,107.5 L368,106 L368,104.5 L368,103 L368,101.5 L368,100 L368,98.5 L368,97 Z" fill="url(#refl)" filter="url(#b15)"/>
<rect x="63.1" y="97.5" width="14.1" height="0.9" rx="0.4" fill="#e0a070" opacity=".6"/>
<rect x="386.9" y="97.5" width="13.5" height="1" rx="0.5" fill="#b83c3c" opacity=".6"/>
<rect x="-4" y="97.5" width="8.7" height="0.9" rx="0.4" fill="#f8d8a0" opacity=".6"/>
<rect x="368.6" y="97.5" width="11.1" height="0.9" rx="0.5" fill="#c85a44" opacity=".6"/>
<rect x="81.2" y="97.5" width="18.4" height="1.6" rx="0.8" fill="#e0a070" opacity=".6"/>
<rect x="336.9" y="97.5" width="13.2" height="1.1" rx="0.6" fill="#9a2434" opacity=".6"/>
<rect x="103.3" y="97.5" width="13.9" height="1.6" rx="0.8" fill="#e0a070" opacity=".6"/>
<rect x="108.1" y="97.5" width="7.8" height="0.9" rx="0.5" fill="#b83c3c" opacity=".6"/>
<rect x="369.4" y="98.8" width="8.7" height="1.3" rx="0.6" fill="#8a1c30" opacity=".6"/>
<rect x="221.6" y="98.8" width="21.3" height="0.9" rx="0.4" fill="#8a2a30" opacity=".6"/>
<rect x="358" y="98.8" width="8.6" height="1" rx="0.5" fill="#8a2a30" opacity=".6"/>
<rect x="343.8" y="98.8" width="8.9" height="1.5" rx="0.7" fill="#e0a070" opacity=".6"/>
<rect x="67.2" y="98.8" width="19.6" height="1.5" rx="0.8" fill="#c85a44" opacity=".6"/>
<rect x="75" y="98.8" width="22.3" height="1.2" rx="0.6" fill="#e0a070" opacity=".6"/>
<rect x="479.5" y="98.8" width="10" height="1.1" rx="0.5" fill="#e0a070" opacity=".6"/>
<rect x="102.7" y="98.8" width="20.7" height="1.4" rx="0.7" fill="#f8d8a0" opacity=".6"/>
<rect x="382.7" y="100.1" width="19.2" height="1.2" rx="0.6" fill="#8a2a30" opacity=".6"/>
<rect x="212.3" y="100.1" width="18.5" height="1" rx="0.5" fill="#f0c080" opacity=".6"/>
<rect x="83.4" y="100.1" width="12.6" height="1.6" rx="0.8" fill="#c85a44" opacity=".6"/>
<rect x="407.7" y="100.1" width="17.2" height="1" rx="0.5" fill="#8a2a30" opacity=".6"/>
<rect x="59" y="100.1" width="12.2" height="1.5" rx="0.8" fill="#b83c3c" opacity=".6"/>
<rect x="155.3" y="100.1" width="9.2" height="1.2" rx="0.6" fill="#8a2a30" opacity=".6"/>
<rect x="96.8" y="100.1" width="19.4" height="1.2" rx="0.6" fill="#b83c3c" opacity=".6"/>
<rect x="73.4" y="100.1" width="16.6" height="0.8" rx="0.4" fill="#e0a070" opacity=".6"/>
<rect x="105.9" y="101.4" width="17.8" height="1.6" rx="0.8" fill="#9a2434" opacity=".6"/>
<rect x="58.3" y="101.4" width="22.8" height="1.2" rx="0.6" fill="#b83c3c" opacity=".6"/>
<rect x="349.6" y="101.4" width="9.8" height="0.8" rx="0.4" fill="#8a1c30" opacity=".6"/>
<rect x="436.2" y="101.4" width="7.1" height="1.5" rx="0.7" fill="#f8d8a0" opacity=".6"/>
<rect x="426.4" y="101.4" width="15.3" height="1.5" rx="0.7" fill="#e0a070" opacity=".6"/>
<rect x="375.8" y="101.4" width="15.4" height="1.2" rx="0.6" fill="#e0a070" opacity=".6"/>
<rect x="364.5" y="101.4" width="20.4" height="0.8" rx="0.4" fill="#9a2434" opacity=".6"/>
<rect x="378" y="101.4" width="11.9" height="1.2" rx="0.6" fill="#9a2434" opacity=".6"/>
<rect x="69.2" y="102.7" width="7" height="1.5" rx="0.8" fill="#e0a070" opacity=".6"/>
<rect x="21.5" y="102.7" width="6.5" height="1.2" rx="0.6" fill="#f0c080" opacity=".6"/>
<rect x="357.8" y="102.7" width="15.1" height="1.3" rx="0.6" fill="#e0a070" opacity=".6"/>
<rect x="384.1" y="102.7" width="15.1" height="1.4" rx="0.7" fill="#b83c3c" opacity=".6"/>
<rect x="353.5" y="102.7" width="8.5" height="1.5" rx="0.7" fill="#b83c3c" opacity=".6"/>
<rect x="60.9" y="102.7" width="9.8" height="1.1" rx="0.6" fill="#b83c3c" opacity=".6"/>
<rect x="380.6" y="102.7" width="17.6" height="1.6" rx="0.8" fill="#8a1c30" opacity=".6"/>
<rect x="337.5" y="102.7" width="23.1" height="1" rx="0.5" fill="#b83c3c" opacity=".6"/>
<rect x="356.7" y="104" width="13.8" height="0.9" rx="0.5" fill="#c85a44" opacity=".6"/>
<rect x="355.2" y="104" width="19" height="1.1" rx="0.5" fill="#9a2434" opacity=".6"/>
<rect x="102" y="104" width="15.3" height="1.1" rx="0.6" fill="#b83c3c" opacity=".6"/>
<rect x="61.3" y="104" width="7.9" height="1.6" rx="0.8" fill="#b83c3c" opacity=".6"/>
<rect x="358.6" y="104" width="8.3" height="1" rx="0.5" fill="#e0a070" opacity=".6"/>
<rect x="34.5" y="104" width="16.3" height="1.5" rx="0.8" fill="#a83c34" opacity=".6"/>
<rect x="123.7" y="104" width="9.3" height="1.4" rx="0.7" fill="#a83c34" opacity=".6"/>
<rect x="102.1" y="104" width="20.4" height="1.3" rx="0.7" fill="#9a2434" opacity=".6"/>
<rect x="368.8" y="105.3" width="12.1" height="1.2" rx="0.6" fill="#9a2434" opacity=".6"/>
<rect x="96.2" y="105.3" width="10.3" height="1.2" rx="0.6" fill="#b83c3c" opacity=".6"/>
<rect x="94" y="105.3" width="11.6" height="1" rx="0.5" fill="#e0a070" opacity=".6"/>
<rect x="484.3" y="105.3" width="10.9" height="1.3" rx="0.7" fill="#a83c34" opacity=".6"/>
<rect x="77.6" y="105.3" width="19.2" height="0.8" rx="0.4" fill="#b83c3c" opacity=".6"/>
<rect x="368" y="105.3" width="21" height="1.2" rx="0.6" fill="#b83c3c" opacity=".6"/>
<rect x="109.1" y="106.6" width="12.3" height="1.1" rx="0.6" fill="#c85a44" opacity=".6"/>
<rect x="330.8" y="106.6" width="23.5" height="1.2" rx="0.6" fill="#b83c3c" opacity=".6"/>
<rect x="387.5" y="106.6" width="14" height="0.9" rx="0.5" fill="#e0a070" opacity=".6"/>
<rect x="98.3" y="106.6" width="6.6" height="1.1" rx="0.5" fill="#e0a070" opacity=".6"/>
<rect x="95.7" y="106.6" width="12.9" height="0.8" rx="0.4" fill="#9a2434" opacity=".6"/>
<rect x="83.6" y="106.6" width="20.7" height="0.9" rx="0.4" fill="#c85a44" opacity=".6"/>
<rect x="74.1" y="106.6" width="10.2" height="1" rx="0.5" fill="#e0a070" opacity=".6"/>
<rect x="64.3" y="107.9" width="11.9" height="1.1" rx="0.6" fill="#f8d8a0" opacity=".6"/>
<rect x="433.3" y="107.9" width="6.8" height="1.3" rx="0.7" fill="#8a2a30" opacity=".6"/>
<rect x="59.4" y="107.9" width="20.6" height="1.4" rx="0.7" fill="#e0a070" opacity=".6"/>
<rect x="91.5" y="107.9" width="6.8" height="0.9" rx="0.4" fill="#8a1c30" opacity=".6"/>
<rect x="79.9" y="107.9" width="17.3" height="1.2" rx="0.6" fill="#9a2434" opacity=".6"/>
<rect x="436.2" y="107.9" width="7.3" height="1.2" rx="0.6" fill="#a83c34" opacity=".6"/>
<rect x="92" y="109.2" width="10.8" height="0.9" rx="0.4" fill="#8a2a30" opacity=".6"/>
<rect x="376.5" y="109.2" width="12.9" height="1.2" rx="0.6" fill="#e0a070" opacity=".6"/>
<rect x="349.4" y="109.2" width="9.6" height="1.3" rx="0.7" fill="#c85a44" opacity=".6"/>
<rect x="350.9" y="109.2" width="8.4" height="1.3" rx="0.6" fill="#9a2434" opacity=".6"/>
<rect x="356.9" y="109.2" width="18.2" height="1.4" rx="0.7" fill="#8a1c30" opacity=".6"/>
<rect x="382.8" y="109.2" width="23.9" height="1.4" rx="0.7" fill="#8a1c30" opacity=".6"/>
<rect x="471.1" y="109.2" width="14.3" height="0.8" rx="0.4" fill="#8a2a30" opacity=".6"/>
<rect x="452.5" y="109.2" width="13" height="1.6" rx="0.8" fill="#a83c34" opacity=".6"/>
<rect x="338.6" y="110.5" width="8.6" height="1.3" rx="0.6" fill="#e0a070" opacity=".6"/>
<rect x="380" y="110.5" width="8" height="1" rx="0.5" fill="#8a1c30" opacity=".6"/>
<rect x="343.2" y="110.5" width="19.1" height="1.1" rx="0.6" fill="#c85a44" opacity=".6"/>
<rect x="49.7" y="110.5" width="19.5" height="0.8" rx="0.4" fill="#e0a070" opacity=".6"/>
<rect x="328.1" y="110.5" width="22.2" height="1.4" rx="0.7" fill="#8a1c30" opacity=".6"/>
<rect x="368.1" y="110.5" width="16.6" height="1.6" rx="0.8" fill="#9a2434" opacity=".6"/>
<rect x="321.9" y="111.8" width="23.5" height="0.9" rx="0.5" fill="#b82230" opacity=".6"/>
<rect x="361.8" y="111.8" width="13.7" height="1.4" rx="0.7" fill="#f0b070" opacity=".6"/>
<rect x="336.8" y="111.8" width="19" height="1.2" rx="0.6" fill="#d83024" opacity=".6"/>
<rect x="117.7" y="111.8" width="11.2" height="1.3" rx="0.7" fill="#e86a40" opacity=".6"/>
<rect x="475.2" y="111.8" width="11.4" height="1.1" rx="0.5" fill="#c08058" opacity=".6"/>
<rect x="325.2" y="111.8" width="10.3" height="1.1" rx="0.6" fill="#f4c880" opacity=".6"/>
<rect x="332.3" y="113.1" width="9.5" height="0.9" rx="0.5" fill="#b82230" opacity=".6"/>
<rect x="105.3" y="113.1" width="10.7" height="1" rx="0.5" fill="#e86a40" opacity=".6"/>
<rect x="318.1" y="113.1" width="19.4" height="1.1" rx="0.6" fill="#c81e24" opacity=".6"/>
<rect x="130.5" y="113.1" width="16.3" height="1.2" rx="0.6" fill="#d83024" opacity=".6"/>
<rect x="340.7" y="113.1" width="17.6" height="1.1" rx="0.6" fill="#c81e24" opacity=".6"/>
<rect x="389.7" y="113.1" width="13.7" height="0.9" rx="0.5" fill="#fae6b4" opacity=".6"/>
<rect x="400.3" y="113.1" width="13" height="0.8" rx="0.4" fill="#fae6b4" opacity=".6"/>
<rect x="130.9" y="113.1" width="10.5" height="1.6" rx="0.8" fill="#f4c880" opacity=".6"/>
<rect x="410.7" y="114.4" width="20.9" height="0.9" rx="0.4" fill="#fae6b4" opacity=".6"/>
<rect x="132.4" y="114.4" width="20" height="0.9" rx="0.4" fill="#c81e24" opacity=".6"/>
<rect x="319.6" y="114.4" width="11.5" height="1.3" rx="0.7" fill="#e86a40" opacity=".6"/>
<rect x="132.4" y="114.4" width="8" height="1.4" rx="0.7" fill="#d83024" opacity=".6"/>
<rect x="312.8" y="114.4" width="6" height="1.4" rx="0.7" fill="#b82230" opacity=".6"/>
<rect x="119.3" y="114.4" width="21.9" height="1.3" rx="0.7" fill="#c81e24" opacity=".6"/>
<rect x="134.5" y="114.4" width="18.7" height="1.6" rx="0.8" fill="#f4c880" opacity=".6"/>
<rect x="336.9" y="114.4" width="7.5" height="1.3" rx="0.7" fill="#d83024" opacity=".6"/>
<rect x="143.5" y="115.7" width="6.1" height="1.1" rx="0.6" fill="#d83024" opacity=".6"/>
<rect x="134" y="115.7" width="20.8" height="1" rx="0.5" fill="#b82230" opacity=".6"/>
<rect x="127.6" y="115.7" width="17.2" height="0.9" rx="0.4" fill="#f4c880" opacity=".6"/>
<rect x="17" y="115.7" width="16.7" height="0.8" rx="0.4" fill="#fff4d4" opacity=".6"/>
<rect x="143.1" y="115.7" width="8.6" height="1.6" rx="0.8" fill="#e86a40" opacity=".6"/>
<rect x="485.8" y="115.7" width="21.9" height="1.5" rx="0.8" fill="#d8a060" opacity=".6"/>
<rect x="360.9" y="115.7" width="9.3" height="1.1" rx="0.5" fill="#fff4d4" opacity=".6"/>
<rect x="479.5" y="117" width="19.1" height="1" rx="0.5" fill="#fae6b4" opacity=".6"/>
<rect x="313.6" y="117" width="6.1" height="0.9" rx="0.5" fill="#c81e24" opacity=".6"/>
<rect x="321.2" y="117" width="19.7" height="1.2" rx="0.6" fill="#e86a40" opacity=".6"/>
<rect x="299.1" y="117" width="18.7" height="0.9" rx="0.4" fill="#b82230" opacity=".6"/>
<rect x="120.7" y="117" width="14.5" height="1.4" rx="0.7" fill="#e86a40" opacity=".6"/>
<rect x="144.7" y="117" width="6.6" height="0.8" rx="0.4" fill="#f4c880" opacity=".6"/>
<rect x="327.5" y="117" width="16.9" height="0.9" rx="0.4" fill="#f0b070" opacity=".6"/>
<rect x="449.3" y="117" width="19.4" height="0.8" rx="0.4" fill="#c08058" opacity=".6"/>
<rect x="305.1" y="118.3" width="19.6" height="0.8" rx="0.4" fill="#fff4d4" opacity=".6"/>
<rect x="327.7" y="118.3" width="10.2" height="0.8" rx="0.4" fill="#e86a40" opacity=".6"/>
<rect x="56" y="118.3" width="22.4" height="1.4" rx="0.7" fill="#fae6b4" opacity=".6"/>
<rect x="398.9" y="118.3" width="20.4" height="0.9" rx="0.5" fill="#d8a060" opacity=".6"/>
<rect x="320.9" y="118.3" width="11.9" height="1.3" rx="0.6" fill="#f0b070" opacity=".6"/>
<rect x="112.9" y="118.3" width="9.6" height="0.9" rx="0.4" fill="#fff4d4" opacity=".6"/>
<rect x="118.9" y="118.3" width="14.7" height="1.3" rx="0.7" fill="#c81e24" opacity=".6"/>
<rect x="140.3" y="118.3" width="10.8" height="1.6" rx="0.8" fill="#f4c880" opacity=".6"/>
<rect x="313.9" y="119.6" width="9.1" height="1.6" rx="0.8" fill="#f4c880" opacity=".6"/>
<rect x="367.5" y="119.6" width="15.7" height="1" rx="0.5" fill="#c08058" opacity=".6"/>
<rect x="296.2" y="119.6" width="16.2" height="1" rx="0.5" fill="#d83024" opacity=".6"/>
<rect x="147.4" y="119.6" width="10.2" height="0.9" rx="0.5" fill="#e86a40" opacity=".6"/>
<rect x="136.3" y="119.6" width="10.4" height="1" rx="0.5" fill="#c81e24" opacity=".6"/>
<rect x="407.8" y="119.6" width="14.5" height="0.9" rx="0.4" fill="#c08058" opacity=".6"/>
<rect x="137.6" y="119.6" width="11.3" height="0.8" rx="0.4" fill="#f0b070" opacity=".6"/>
<rect x="144.7" y="119.6" width="7.4" height="1" rx="0.5" fill="#b82230" opacity=".6"/>
<rect x="293.6" y="120.9" width="18" height="1.4" rx="0.7" fill="#b82230" opacity=".6"/>
<rect x="9" y="120.9" width="6.8" height="1.1" rx="0.5" fill="#d8a060" opacity=".6"/>
<rect x="291.2" y="120.9" width="20.7" height="1.5" rx="0.7" fill="#b82230" opacity=".6"/>
<rect x="294.4" y="120.9" width="6.6" height="0.9" rx="0.4" fill="#c81e24" opacity=".6"/>
<rect x="136.6" y="120.9" width="18" height="1.4" rx="0.7" fill="#e86a40" opacity=".6"/>
<rect x="302.4" y="120.9" width="13.4" height="1.4" rx="0.7" fill="#c81e24" opacity=".6"/>
<rect x="288.1" y="120.9" width="16.2" height="1" rx="0.5" fill="#b82230" opacity=".6"/>
<rect x="146.1" y="120.9" width="13" height="1.3" rx="0.7" fill="#d83024" opacity=".6"/>
<rect x="297.4" y="122.2" width="20.8" height="1.1" rx="0.6" fill="#d83024" opacity=".6"/>
<rect x="292.8" y="122.2" width="6.9" height="0.9" rx="0.5" fill="#f0b070" opacity=".6"/>
<rect x="292.6" y="122.2" width="19.3" height="1.5" rx="0.8" fill="#f0b070" opacity=".6"/>
<rect x="156.9" y="122.2" width="7.2" height="0.9" rx="0.5" fill="#c81e24" opacity=".6"/>
<rect x="288.8" y="122.2" width="14.7" height="1.6" rx="0.8" fill="#f4c880" opacity=".6"/>
<rect x="140.3" y="122.2" width="20.8" height="1.3" rx="0.6" fill="#f0b070" opacity=".6"/>
<rect x="158.1" y="122.2" width="20.9" height="1.5" rx="0.7" fill="#f0b070" opacity=".6"/>
<rect x="162.4" y="122.2" width="12.5" height="0.9" rx="0.5" fill="#f0b070" opacity=".6"/>
<rect x="151.1" y="123.5" width="18.1" height="1.5" rx="0.7" fill="#b89060" opacity=".6"/>
<rect x="302.6" y="123.5" width="15.9" height="1.3" rx="0.6" fill="#b82230" opacity=".6"/>
<rect x="301.9" y="123.5" width="6.4" height="1.2" rx="0.6" fill="#e86a40" opacity=".6"/>
<rect x="139.2" y="123.5" width="20" height="1.4" rx="0.7" fill="#e86a40" opacity=".6"/>
<rect x="145.4" y="123.5" width="8.3" height="0.9" rx="0.4" fill="#f0b070" opacity=".6"/>
<rect x="142.6" y="123.5" width="6.7" height="1.2" rx="0.6" fill="#b82230" opacity=".6"/>
<rect x="303" y="123.5" width="15.2" height="1.4" rx="0.7" fill="#d83024" opacity=".6"/>
<rect x="167.6" y="124.8" width="7.2" height="0.8" rx="0.4" fill="#e86a40" opacity=".6"/>
<rect x="331" y="124.8" width="20.6" height="1" rx="0.5" fill="#d8a050" opacity=".6"/>
<rect x="68.9" y="124.8" width="12.3" height="0.9" rx="0.4" fill="#f0c068" opacity=".6"/>
<rect x="287.8" y="124.8" width="14.2" height="1.5" rx="0.8" fill="#b82230" opacity=".6"/>
<rect x="166.4" y="124.8" width="10.3" height="1.3" rx="0.6" fill="#d83024" opacity=".6"/>
<rect x="288.3" y="124.8" width="11" height="1.3" rx="0.7" fill="#b82230" opacity=".6"/>
<rect x="308.5" y="124.8" width="15.6" height="0.9" rx="0.4" fill="#e86a40" opacity=".6"/>
<rect x="42" y="124.8" width="16.4" height="1.2" rx="0.6" fill="#b89060" opacity=".6"/>
<rect x="295.8" y="126.1" width="12.7" height="1.4" rx="0.7" fill="#b82230" opacity=".6"/>
<rect x="168.5" y="126.1" width="7.5" height="1.1" rx="0.5" fill="#f0b070" opacity=".6"/>
<rect x="168.4" y="126.1" width="11.6" height="1.3" rx="0.7" fill="#b82230" opacity=".6"/>
<rect x="169.7" y="126.1" width="13.8" height="1.3" rx="0.6" fill="#d83024" opacity=".6"/>
<rect x="291.4" y="126.1" width="6.8" height="1.3" rx="0.6" fill="#f0b070" opacity=".6"/>
<rect x="169.7" y="126.1" width="10" height="1.1" rx="0.5" fill="#f0b070" opacity=".6"/>
<rect x="156.9" y="126.1" width="8.9" height="1.5" rx="0.7" fill="#e86a40" opacity=".6"/>
<rect x="378.7" y="127.4" width="17.5" height="0.9" rx="0.4" fill="#b89060" opacity=".6"/>
<rect x="287.5" y="127.4" width="23.4" height="1.4" rx="0.7" fill="#f0b070" opacity=".6"/>
<rect x="113.5" y="127.4" width="22.9" height="1.2" rx="0.6" fill="#fbe8b4" opacity=".6"/>
<rect x="172" y="127.4" width="15.6" height="0.8" rx="0.4" fill="#c81e24" opacity=".6"/>
<rect x="60.7" y="127.4" width="15.9" height="0.8" rx="0.4" fill="#d8a050" opacity=".6"/>
<rect x="295.9" y="127.4" width="17.6" height="1.2" rx="0.6" fill="#d83024" opacity=".6"/>
<rect x="298.7" y="127.4" width="7.1" height="1.2" rx="0.6" fill="#c81e24" opacity=".6"/>
<rect x="30" y="127.4" width="13.9" height="1.1" rx="0.6" fill="#b89060" opacity=".6"/>
<rect x="172.7" y="128.7" width="23.9" height="0.9" rx="0.5" fill="#f4c880" opacity=".6"/>
<rect x="169.8" y="128.7" width="23" height="1.5" rx="0.8" fill="#f0b070" opacity=".6"/>
<rect x="473" y="128.7" width="18.3" height="1.3" rx="0.7" fill="#f0c068" opacity=".6"/>
<rect x="171.9" y="128.7" width="23.4" height="1.3" rx="0.7" fill="#d83024" opacity=".6"/>
<rect x="281.4" y="128.7" width="9.6" height="1.5" rx="0.7" fill="#e86a40" opacity=".6"/>
<rect x="303.5" y="128.7" width="10.3" height="1.1" rx="0.5" fill="#b89060" opacity=".6"/>
<rect x="169.5" y="128.7" width="15.6" height="1.2" rx="0.6" fill="#f4c880" opacity=".6"/>
<rect x="182.8" y="130" width="16.2" height="1.3" rx="0.6" fill="#c81e24" opacity=".6"/>
<rect x="338.3" y="130" width="8.9" height="1.3" rx="0.6" fill="#fbe8b4" opacity=".6"/>
<rect x="166.1" y="130" width="18.5" height="0.8" rx="0.4" fill="#c81e24" opacity=".6"/>
<rect x="162.4" y="130" width="19.7" height="1.5" rx="0.7" fill="#f4c880" opacity=".6"/>
<rect x="186.8" y="130" width="7.9" height="1.6" rx="0.8" fill="#f4c880" opacity=".6"/>
<rect x="271.4" y="130" width="19.5" height="0.9" rx="0.4" fill="#c81e24" opacity=".6"/>
<rect x="279.4" y="130" width="17.6" height="1.4" rx="0.7" fill="#c81e24" opacity=".6"/>
<rect x="287.5" y="130" width="22.7" height="1.1" rx="0.5" fill="#f0b070" opacity=".6"/>
<rect x="169" y="131.3" width="21.3" height="1.2" rx="0.6" fill="#c81e24" opacity=".6"/>
<rect x="174.8" y="131.3" width="19.9" height="1.1" rx="0.6" fill="#d83024" opacity=".6"/>
<rect x="269" y="131.3" width="20.9" height="1.4" rx="0.7" fill="#c81e24" opacity=".6"/>
<rect x="16.8" y="131.3" width="11.2" height="1.2" rx="0.6" fill="#f0c068" opacity=".6"/>
<rect x="81.7" y="131.3" width="14.8" height="1.2" rx="0.6" fill="#b89060" opacity=".6"/>
<rect x="178.2" y="131.3" width="23.2" height="1.3" rx="0.6" fill="#d83024" opacity=".6"/>
<rect x="180.6" y="131.3" width="10.2" height="1.6" rx="0.8" fill="#f4c880" opacity=".6"/>
<rect x="183.5" y="131.3" width="7.9" height="1.2" rx="0.6" fill="#e86a40" opacity=".6"/>
<rect x="183.4" y="132.6" width="19.4" height="1.5" rx="0.8" fill="#b82230" opacity=".6"/>
<rect x="279.7" y="132.6" width="22.2" height="1" rx="0.5" fill="#f4c880" opacity=".6"/>
<rect x="186.3" y="132.6" width="14.3" height="1" rx="0.5" fill="#b82230" opacity=".6"/>
<rect x="265.2" y="132.6" width="21.6" height="1.2" rx="0.6" fill="#e86a40" opacity=".6"/>
<rect x="276" y="132.6" width="10.6" height="1.4" rx="0.7" fill="#f4c880" opacity=".6"/>
<rect x="181.9" y="132.6" width="9.4" height="1" rx="0.5" fill="#d83024" opacity=".6"/>
<rect x="185.4" y="132.6" width="16.9" height="1.4" rx="0.7" fill="#d83024" opacity=".6"/>
<rect x="71.8" y="132.6" width="23.2" height="1" rx="0.5" fill="#fbe8b4" opacity=".6"/>
<rect x="277" y="133.9" width="8.7" height="1" rx="0.5" fill="#e86a40" opacity=".6"/>
<rect x="129.6" y="133.9" width="8" height="1" rx="0.5" fill="#b89060" opacity=".6"/>
<rect x="190.3" y="133.9" width="23.7" height="1" rx="0.5" fill="#f0b070" opacity=".6"/>
<rect x="277.8" y="133.9" width="6.1" height="1.4" rx="0.7" fill="#f0b070" opacity=".6"/>
<rect x="186.6" y="133.9" width="13.6" height="1.4" rx="0.7" fill="#f4c880" opacity=".6"/>
<rect x="183" y="133.9" width="13.8" height="0.9" rx="0.4" fill="#d83024" opacity=".6"/>
<rect x="273.9" y="133.9" width="18.8" height="1.4" rx="0.7" fill="#e86a40" opacity=".6"/>
<rect x="188.2" y="135.2" width="17.2" height="1.2" rx="0.6" fill="#b82230" opacity=".6"/>
<rect x="202.3" y="135.2" width="13" height="1.4" rx="0.7" fill="#f0b070" opacity=".6"/>
<rect x="89.3" y="135.2" width="18.9" height="1" rx="0.5" fill="#f0c068" opacity=".6"/>
<rect x="264.7" y="135.2" width="16.3" height="0.9" rx="0.4" fill="#f4c880" opacity=".6"/>
<rect x="262.3" y="135.2" width="12.7" height="1.4" rx="0.7" fill="#f4c880" opacity=".6"/>
<rect x="352.4" y="135.2" width="15.2" height="0.9" rx="0.5" fill="#f0c068" opacity=".6"/>
<rect x="203.9" y="135.2" width="10.5" height="1.3" rx="0.7" fill="#e86a40" opacity=".6"/>
<rect x="278.3" y="135.2" width="17.3" height="1.5" rx="0.8" fill="#fbe8b4" opacity=".6"/>
<rect x="202.7" y="136.5" width="20.4" height="1" rx="0.5" fill="#c81e24" opacity=".6"/>
<rect x="196.6" y="136.5" width="17.4" height="1.4" rx="0.7" fill="#d83024" opacity=".6"/>
<rect x="395.6" y="136.5" width="17.5" height="1.1" rx="0.5" fill="#b89060" opacity=".6"/>
<rect x="255.7" y="136.5" width="19.7" height="1.6" rx="0.8" fill="#d83024" opacity=".6"/>
<rect x="262.9" y="136.5" width="12.8" height="1" rx="0.5" fill="#e86a40" opacity=".6"/>
<rect x="197.7" y="136.5" width="19" height="0.8" rx="0.4" fill="#b82230" opacity=".6"/>
<rect x="256.3" y="136.5" width="13.7" height="1.2" rx="0.6" fill="#b82230" opacity=".6"/>
<rect x="440.2" y="137.8" width="7" height="1.5" rx="0.7" fill="#d8a050" opacity=".6"/>
<rect x="213.1" y="137.8" width="12.2" height="1.2" rx="0.6" fill="#c81e24" opacity=".6"/>
<rect x="208.3" y="137.8" width="10.5" height="1.3" rx="0.7" fill="#d83024" opacity=".6"/>
<rect x="257.2" y="137.8" width="12.2" height="1.4" rx="0.7" fill="#d83024" opacity=".6"/>
<rect x="34.9" y="137.8" width="18.4" height="1.3" rx="0.6" fill="#f0c068" opacity=".6"/>
<rect x="253" y="137.8" width="18.5" height="1" rx="0.5" fill="#c81e24" opacity=".6"/>
<rect x="211.5" y="137.8" width="10.8" height="1.2" rx="0.6" fill="#f0b070" opacity=".6"/>
<rect x="251.3" y="137.8" width="14.4" height="0.8" rx="0.4" fill="#d83024" opacity=".6"/>
<rect x="241.3" y="139.1" width="21.5" height="1.2" rx="0.6" fill="#f0b070" opacity=".6"/>
<rect x="246.1" y="139.1" width="11.3" height="1.2" rx="0.6" fill="#f4c880" opacity=".6"/>
<rect x="220.1" y="139.1" width="17.5" height="0.9" rx="0.4" fill="#c81e24" opacity=".6"/>
<rect x="215" y="139.1" width="22.8" height="1.3" rx="0.7" fill="#e86a40" opacity=".6"/>
<rect x="248.5" y="139.1" width="8.6" height="1.4" rx="0.7" fill="#b82230" opacity=".6"/>
<rect x="218.6" y="139.1" width="17.9" height="0.9" rx="0.4" fill="#b82230" opacity=".6"/>
<rect x="135.6" y="139.1" width="16" height="1.1" rx="0.6" fill="#b89060" opacity=".6"/>
<rect x="247.1" y="139.1" width="15.1" height="1.1" rx="0.6" fill="#f4c880" opacity=".6"/>
<rect x="85.6" y="140.4" width="8.1" height="1.2" rx="0.6" fill="#f0c068" opacity=".6"/>
<rect x="33.5" y="140.4" width="23.5" height="0.9" rx="0.5" fill="#fbe8b4" opacity=".6"/>
<rect x="191.8" y="140.4" width="16" height="1.1" rx="0.6" fill="#fbe8b4" opacity=".6"/>
<rect x="13.1" y="140.4" width="8" height="1.1" rx="0.6" fill="#b89060" opacity=".6"/>
<rect x="382.1" y="140.4" width="17.8" height="1.3" rx="0.6" fill="#b89060" opacity=".6"/>
<rect x="336.1" y="140.4" width="17.3" height="1.3" rx="0.6" fill="#fbe8b4" opacity=".6"/>
<rect x="217.6" y="140.4" width="18" height="1" rx="0.5" fill="#d8a050" opacity=".6"/>
<rect x="8.4" y="140.4" width="9.3" height="0.9" rx="0.4" fill="#fbe8b4" opacity=".6"/>
<rect x="173.3" y="141.7" width="17.8" height="1.5" rx="0.8" fill="#d8a050" opacity=".6"/>
<rect x="118.2" y="141.7" width="16.1" height="1.4" rx="0.7" fill="#f0c068" opacity=".6"/>
<rect x="0.1" y="141.7" width="6.6" height="0.9" rx="0.5" fill="#fbe8b4" opacity=".6"/>
<rect x="399.9" y="141.7" width="15.4" height="1.2" rx="0.6" fill="#b89060" opacity=".6"/>
<rect x="211.9" y="141.7" width="22.5" height="1.3" rx="0.6" fill="#fbe8b4" opacity=".6"/>
<rect x="483.6" y="141.7" width="16.7" height="1.3" rx="0.7" fill="#d8a050" opacity=".6"/>
<rect x="40.7" y="141.7" width="13.4" height="1.2" rx="0.6" fill="#b89060" opacity=".6"/>
<rect x="-2.3" y="141.7" width="8.7" height="1" rx="0.5" fill="#fbe8b4" opacity=".6"/>
<rect x="480.4" y="143" width="18" height="0.8" rx="0.4" fill="#fbe8b4" opacity=".6"/>
<rect x="224.7" y="143" width="8.2" height="1" rx="0.5" fill="#f0c068" opacity=".6"/>
<rect x="354.6" y="143" width="10.4" height="1.4" rx="0.7" fill="#d8a050" opacity=".6"/>
<rect x="361.4" y="143" width="12.6" height="1.5" rx="0.8" fill="#d8a050" opacity=".6"/>
<rect x="302.4" y="143" width="7.5" height="1.4" rx="0.7" fill="#b89060" opacity=".6"/>
<rect x="116.3" y="143" width="22.8" height="1.2" rx="0.6" fill="#fbe8b4" opacity=".6"/>
<rect x="-2.7" y="143" width="6.2" height="1.4" rx="0.7" fill="#fbe8b4" opacity=".6"/>
<rect x="288.3" y="143" width="11.6" height="1.1" rx="0.6" fill="#b89060" opacity=".6"/>
<rect x="461.5" y="144.3" width="11.7" height="1.3" rx="0.6" fill="#b89060" opacity=".6"/>
<rect x="470.3" y="144.3" width="9" height="1.2" rx="0.6" fill="#fbe8b4" opacity=".6"/>
<rect x="303" y="144.3" width="17.6" height="1.1" rx="0.5" fill="#b89060" opacity=".6"/>
<rect x="215" y="144.3" width="20" height="1.2" rx="0.6" fill="#f0c068" opacity=".6"/>
<rect x="135.3" y="144.3" width="16.2" height="1.4" rx="0.7" fill="#fbe8b4" opacity=".6"/>
<rect x="388.6" y="144.3" width="17.7" height="1.3" rx="0.6" fill="#f0c068" opacity=".6"/>
<rect x="-2.3" y="144.3" width="19.1" height="1.5" rx="0.7" fill="#d8a050" opacity=".6"/>
<rect x="203" y="144.3" width="11.6" height="1.3" rx="0.6" fill="#d8a050" opacity=".6"/>
<rect x="289.1" y="145.6" width="18.3" height="1.1" rx="0.6" fill="#d8a050" opacity=".6"/>
<rect x="-9.2" y="145.6" width="11.1" height="1.4" rx="0.7" fill="#f0c068" opacity=".6"/>
<rect x="447.5" y="145.6" width="8.8" height="1" rx="0.5" fill="#fbe8b4" opacity=".6"/>
<rect x="432.6" y="145.6" width="8.5" height="1" rx="0.5" fill="#d8a050" opacity=".6"/>
<rect x="391.1" y="145.6" width="21.3" height="1" rx="0.5" fill="#b89060" opacity=".6"/>
<rect x="265.2" y="145.6" width="7.5" height="1.1" rx="0.5" fill="#b89060" opacity=".6"/>
<rect x="453.1" y="145.6" width="19.5" height="1" rx="0.5" fill="#d8a050" opacity=".6"/>
<rect x="186.6" y="145.6" width="7" height="1" rx="0.5" fill="#d8a050" opacity=".6"/>
<rect x="240.9" y="135.6" width="4.1" height="0.9" rx="0.5" fill="#e83a28" opacity=".55"/>
<rect x="299.4" y="108.8" width="11.7" height="0.9" rx="0.4" fill="#f06a38" opacity=".55"/>
<rect x="192.8" y="122.7" width="12.3" height="0.9" rx="0.5" fill="#a81830" opacity=".55"/>
<rect x="190.7" y="124.9" width="5.9" height="1.2" rx="0.6" fill="#f06a38" opacity=".55"/>
<rect x="238" y="115.3" width="7.6" height="0.8" rx="0.4" fill="#f06a38" opacity=".55"/>
<rect x="230.9" y="135.5" width="12.7" height="1" rx="0.5" fill="#a81830" opacity=".55"/>
<rect x="199.4" y="131.2" width="10" height="0.8" rx="0.4" fill="#a81830" opacity=".55"/>
<rect x="180" y="125.4" width="6" height="1" rx="0.5" fill="#e83a28" opacity=".55"/>
<rect x="308.5" y="112.8" width="6.8" height="1.3" rx="0.6" fill="#e8502c" opacity=".55"/>
<rect x="259" y="130.6" width="13.6" height="1.2" rx="0.6" fill="#a81830" opacity=".55"/>
<rect x="306" y="116.8" width="7.8" height="0.6" rx="0.3" fill="#e8502c" opacity=".55"/>
<rect x="276.8" y="123.8" width="8.6" height="1.2" rx="0.6" fill="#e8502c" opacity=".55"/>
<rect x="277.9" y="126.5" width="11.1" height="0.8" rx="0.4" fill="#e8502c" opacity=".55"/>
<rect x="244.1" y="124.1" width="13.6" height="0.7" rx="0.4" fill="#e83a28" opacity=".55"/>
<rect x="223.4" y="133.2" width="6.4" height="0.7" rx="0.4" fill="#f06a38" opacity=".55"/>
<rect x="260.2" y="136.1" width="4.6" height="1.2" rx="0.6" fill="#e8502c" opacity=".55"/>
<rect x="294.6" y="107.5" width="11.1" height="0.6" rx="0.3" fill="#e83a28" opacity=".55"/>
<rect x="282.4" y="110.6" width="13.4" height="1" rx="0.5" fill="#a81830" opacity=".55"/>
<rect x="249.1" y="120.1" width="8.7" height="0.8" rx="0.4" fill="#a81830" opacity=".55"/>
<rect x="220.4" y="110" width="5.7" height="1.2" rx="0.6" fill="#f06a38" opacity=".55"/>
<rect x="257.9" y="135.3" width="8.7" height="1.2" rx="0.6" fill="#f06a38" opacity=".55"/>
<rect x="302.9" y="111" width="4.8" height="1.2" rx="0.6" fill="#a81830" opacity=".55"/>
<rect x="212.7" y="110.5" width="5" height="1.2" rx="0.6" fill="#e83a28" opacity=".55"/>
<rect x="224" y="126.1" width="7.4" height="0.9" rx="0.5" fill="#f06a38" opacity=".55"/>
<rect x="187.5" y="126.1" width="6.2" height="0.7" rx="0.4" fill="#e8502c" opacity=".55"/>
<rect x="284" y="120.4" width="8.4" height="0.8" rx="0.4" fill="#f06a38" opacity=".55"/>
<rect x="174.4" y="119.2" width="6.7" height="0.8" rx="0.4" fill="#a81830" opacity=".55"/>
<rect x="222.4" y="111.4" width="7.2" height="0.7" rx="0.3" fill="#e83a28" opacity=".55"/>
<rect x="212.2" y="137.3" width="13" height="1" rx="0.5" fill="#f06a38" opacity=".55"/>
<rect x="199.7" y="132.7" width="11.5" height="0.9" rx="0.5" fill="#a81830" opacity=".55"/>
<rect x="179.7" y="114.4" width="6.4" height="0.8" rx="0.4" fill="#e83a28" opacity=".55"/>
<rect x="201.8" y="134.7" width="11.3" height="0.7" rx="0.4" fill="#a81830" opacity=".55"/>
<rect x="222.2" y="126.5" width="9.1" height="0.9" rx="0.5" fill="#f06a38" opacity=".55"/>
<rect x="272.6" y="131.3" width="6.9" height="0.9" rx="0.5" fill="#a81830" opacity=".55"/>
<path d="M-5,144 q14.2,-0.5 28.4,0 q11.1,-0.7 22.3,0 q7.6,0.5 15.2,0 q12.4,-0.5 24.8,0 q6.7,-0.7 13.4,0 q11.5,-0 23,0 q8.5,-0.5 16.9,0 q11.5,0.4 23,0 q13.3,0.1 26.6,0 q7.8,-0.8 15.6,0 q12.6,-0.2 25.2,0 q12.5,-0.8 25,0 q13.3,-0.3 26.6,0 q13.6,0.7 27.2,0 q10.4,-0.9 20.9,0 q14.2,-0 28.4,0 q13.8,-0.4 27.7,0 q7.7,0.6 15.3,0 q9.3,-0.6 18.6,0 q9.3,0.2 18.7,0 q6,0 12.1,0 q10,0 20,0 q7.1,0.4 14.2,0 q13.3,0.7 26.7,0" stroke="#a09070" stroke-width="0.9" fill="none" opacity="0.5"/>
<path d="M-5,146 q8.9,0.4 17.8,0 q9.4,0.5 18.9,0 q6.6,0.7 13.1,0 q14.6,-0 29.2,0 q10.6,0.1 21.2,0 q10.8,-0.9 21.7,0 q14.7,-0.5 29.4,0 q7.6,-0.7 15.3,0 q8.3,0.6 16.5,0 q6.3,-0.7 12.5,0 q12.3,-0.5 24.6,0 q6.2,0.2 12.3,0 q11.2,0 22.4,0 q12.3,-0.7 24.6,0 q13.8,0.4 27.7,0 q6.4,-0.7 12.8,0 q10.4,0 20.9,0 q8.5,-0.7 17,0 q9.7,-0.7 19.3,0 q11.3,0.6 22.7,0 q7.3,0.1 14.6,0 q12.7,-0.6 25.4,0 q13.4,0.8 26.9,0 q9.5,-0.1 19,0 q13.6,0 27.1,0" stroke="#fff8e0" stroke-width="1.2" fill="none" opacity="0.5"/>
<path d="M-5,147.6 q9.6,0.8 19.1,0 q13,-0.3 26,0 q8.2,-0.3 16.3,0 q9.9,0.9 19.8,0 q13.2,0.7 26.5,0 q13.3,0.6 26.7,0 q6.5,0 13,0 q14.6,0.8 29.2,0 q8.2,-0.1 16.5,0 q11.7,-0.2 23.4,0 q10.8,-0.8 21.6,0 q9.9,0 19.8,0 q6.2,-0.6 12.4,0 q14.7,0.5 29.5,0 q14.4,0.2 28.9,0 q13.3,0.7 26.6,0 q14,-0.8 27.9,0 q11.8,-0.4 23.5,0 q12.1,-0.4 24.2,0 q10.9,0.8 21.8,0 q11.6,-0.4 23.2,0 q10.7,-0.1 21.4,0" stroke="#a89478" stroke-width="0.9" fill="none" opacity="0.5"/>
<path d="M-5,150.6 q14.6,-0.4 29.1,0 q8.7,0.3 17.5,0 q7.1,0.2 14.2,0 q14.6,0 29.2,0 q8.4,-0.1 16.8,0 q10.8,-0.6 21.6,0 q7.1,-0.7 14.2,0 q8.6,-0.2 17.3,0 q8.6,-0.5 17.2,0 q6.8,0.1 13.6,0 q13.6,0.2 27.1,0 q11.1,0.3 22.3,0 q7.8,0.4 15.6,0 q10.1,0.1 20.3,0 q11.5,-0.1 23,0 q8.8,-0.5 17.6,0 q8,0 16,0 q9.4,0.2 18.9,0 q6.1,-0.3 12.2,0 q13.8,-0.5 27.5,0 q11,-0 22,0 q8.6,0.9 17.1,0 q8.7,0.5 17.3,0 q7.4,-0.8 14.9,0 q13.8,-0.1 27.7,0 q6.6,-0.2 13.1,0" stroke="#b0a0a0" stroke-width="0.9" fill="none" opacity="0.55"/>
<path d="M-5,153 q10,0.4 19.9,0 q7,-0.5 14,0 q14.6,0.4 29.3,0 q7.4,-0.3 14.8,0 q9.2,0.3 18.3,0 q11.5,0.6 23.1,0 q13.4,0 26.8,0 q12.6,0.4 25.3,0 q12.8,-0 25.7,0 q13.1,0.4 26.1,0 q14.2,-0.7 28.5,0 q13.8,-0.9 27.7,0 q12.9,0.2 25.8,0 q10.5,0.8 21,0 q11.1,-0.1 22.3,0 q13.1,0.7 26.1,0 q11.5,-0.2 22.9,0 q10.1,-0.1 20.1,0 q12.5,-0.4 25,0 q9.5,0.1 19,0 q9.5,-0.3 18.9,0 q13.1,0.6 26.2,0" stroke="#c8a0b8" stroke-width="1" fill="none" opacity="0.6"/>
<path d="M-5,154.6 q10.5,-0.1 21,0 q7.7,-0.4 15.3,0 q7.3,0.1 14.6,0 q11.2,-0.7 22.5,0 q14.3,-0.3 28.6,0 q13.6,0.6 27.2,0 q14.6,-0.5 29.3,0 q9.8,0.7 19.7,0 q6.1,-0.8 12.2,0 q11.1,-0 22.2,0 q14.3,0.5 28.6,0 q10.8,0.9 21.7,0 q10.7,0 21.3,0 q12.2,-0.2 24.3,0 q9.2,0.2 18.4,0 q9.2,0.8 18.3,0 q12.1,0 24.2,0 q6.9,-0.2 13.8,0 q9.6,0.1 19.2,0 q11.2,0.7 22.3,0 q14.7,-0 29.4,0 q10,0.2 19.9,0 q15,-0.3 29.9,0" stroke="#f8dcec" stroke-width="1.2" fill="none" opacity="0.6"/>
<path d="M-5,156.3 q10.8,0.6 21.5,0 q7.5,-0.3 15.1,0 q14.8,0.6 29.6,0 q10.6,-0.7 21.2,0 q14.1,0.3 28.1,0 q13.4,0.9 26.8,0 q14,-0.1 28,0 q7.4,-0.4 14.8,0 q10.6,0 21.2,0 q7.7,-0.6 15.4,0 q11.7,0.2 23.3,0 q9.2,0.9 18.4,0 q11.7,-0.8 23.5,0 q9.7,0.5 19.4,0 q8.8,0.3 17.5,0 q6,-0.4 12.1,0 q13.6,0.2 27.2,0 q12,-0.5 24,0 q10.5,0.1 21,0 q8.4,0.3 16.8,0 q10.8,0.9 21.6,0 q11.2,-0.2 22.3,0 q7.1,-0.6 14.2,0 q12.8,-0.7 25.7,0" stroke="#8a6080" stroke-width="1.1" fill="none" opacity="0.8"/>
<path d="M-5,158.1 q6.9,-0.6 13.8,0 q10.7,0.6 21.4,0 q11.5,0.6 23,0 q6.6,-0.9 13.1,0 q12.9,-0.3 25.9,0 q12.4,-0.3 24.9,0 q7.5,-0.4 15,0 q6.9,0.7 13.8,0 q11.2,-0.3 22.5,0 q10,-0.2 20.1,0 q6.5,0.7 13,0 q11.2,0.8 22.5,0 q10,0.2 19.9,0 q8.2,-0.8 16.5,0 q14.4,0.6 28.8,0 q8.8,0.7 17.7,0 q13.3,-0.4 26.7,0 q11.4,0.8 22.8,0 q10.5,0.8 20.9,0 q8.2,-0.2 16.4,0 q12.5,-0.5 24.9,0 q8.8,0.7 17.6,0 q10.4,0.5 20.7,0 q8.2,-0.6 16.4,0 q9.2,-0.6 18.5,0 q14.7,-0.4 29.5,0" stroke="#f6d0ea" stroke-width="1.2" fill="none" opacity="0.7"/>
<path d="M-5,159.9 q11.1,-0.7 22.1,0 q10.8,-0.2 21.6,0 q9.6,-0.8 19.3,0 q7.1,0.6 14.2,0 q9.2,-0.5 18.3,0 q7.7,-0.4 15.4,0 q8.1,-0.8 16.3,0 q12,-0.3 24,0 q7.4,0.4 14.8,0 q6.8,-0.4 13.7,0 q13.5,-0.7 27,0 q10,0.6 20,0 q13.2,-0.6 26.5,0 q9.2,0.4 18.4,0 q9.4,0.8 18.8,0 q7.9,0.8 15.7,0 q10.5,-0.5 21.1,0 q10.1,-0.7 20.1,0 q12.4,-0.4 24.7,0 q14.1,0.2 28.2,0 q9.3,-0.5 18.6,0 q11.5,-0.5 22.9,0 q13.9,-0.7 27.7,0 q10.6,0.1 21.2,0 q8.4,0.5 16.9,0" stroke="#8a6080" stroke-width="1.2" fill="none" opacity="0.85"/>
<path d="M-5,161.3 q9.5,0.3 18.9,0 q11.1,-0.3 22.2,0 q9.5,-0.7 19,0 q7.6,0.6 15.2,0 q8.9,0.3 17.8,0 q7,0.1 14,0 q9.3,0 18.5,0 q8.7,-0.8 17.3,0 q8.8,-0.5 17.6,0 q7.1,0.4 14.3,0 q8.5,-0.2 17.1,0 q14.2,0.5 28.4,0 q13.9,0.7 27.9,0 q7.2,-0.4 14.4,0 q6.3,0.3 12.5,0 q12,-0.3 23.9,0 q9.7,0.3 19.4,0 q12.3,-0.5 24.6,0 q13.6,-0.3 27.2,0 q11.7,-0.6 23.3,0 q7,0.7 14.1,0 q12.6,0.4 25.2,0 q6.4,-0.8 12.7,0 q7.5,-0.5 14.9,0 q8.7,-0.2 17.5,0 q6.4,-0.3 12.7,0 q11.7,-0.6 23.5,0" stroke="#f0c4e4" stroke-width="1" fill="none" opacity="0.7"/></svg></div>
<div class="mat" style="left:213px;top:756.6px;width:352px;height:135.6px"><svg viewBox="0 0 487 162" preserveAspectRatio="none"><rect width="487" height="90" fill="url(#sky)"/>
<ellipse cx="430" cy="32" rx="140" ry="7.5" fill="#f48e18" opacity=".7" filter="url(#b4)"/>
<ellipse cx="420" cy="4" rx="130" ry="7" fill="#f4b0c8" opacity=".6" filter="url(#b4)"/>
<ellipse cx="120" cy="27" rx="120" ry="6" fill="#f6c050" opacity=".35" filter="url(#b4)"/>
<ellipse cx="450" cy="63" rx="80" ry="5" fill="#f88458" opacity=".45" filter="url(#b4)"/>
<path d="M0,68.3 L22.6,67.4 L30,66 L36.8,65.4 L52.8,64.6 L70.6,62.8 L88.4,59.8 L106.2,57 L123.9,53.6 L141.7,50.9 L159.5,48.2 L175,45 L191.5,40.8 L206.5,37.2 L215,35 L222,33 L228.5,31.5 L236,31.1 L244,31 L252,31.2 L259.5,31.8 L268,34.6 L286.5,40.4 L295.1,43.3 L317.3,48.5 L339.5,52.7 L356.2,55.5 L372.8,56.3 L389.5,57.4 L406.2,61 L422.8,65.7 L439.5,68.5 L461.5,69.3 L487,72.3 L487,80 L0,80 Z" fill="url(#mtn)"/>
<path d="M0,68.3 L22.6,67.4 L30,66 L36.8,65.4 L52.8,64.6 L70.6,62.8 L88.4,59.8 L106.2,57 L123.9,53.6 L141.7,50.9 L159.5,48.2 L175,45 L191.5,40.8 L206.5,37.2 L215,35 L222,33 L228.5,31.5 L236,31.1 L244,31 L252,31.2 L259.5,31.8 L268,34.6 L286.5,40.4 L295.1,43.3 L317.3,48.5 L339.5,52.7 L356.2,55.5 L372.8,56.3 L389.5,57.4 L406.2,61 L422.8,65.7 L439.5,68.5 L461.5,69.3 L487,72.3 L487,80 L0,80 Z" fill="url(#mtnR)"/>
<path d="M100,59 C150,54 200,48 242,47.5 C282,47.5 322,52 380,60" stroke="#a8122a" stroke-width="3" fill="none" opacity=".5" filter="url(#b1)"/>
<path d="M262,36 L290,48" stroke="#b01a24" stroke-width="1.4" opacity=".3" filter="url(#b05)"/>
<path d="M272,40 L302,51" stroke="#b01a24" stroke-width="1.4" opacity=".3" filter="url(#b05)"/>
<path d="M252,35 L262,45" stroke="#b01a24" stroke-width="1.4" opacity=".3" filter="url(#b05)"/>
<path d="M232,35 L222,44" stroke="#b01a24" stroke-width="1.4" opacity=".3" filter="url(#b05)"/>
<path d="M258,34 C266,40 274,46 284,52 L288,51 C278,45 270,39 262,33 Z" fill="#a01424" opacity="0.35" filter="url(#b05)"/>
<path d="M268,37 C280,43 292,49 306,55 L309,53 C296,47 284,41 272,36 Z" fill="#a01424" opacity="0.3" filter="url(#b05)"/>
<path d="M246,33 C250,39 254,45 256,50 L259,50 C257,44 253,38 250,33 Z" fill="#a01424" opacity="0.3" filter="url(#b05)"/>
<path d="M226,34 C220,40 212,46 204,50 L207,51 C214,47 222,41 229,35 Z" fill="#a01424" opacity="0.25" filter="url(#b05)"/>
<path d="M60,64.5 C110,61 150,58 200,57" stroke="#b83050" stroke-width="1.5" fill="none" opacity=".45" filter="url(#b05)"/>
<path d="M0,70.5 L90,71 C170,73.5 230,75 290,75 C360,74.5 420,72.5 487,71.5 L487,88 L0,88 Z" fill="url(#dark)"/>
<path d="M0,69.8 L90,70.3 C170,72.8 230,74.3 290,74.3 C360,73.8 420,71.8 487,70.8" stroke="#6a1c3a" stroke-width="1.6" fill="none" opacity=".5" filter="url(#b05)"/>
<path d="M20,76.5 C120,76.2 220,77.4 330,78 L330,79.2 C220,78.6 120,77.6 20,78 Z" fill="#a02848" opacity=".4"/>
<rect x="165.7" y="85.1" width="2" height="1.2" fill="#f4e4e4" opacity="0.4"/>
<rect x="261.1" y="84.6" width="2.8" height="1.2" fill="#f4e4e4" opacity="0.6"/>
<rect x="36.9" y="84.7" width="3" height="1.2" fill="#f4e4e4" opacity="0.4"/>
<rect x="211" y="84.7" width="4.4" height="1.2" fill="#f4e4e4" opacity="0.5"/>
<rect x="302.3" y="85.1" width="4.8" height="1.2" fill="#f4e4e4" opacity="0.5"/>
<rect x="459.3" y="85.3" width="1.7" height="1.2" fill="#f4e4e4" opacity="0.5"/>
<rect x="84.9" y="84.8" width="1.9" height="1.2" fill="#f4e4e4" opacity="0.7"/>
<rect x="101.3" y="85.1" width="3.5" height="1.2" fill="#f4e4e4" opacity="0.5"/>
<rect x="266.5" y="84.6" width="1.7" height="1.2" fill="#f4e4e4" opacity="0.4"/>
<rect x="326.2" y="84.9" width="3" height="1.2" fill="#f4e4e4" opacity="0.6"/>
<rect x="223.9" y="85.2" width="2.5" height="1.2" fill="#f4e4e4" opacity="0.7"/>
<rect x="129.8" y="85" width="3.5" height="1.2" fill="#f4e4e4" opacity="0.7"/>
<rect x="348.3" y="85.4" width="2.5" height="1.2" fill="#f4e4e4" opacity="0.4"/>
<rect x="208.2" y="84.7" width="4.1" height="1.2" fill="#f4e4e4" opacity="0.6"/>
<rect x="37.6" y="85.2" width="3.8" height="1.2" fill="#f4e4e4" opacity="0.6"/>
<rect x="414" y="85.2" width="2.6" height="1.2" fill="#f4e4e4" opacity="0.6"/>
<rect x="281" y="85.3" width="3.1" height="1.2" fill="#f4e4e4" opacity="0.8"/>
<rect x="233.3" y="84.6" width="3.8" height="1.2" fill="#f4e4e4" opacity="0.7"/>
<rect x="311.2" y="85.3" width="5" height="1.2" fill="#f4e4e4" opacity="0.5"/>
<rect x="193.6" y="84.6" width="3.8" height="1.2" fill="#f4e4e4" opacity="0.6"/>
<rect x="95.6" y="84.6" width="1.9" height="1.2" fill="#f4e4e4" opacity="0.7"/>
<rect x="78.2" y="84.9" width="2.4" height="1.2" fill="#f4e4e4" opacity="0.7"/>
<rect y="87" width="487" height="75" fill="url(#water)"/>
<rect x="200" y="118" width="287" height="25" fill="url(#waterR)" filter="url(#b1)"/>
<ellipse cx="236" cy="93.5" rx="170" ry="6" fill="#d84830" opacity=".55" filter="url(#b3)"/>
<rect x="-6" y="97.5" width="499" height="13.5" fill="url(#rband)" filter="url(#b1)"/>
<path d="M88,97 L88,98.5 L88,100 L88,101.5 L88,103 L88,104.5 L88,106 L88,107.5 L88,109 L93.4,110.5 L109.5,112 L125.6,113.5 L133.7,115 L137.8,116.5 L142.1,118 L146.4,119.5 L150.8,121 L155.3,122.5 L160,124 L164.8,125.5 L169.9,127 L175.1,128.5 L180.5,130 L186.3,131.5 L192.4,133 L199,134.5 L206.3,136 L214.8,137.5 L225.5,139 L253,139 L262.4,137.5 L269.5,136 L275.4,134.5 L280.7,133 L285.5,131.5 L289.9,130 L294,128.5 L297.8,127 L301.5,125.5 L305,124 L308.3,122.5 L311.5,121 L314.6,119.5 L317.5,118 L320.4,116.5 L323.2,115 L330.4,113.5 L346.5,112 L362.6,110.5 L368,109 L368,107.5 L368,106 L368,104.5 L368,103 L368,101.5 L368,100 L368,98.5 L368,97 Z" fill="url(#refl)" filter="url(#b15)"/>
<rect x="63.1" y="97.5" width="14.1" height="0.9" rx="0.4" fill="#e0a070" opacity=".6"/>
<rect x="386.9" y="97.5" width="13.5" height="1" rx="0.5" fill="#b83c3c" opacity=".6"/>
<rect x="-4" y="97.5" width="8.7" height="0.9" rx="0.4" fill="#f8d8a0" opacity=".6"/>
<rect x="368.6" y="97.5" width="11.1" height="0.9" rx="0.5" fill="#c85a44" opacity=".6"/>
<rect x="81.2" y="97.5" width="18.4" height="1.6" rx="0.8" fill="#e0a070" opacity=".6"/>
<rect x="336.9" y="97.5" width="13.2" height="1.1" rx="0.6" fill="#9a2434" opacity=".6"/>
<rect x="103.3" y="97.5" width="13.9" height="1.6" rx="0.8" fill="#e0a070" opacity=".6"/>
<rect x="108.1" y="97.5" width="7.8" height="0.9" rx="0.5" fill="#b83c3c" opacity=".6"/>
<rect x="369.4" y="98.8" width="8.7" height="1.3" rx="0.6" fill="#8a1c30" opacity=".6"/>
<rect x="221.6" y="98.8" width="21.3" height="0.9" rx="0.4" fill="#8a2a30" opacity=".6"/>
<rect x="358" y="98.8" width="8.6" height="1" rx="0.5" fill="#8a2a30" opacity=".6"/>
<rect x="343.8" y="98.8" width="8.9" height="1.5" rx="0.7" fill="#e0a070" opacity=".6"/>
<rect x="67.2" y="98.8" width="19.6" height="1.5" rx="0.8" fill="#c85a44" opacity=".6"/>
<rect x="75" y="98.8" width="22.3" height="1.2" rx="0.6" fill="#e0a070" opacity=".6"/>
<rect x="479.5" y="98.8" width="10" height="1.1" rx="0.5" fill="#e0a070" opacity=".6"/>
<rect x="102.7" y="98.8" width="20.7" height="1.4" rx="0.7" fill="#f8d8a0" opacity=".6"/>
<rect x="382.7" y="100.1" width="19.2" height="1.2" rx="0.6" fill="#8a2a30" opacity=".6"/>
<rect x="212.3" y="100.1" width="18.5" height="1" rx="0.5" fill="#f0c080" opacity=".6"/>
<rect x="83.4" y="100.1" width="12.6" height="1.6" rx="0.8" fill="#c85a44" opacity=".6"/>
<rect x="407.7" y="100.1" width="17.2" height="1" rx="0.5" fill="#8a2a30" opacity=".6"/>
<rect x="59" y="100.1" width="12.2" height="1.5" rx="0.8" fill="#b83c3c" opacity=".6"/>
<rect x="155.3" y="100.1" width="9.2" height="1.2" rx="0.6" fill="#8a2a30" opacity=".6"/>
<rect x="96.8" y="100.1" width="19.4" height="1.2" rx="0.6" fill="#b83c3c" opacity=".6"/>
<rect x="73.4" y="100.1" width="16.6" height="0.8" rx="0.4" fill="#e0a070" opacity=".6"/>
<rect x="105.9" y="101.4" width="17.8" height="1.6" rx="0.8" fill="#9a2434" opacity=".6"/>
<rect x="58.3" y="101.4" width="22.8" height="1.2" rx="0.6" fill="#b83c3c" opacity=".6"/>
<rect x="349.6" y="101.4" width="9.8" height="0.8" rx="0.4" fill="#8a1c30" opacity=".6"/>
<rect x="436.2" y="101.4" width="7.1" height="1.5" rx="0.7" fill="#f8d8a0" opacity=".6"/>
<rect x="426.4" y="101.4" width="15.3" height="1.5" rx="0.7" fill="#e0a070" opacity=".6"/>
<rect x="375.8" y="101.4" width="15.4" height="1.2" rx="0.6" fill="#e0a070" opacity=".6"/>
<rect x="364.5" y="101.4" width="20.4" height="0.8" rx="0.4" fill="#9a2434" opacity=".6"/>
<rect x="378" y="101.4" width="11.9" height="1.2" rx="0.6" fill="#9a2434" opacity=".6"/>
<rect x="69.2" y="102.7" width="7" height="1.5" rx="0.8" fill="#e0a070" opacity=".6"/>
<rect x="21.5" y="102.7" width="6.5" height="1.2" rx="0.6" fill="#f0c080" opacity=".6"/>
<rect x="357.8" y="102.7" width="15.1" height="1.3" rx="0.6" fill="#e0a070" opacity=".6"/>
<rect x="384.1" y="102.7" width="15.1" height="1.4" rx="0.7" fill="#b83c3c" opacity=".6"/>
<rect x="353.5" y="102.7" width="8.5" height="1.5" rx="0.7" fill="#b83c3c" opacity=".6"/>
<rect x="60.9" y="102.7" width="9.8" height="1.1" rx="0.6" fill="#b83c3c" opacity=".6"/>
<rect x="380.6" y="102.7" width="17.6" height="1.6" rx="0.8" fill="#8a1c30" opacity=".6"/>
<rect x="337.5" y="102.7" width="23.1" height="1" rx="0.5" fill="#b83c3c" opacity=".6"/>
<rect x="356.7" y="104" width="13.8" height="0.9" rx="0.5" fill="#c85a44" opacity=".6"/>
<rect x="355.2" y="104" width="19" height="1.1" rx="0.5" fill="#9a2434" opacity=".6"/>
<rect x="102" y="104" width="15.3" height="1.1" rx="0.6" fill="#b83c3c" opacity=".6"/>
<rect x="61.3" y="104" width="7.9" height="1.6" rx="0.8" fill="#b83c3c" opacity=".6"/>
<rect x="358.6" y="104" width="8.3" height="1" rx="0.5" fill="#e0a070" opacity=".6"/>
<rect x="34.5" y="104" width="16.3" height="1.5" rx="0.8" fill="#a83c34" opacity=".6"/>
<rect x="123.7" y="104" width="9.3" height="1.4" rx="0.7" fill="#a83c34" opacity=".6"/>
<rect x="102.1" y="104" width="20.4" height="1.3" rx="0.7" fill="#9a2434" opacity=".6"/>
<rect x="368.8" y="105.3" width="12.1" height="1.2" rx="0.6" fill="#9a2434" opacity=".6"/>
<rect x="96.2" y="105.3" width="10.3" height="1.2" rx="0.6" fill="#b83c3c" opacity=".6"/>
<rect x="94" y="105.3" width="11.6" height="1" rx="0.5" fill="#e0a070" opacity=".6"/>
<rect x="484.3" y="105.3" width="10.9" height="1.3" rx="0.7" fill="#a83c34" opacity=".6"/>
<rect x="77.6" y="105.3" width="19.2" height="0.8" rx="0.4" fill="#b83c3c" opacity=".6"/>
<rect x="368" y="105.3" width="21" height="1.2" rx="0.6" fill="#b83c3c" opacity=".6"/>
<rect x="109.1" y="106.6" width="12.3" height="1.1" rx="0.6" fill="#c85a44" opacity=".6"/>
<rect x="330.8" y="106.6" width="23.5" height="1.2" rx="0.6" fill="#b83c3c" opacity=".6"/>
<rect x="387.5" y="106.6" width="14" height="0.9" rx="0.5" fill="#e0a070" opacity=".6"/>
<rect x="98.3" y="106.6" width="6.6" height="1.1" rx="0.5" fill="#e0a070" opacity=".6"/>
<rect x="95.7" y="106.6" width="12.9" height="0.8" rx="0.4" fill="#9a2434" opacity=".6"/>
<rect x="83.6" y="106.6" width="20.7" height="0.9" rx="0.4" fill="#c85a44" opacity=".6"/>
<rect x="74.1" y="106.6" width="10.2" height="1" rx="0.5" fill="#e0a070" opacity=".6"/>
<rect x="64.3" y="107.9" width="11.9" height="1.1" rx="0.6" fill="#f8d8a0" opacity=".6"/>
<rect x="433.3" y="107.9" width="6.8" height="1.3" rx="0.7" fill="#8a2a30" opacity=".6"/>
<rect x="59.4" y="107.9" width="20.6" height="1.4" rx="0.7" fill="#e0a070" opacity=".6"/>
<rect x="91.5" y="107.9" width="6.8" height="0.9" rx="0.4" fill="#8a1c30" opacity=".6"/>
<rect x="79.9" y="107.9" width="17.3" height="1.2" rx="0.6" fill="#9a2434" opacity=".6"/>
<rect x="436.2" y="107.9" width="7.3" height="1.2" rx="0.6" fill="#a83c34" opacity=".6"/>
<rect x="92" y="109.2" width="10.8" height="0.9" rx="0.4" fill="#8a2a30" opacity=".6"/>
<rect x="376.5" y="109.2" width="12.9" height="1.2" rx="0.6" fill="#e0a070" opacity=".6"/>
<rect x="349.4" y="109.2" width="9.6" height="1.3" rx="0.7" fill="#c85a44" opacity=".6"/>
<rect x="350.9" y="109.2" width="8.4" height="1.3" rx="0.6" fill="#9a2434" opacity=".6"/>
<rect x="356.9" y="109.2" width="18.2" height="1.4" rx="0.7" fill="#8a1c30" opacity=".6"/>
<rect x="382.8" y="109.2" width="23.9" height="1.4" rx="0.7" fill="#8a1c30" opacity=".6"/>
<rect x="471.1" y="109.2" width="14.3" height="0.8" rx="0.4" fill="#8a2a30" opacity=".6"/>
<rect x="452.5" y="109.2" width="13" height="1.6" rx="0.8" fill="#a83c34" opacity=".6"/>
<rect x="338.6" y="110.5" width="8.6" height="1.3" rx="0.6" fill="#e0a070" opacity=".6"/>
<rect x="380" y="110.5" width="8" height="1" rx="0.5" fill="#8a1c30" opacity=".6"/>
<rect x="343.2" y="110.5" width="19.1" height="1.1" rx="0.6" fill="#c85a44" opacity=".6"/>
<rect x="49.7" y="110.5" width="19.5" height="0.8" rx="0.4" fill="#e0a070" opacity=".6"/>
<rect x="328.1" y="110.5" width="22.2" height="1.4" rx="0.7" fill="#8a1c30" opacity=".6"/>
<rect x="368.1" y="110.5" width="16.6" height="1.6" rx="0.8" fill="#9a2434" opacity=".6"/>
<rect x="321.9" y="111.8" width="23.5" height="0.9" rx="0.5" fill="#b82230" opacity=".6"/>
<rect x="361.8" y="111.8" width="13.7" height="1.4" rx="0.7" fill="#f0b070" opacity=".6"/>
<rect x="336.8" y="111.8" width="19" height="1.2" rx="0.6" fill="#d83024" opacity=".6"/>
<rect x="117.7" y="111.8" width="11.2" height="1.3" rx="0.7" fill="#e86a40" opacity=".6"/>
<rect x="475.2" y="111.8" width="11.4" height="1.1" rx="0.5" fill="#c08058" opacity=".6"/>
<rect x="325.2" y="111.8" width="10.3" height="1.1" rx="0.6" fill="#f4c880" opacity=".6"/>
<rect x="332.3" y="113.1" width="9.5" height="0.9" rx="0.5" fill="#b82230" opacity=".6"/>
<rect x="105.3" y="113.1" width="10.7" height="1" rx="0.5" fill="#e86a40" opacity=".6"/>
<rect x="318.1" y="113.1" width="19.4" height="1.1" rx="0.6" fill="#c81e24" opacity=".6"/>
<rect x="130.5" y="113.1" width="16.3" height="1.2" rx="0.6" fill="#d83024" opacity=".6"/>
<rect x="340.7" y="113.1" width="17.6" height="1.1" rx="0.6" fill="#c81e24" opacity=".6"/>
<rect x="389.7" y="113.1" width="13.7" height="0.9" rx="0.5" fill="#fae6b4" opacity=".6"/>
<rect x="400.3" y="113.1" width="13" height="0.8" rx="0.4" fill="#fae6b4" opacity=".6"/>
<rect x="130.9" y="113.1" width="10.5" height="1.6" rx="0.8" fill="#f4c880" opacity=".6"/>
<rect x="410.7" y="114.4" width="20.9" height="0.9" rx="0.4" fill="#fae6b4" opacity=".6"/>
<rect x="132.4" y="114.4" width="20" height="0.9" rx="0.4" fill="#c81e24" opacity=".6"/>
<rect x="319.6" y="114.4" width="11.5" height="1.3" rx="0.7" fill="#e86a40" opacity=".6"/>
<rect x="132.4" y="114.4" width="8" height="1.4" rx="0.7" fill="#d83024" opacity=".6"/>
<rect x="312.8" y="114.4" width="6" height="1.4" rx="0.7" fill="#b82230" opacity=".6"/>
<rect x="119.3" y="114.4" width="21.9" height="1.3" rx="0.7" fill="#c81e24" opacity=".6"/>
<rect x="134.5" y="114.4" width="18.7" height="1.6" rx="0.8" fill="#f4c880" opacity=".6"/>
<rect x="336.9" y="114.4" width="7.5" height="1.3" rx="0.7" fill="#d83024" opacity=".6"/>
<rect x="143.5" y="115.7" width="6.1" height="1.1" rx="0.6" fill="#d83024" opacity=".6"/>
<rect x="134" y="115.7" width="20.8" height="1" rx="0.5" fill="#b82230" opacity=".6"/>
<rect x="127.6" y="115.7" width="17.2" height="0.9" rx="0.4" fill="#f4c880" opacity=".6"/>
<rect x="17" y="115.7" width="16.7" height="0.8" rx="0.4" fill="#fff4d4" opacity=".6"/>
<rect x="143.1" y="115.7" width="8.6" height="1.6" rx="0.8" fill="#e86a40" opacity=".6"/>
<rect x="485.8" y="115.7" width="21.9" height="1.5" rx="0.8" fill="#d8a060" opacity=".6"/>
<rect x="360.9" y="115.7" width="9.3" height="1.1" rx="0.5" fill="#fff4d4" opacity=".6"/>
<rect x="479.5" y="117" width="19.1" height="1" rx="0.5" fill="#fae6b4" opacity=".6"/>
<rect x="313.6" y="117" width="6.1" height="0.9" rx="0.5" fill="#c81e24" opacity=".6"/>
<rect x="321.2" y="117" width="19.7" height="1.2" rx="0.6" fill="#e86a40" opacity=".6"/>
<rect x="299.1" y="117" width="18.7" height="0.9" rx="0.4" fill="#b82230" opacity=".6"/>
<rect x="120.7" y="117" width="14.5" height="1.4" rx="0.7" fill="#e86a40" opacity=".6"/>
<rect x="144.7" y="117" width="6.6" height="0.8" rx="0.4" fill="#f4c880" opacity=".6"/>
<rect x="327.5" y="117" width="16.9" height="0.9" rx="0.4" fill="#f0b070" opacity=".6"/>
<rect x="449.3" y="117" width="19.4" height="0.8" rx="0.4" fill="#c08058" opacity=".6"/>
<rect x="305.1" y="118.3" width="19.6" height="0.8" rx="0.4" fill="#fff4d4" opacity=".6"/>
<rect x="327.7" y="118.3" width="10.2" height="0.8" rx="0.4" fill="#e86a40" opacity=".6"/>
<rect x="56" y="118.3" width="22.4" height="1.4" rx="0.7" fill="#fae6b4" opacity=".6"/>
<rect x="398.9" y="118.3" width="20.4" height="0.9" rx="0.5" fill="#d8a060" opacity=".6"/>
<rect x="320.9" y="118.3" width="11.9" height="1.3" rx="0.6" fill="#f0b070" opacity=".6"/>
<rect x="112.9" y="118.3" width="9.6" height="0.9" rx="0.4" fill="#fff4d4" opacity=".6"/>
<rect x="118.9" y="118.3" width="14.7" height="1.3" rx="0.7" fill="#c81e24" opacity=".6"/>
<rect x="140.3" y="118.3" width="10.8" height="1.6" rx="0.8" fill="#f4c880" opacity=".6"/>
<rect x="313.9" y="119.6" width="9.1" height="1.6" rx="0.8" fill="#f4c880" opacity=".6"/>
<rect x="367.5" y="119.6" width="15.7" height="1" rx="0.5" fill="#c08058" opacity=".6"/>
<rect x="296.2" y="119.6" width="16.2" height="1" rx="0.5" fill="#d83024" opacity=".6"/>
<rect x="147.4" y="119.6" width="10.2" height="0.9" rx="0.5" fill="#e86a40" opacity=".6"/>
<rect x="136.3" y="119.6" width="10.4" height="1" rx="0.5" fill="#c81e24" opacity=".6"/>
<rect x="407.8" y="119.6" width="14.5" height="0.9" rx="0.4" fill="#c08058" opacity=".6"/>
<rect x="137.6" y="119.6" width="11.3" height="0.8" rx="0.4" fill="#f0b070" opacity=".6"/>
<rect x="144.7" y="119.6" width="7.4" height="1" rx="0.5" fill="#b82230" opacity=".6"/>
<rect x="293.6" y="120.9" width="18" height="1.4" rx="0.7" fill="#b82230" opacity=".6"/>
<rect x="9" y="120.9" width="6.8" height="1.1" rx="0.5" fill="#d8a060" opacity=".6"/>
<rect x="291.2" y="120.9" width="20.7" height="1.5" rx="0.7" fill="#b82230" opacity=".6"/>
<rect x="294.4" y="120.9" width="6.6" height="0.9" rx="0.4" fill="#c81e24" opacity=".6"/>
<rect x="136.6" y="120.9" width="18" height="1.4" rx="0.7" fill="#e86a40" opacity=".6"/>
<rect x="302.4" y="120.9" width="13.4" height="1.4" rx="0.7" fill="#c81e24" opacity=".6"/>
<rect x="288.1" y="120.9" width="16.2" height="1" rx="0.5" fill="#b82230" opacity=".6"/>
<rect x="146.1" y="120.9" width="13" height="1.3" rx="0.7" fill="#d83024" opacity=".6"/>
<rect x="297.4" y="122.2" width="20.8" height="1.1" rx="0.6" fill="#d83024" opacity=".6"/>
<rect x="292.8" y="122.2" width="6.9" height="0.9" rx="0.5" fill="#f0b070" opacity=".6"/>
<rect x="292.6" y="122.2" width="19.3" height="1.5" rx="0.8" fill="#f0b070" opacity=".6"/>
<rect x="156.9" y="122.2" width="7.2" height="0.9" rx="0.5" fill="#c81e24" opacity=".6"/>
<rect x="288.8" y="122.2" width="14.7" height="1.6" rx="0.8" fill="#f4c880" opacity=".6"/>
<rect x="140.3" y="122.2" width="20.8" height="1.3" rx="0.6" fill="#f0b070" opacity=".6"/>
<rect x="158.1" y="122.2" width="20.9" height="1.5" rx="0.7" fill="#f0b070" opacity=".6"/>
<rect x="162.4" y="122.2" width="12.5" height="0.9" rx="0.5" fill="#f0b070" opacity=".6"/>
<rect x="151.1" y="123.5" width="18.1" height="1.5" rx="0.7" fill="#b89060" opacity=".6"/>
<rect x="302.6" y="123.5" width="15.9" height="1.3" rx="0.6" fill="#b82230" opacity=".6"/>
<rect x="301.9" y="123.5" width="6.4" height="1.2" rx="0.6" fill="#e86a40" opacity=".6"/>
<rect x="139.2" y="123.5" width="20" height="1.4" rx="0.7" fill="#e86a40" opacity=".6"/>
<rect x="145.4" y="123.5" width="8.3" height="0.9" rx="0.4" fill="#f0b070" opacity=".6"/>
<rect x="142.6" y="123.5" width="6.7" height="1.2" rx="0.6" fill="#b82230" opacity=".6"/>
<rect x="303" y="123.5" width="15.2" height="1.4" rx="0.7" fill="#d83024" opacity=".6"/>
<rect x="167.6" y="124.8" width="7.2" height="0.8" rx="0.4" fill="#e86a40" opacity=".6"/>
<rect x="331" y="124.8" width="20.6" height="1" rx="0.5" fill="#d8a050" opacity=".6"/>
<rect x="68.9" y="124.8" width="12.3" height="0.9" rx="0.4" fill="#f0c068" opacity=".6"/>
<rect x="287.8" y="124.8" width="14.2" height="1.5" rx="0.8" fill="#b82230" opacity=".6"/>
<rect x="166.4" y="124.8" width="10.3" height="1.3" rx="0.6" fill="#d83024" opacity=".6"/>
<rect x="288.3" y="124.8" width="11" height="1.3" rx="0.7" fill="#b82230" opacity=".6"/>
<rect x="308.5" y="124.8" width="15.6" height="0.9" rx="0.4" fill="#e86a40" opacity=".6"/>
<rect x="42" y="124.8" width="16.4" height="1.2" rx="0.6" fill="#b89060" opacity=".6"/>
<rect x="295.8" y="126.1" width="12.7" height="1.4" rx="0.7" fill="#b82230" opacity=".6"/>
<rect x="168.5" y="126.1" width="7.5" height="1.1" rx="0.5" fill="#f0b070" opacity=".6"/>
<rect x="168.4" y="126.1" width="11.6" height="1.3" rx="0.7" fill="#b82230" opacity=".6"/>
<rect x="169.7" y="126.1" width="13.8" height="1.3" rx="0.6" fill="#d83024" opacity=".6"/>
<rect x="291.4" y="126.1" width="6.8" height="1.3" rx="0.6" fill="#f0b070" opacity=".6"/>
<rect x="169.7" y="126.1" width="10" height="1.1" rx="0.5" fill="#f0b070" opacity=".6"/>
<rect x="156.9" y="126.1" width="8.9" height="1.5" rx="0.7" fill="#e86a40" opacity=".6"/>
<rect x="378.7" y="127.4" width="17.5" height="0.9" rx="0.4" fill="#b89060" opacity=".6"/>
<rect x="287.5" y="127.4" width="23.4" height="1.4" rx="0.7" fill="#f0b070" opacity=".6"/>
<rect x="113.5" y="127.4" width="22.9" height="1.2" rx="0.6" fill="#fbe8b4" opacity=".6"/>
<rect x="172" y="127.4" width="15.6" height="0.8" rx="0.4" fill="#c81e24" opacity=".6"/>
<rect x="60.7" y="127.4" width="15.9" height="0.8" rx="0.4" fill="#d8a050" opacity=".6"/>
<rect x="295.9" y="127.4" width="17.6" height="1.2" rx="0.6" fill="#d83024" opacity=".6"/>
<rect x="298.7" y="127.4" width="7.1" height="1.2" rx="0.6" fill="#c81e24" opacity=".6"/>
<rect x="30" y="127.4" width="13.9" height="1.1" rx="0.6" fill="#b89060" opacity=".6"/>
<rect x="172.7" y="128.7" width="23.9" height="0.9" rx="0.5" fill="#f4c880" opacity=".6"/>
<rect x="169.8" y="128.7" width="23" height="1.5" rx="0.8" fill="#f0b070" opacity=".6"/>
<rect x="473" y="128.7" width="18.3" height="1.3" rx="0.7" fill="#f0c068" opacity=".6"/>
<rect x="171.9" y="128.7" width="23.4" height="1.3" rx="0.7" fill="#d83024" opacity=".6"/>
<rect x="281.4" y="128.7" width="9.6" height="1.5" rx="0.7" fill="#e86a40" opacity=".6"/>
<rect x="303.5" y="128.7" width="10.3" height="1.1" rx="0.5" fill="#b89060" opacity=".6"/>
<rect x="169.5" y="128.7" width="15.6" height="1.2" rx="0.6" fill="#f4c880" opacity=".6"/>
<rect x="182.8" y="130" width="16.2" height="1.3" rx="0.6" fill="#c81e24" opacity=".6"/>
<rect x="338.3" y="130" width="8.9" height="1.3" rx="0.6" fill="#fbe8b4" opacity=".6"/>
<rect x="166.1" y="130" width="18.5" height="0.8" rx="0.4" fill="#c81e24" opacity=".6"/>
<rect x="162.4" y="130" width="19.7" height="1.5" rx="0.7" fill="#f4c880" opacity=".6"/>
<rect x="186.8" y="130" width="7.9" height="1.6" rx="0.8" fill="#f4c880" opacity=".6"/>
<rect x="271.4" y="130" width="19.5" height="0.9" rx="0.4" fill="#c81e24" opacity=".6"/>
<rect x="279.4" y="130" width="17.6" height="1.4" rx="0.7" fill="#c81e24" opacity=".6"/>
<rect x="287.5" y="130" width="22.7" height="1.1" rx="0.5" fill="#f0b070" opacity=".6"/>
<rect x="169" y="131.3" width="21.3" height="1.2" rx="0.6" fill="#c81e24" opacity=".6"/>
<rect x="174.8" y="131.3" width="19.9" height="1.1" rx="0.6" fill="#d83024" opacity=".6"/>
<rect x="269" y="131.3" width="20.9" height="1.4" rx="0.7" fill="#c81e24" opacity=".6"/>
<rect x="16.8" y="131.3" width="11.2" height="1.2" rx="0.6" fill="#f0c068" opacity=".6"/>
<rect x="81.7" y="131.3" width="14.8" height="1.2" rx="0.6" fill="#b89060" opacity=".6"/>
<rect x="178.2" y="131.3" width="23.2" height="1.3" rx="0.6" fill="#d83024" opacity=".6"/>
<rect x="180.6" y="131.3" width="10.2" height="1.6" rx="0.8" fill="#f4c880" opacity=".6"/>
<rect x="183.5" y="131.3" width="7.9" height="1.2" rx="0.6" fill="#e86a40" opacity=".6"/>
<rect x="183.4" y="132.6" width="19.4" height="1.5" rx="0.8" fill="#b82230" opacity=".6"/>
<rect x="279.7" y="132.6" width="22.2" height="1" rx="0.5" fill="#f4c880" opacity=".6"/>
<rect x="186.3" y="132.6" width="14.3" height="1" rx="0.5" fill="#b82230" opacity=".6"/>
<rect x="265.2" y="132.6" width="21.6" height="1.2" rx="0.6" fill="#e86a40" opacity=".6"/>
<rect x="276" y="132.6" width="10.6" height="1.4" rx="0.7" fill="#f4c880" opacity=".6"/>
<rect x="181.9" y="132.6" width="9.4" height="1" rx="0.5" fill="#d83024" opacity=".6"/>
<rect x="185.4" y="132.6" width="16.9" height="1.4" rx="0.7" fill="#d83024" opacity=".6"/>
<rect x="71.8" y="132.6" width="23.2" height="1" rx="0.5" fill="#fbe8b4" opacity=".6"/>
<rect x="277" y="133.9" width="8.7" height="1" rx="0.5" fill="#e86a40" opacity=".6"/>
<rect x="129.6" y="133.9" width="8" height="1" rx="0.5" fill="#b89060" opacity=".6"/>
<rect x="190.3" y="133.9" width="23.7" height="1" rx="0.5" fill="#f0b070" opacity=".6"/>
<rect x="277.8" y="133.9" width="6.1" height="1.4" rx="0.7" fill="#f0b070" opacity=".6"/>
<rect x="186.6" y="133.9" width="13.6" height="1.4" rx="0.7" fill="#f4c880" opacity=".6"/>
<rect x="183" y="133.9" width="13.8" height="0.9" rx="0.4" fill="#d83024" opacity=".6"/>
<rect x="273.9" y="133.9" width="18.8" height="1.4" rx="0.7" fill="#e86a40" opacity=".6"/>
<rect x="188.2" y="135.2" width="17.2" height="1.2" rx="0.6" fill="#b82230" opacity=".6"/>
<rect x="202.3" y="135.2" width="13" height="1.4" rx="0.7" fill="#f0b070" opacity=".6"/>
<rect x="89.3" y="135.2" width="18.9" height="1" rx="0.5" fill="#f0c068" opacity=".6"/>
<rect x="264.7" y="135.2" width="16.3" height="0.9" rx="0.4" fill="#f4c880" opacity=".6"/>
<rect x="262.3" y="135.2" width="12.7" height="1.4" rx="0.7" fill="#f4c880" opacity=".6"/>
<rect x="352.4" y="135.2" width="15.2" height="0.9" rx="0.5" fill="#f0c068" opacity=".6"/>
<rect x="203.9" y="135.2" width="10.5" height="1.3" rx="0.7" fill="#e86a40" opacity=".6"/>
<rect x="278.3" y="135.2" width="17.3" height="1.5" rx="0.8" fill="#fbe8b4" opacity=".6"/>
<rect x="202.7" y="136.5" width="20.4" height="1" rx="0.5" fill="#c81e24" opacity=".6"/>
<rect x="196.6" y="136.5" width="17.4" height="1.4" rx="0.7" fill="#d83024" opacity=".6"/>
<rect x="395.6" y="136.5" width="17.5" height="1.1" rx="0.5" fill="#b89060" opacity=".6"/>
<rect x="255.7" y="136.5" width="19.7" height="1.6" rx="0.8" fill="#d83024" opacity=".6"/>
<rect x="262.9" y="136.5" width="12.8" height="1" rx="0.5" fill="#e86a40" opacity=".6"/>
<rect x="197.7" y="136.5" width="19" height="0.8" rx="0.4" fill="#b82230" opacity=".6"/>
<rect x="256.3" y="136.5" width="13.7" height="1.2" rx="0.6" fill="#b82230" opacity=".6"/>
<rect x="440.2" y="137.8" width="7" height="1.5" rx="0.7" fill="#d8a050" opacity=".6"/>
<rect x="213.1" y="137.8" width="12.2" height="1.2" rx="0.6" fill="#c81e24" opacity=".6"/>
<rect x="208.3" y="137.8" width="10.5" height="1.3" rx="0.7" fill="#d83024" opacity=".6"/>
<rect x="257.2" y="137.8" width="12.2" height="1.4" rx="0.7" fill="#d83024" opacity=".6"/>
<rect x="34.9" y="137.8" width="18.4" height="1.3" rx="0.6" fill="#f0c068" opacity=".6"/>
<rect x="253" y="137.8" width="18.5" height="1" rx="0.5" fill="#c81e24" opacity=".6"/>
<rect x="211.5" y="137.8" width="10.8" height="1.2" rx="0.6" fill="#f0b070" opacity=".6"/>
<rect x="251.3" y="137.8" width="14.4" height="0.8" rx="0.4" fill="#d83024" opacity=".6"/>
<rect x="241.3" y="139.1" width="21.5" height="1.2" rx="0.6" fill="#f0b070" opacity=".6"/>
<rect x="246.1" y="139.1" width="11.3" height="1.2" rx="0.6" fill="#f4c880" opacity=".6"/>
<rect x="220.1" y="139.1" width="17.5" height="0.9" rx="0.4" fill="#c81e24" opacity=".6"/>
<rect x="215" y="139.1" width="22.8" height="1.3" rx="0.7" fill="#e86a40" opacity=".6"/>
<rect x="248.5" y="139.1" width="8.6" height="1.4" rx="0.7" fill="#b82230" opacity=".6"/>
<rect x="218.6" y="139.1" width="17.9" height="0.9" rx="0.4" fill="#b82230" opacity=".6"/>
<rect x="135.6" y="139.1" width="16" height="1.1" rx="0.6" fill="#b89060" opacity=".6"/>
<rect x="247.1" y="139.1" width="15.1" height="1.1" rx="0.6" fill="#f4c880" opacity=".6"/>
<rect x="85.6" y="140.4" width="8.1" height="1.2" rx="0.6" fill="#f0c068" opacity=".6"/>
<rect x="33.5" y="140.4" width="23.5" height="0.9" rx="0.5" fill="#fbe8b4" opacity=".6"/>
<rect x="191.8" y="140.4" width="16" height="1.1" rx="0.6" fill="#fbe8b4" opacity=".6"/>
<rect x="13.1" y="140.4" width="8" height="1.1" rx="0.6" fill="#b89060" opacity=".6"/>
<rect x="382.1" y="140.4" width="17.8" height="1.3" rx="0.6" fill="#b89060" opacity=".6"/>
<rect x="336.1" y="140.4" width="17.3" height="1.3" rx="0.6" fill="#fbe8b4" opacity=".6"/>
<rect x="217.6" y="140.4" width="18" height="1" rx="0.5" fill="#d8a050" opacity=".6"/>
<rect x="8.4" y="140.4" width="9.3" height="0.9" rx="0.4" fill="#fbe8b4" opacity=".6"/>
<rect x="173.3" y="141.7" width="17.8" height="1.5" rx="0.8" fill="#d8a050" opacity=".6"/>
<rect x="118.2" y="141.7" width="16.1" height="1.4" rx="0.7" fill="#f0c068" opacity=".6"/>
<rect x="0.1" y="141.7" width="6.6" height="0.9" rx="0.5" fill="#fbe8b4" opacity=".6"/>
<rect x="399.9" y="141.7" width="15.4" height="1.2" rx="0.6" fill="#b89060" opacity=".6"/>
<rect x="211.9" y="141.7" width="22.5" height="1.3" rx="0.6" fill="#fbe8b4" opacity=".6"/>
<rect x="483.6" y="141.7" width="16.7" height="1.3" rx="0.7" fill="#d8a050" opacity=".6"/>
<rect x="40.7" y="141.7" width="13.4" height="1.2" rx="0.6" fill="#b89060" opacity=".6"/>
<rect x="-2.3" y="141.7" width="8.7" height="1" rx="0.5" fill="#fbe8b4" opacity=".6"/>
<rect x="480.4" y="143" width="18" height="0.8" rx="0.4" fill="#fbe8b4" opacity=".6"/>
<rect x="224.7" y="143" width="8.2" height="1" rx="0.5" fill="#f0c068" opacity=".6"/>
<rect x="354.6" y="143" width="10.4" height="1.4" rx="0.7" fill="#d8a050" opacity=".6"/>
<rect x="361.4" y="143" width="12.6" height="1.5" rx="0.8" fill="#d8a050" opacity=".6"/>
<rect x="302.4" y="143" width="7.5" height="1.4" rx="0.7" fill="#b89060" opacity=".6"/>
<rect x="116.3" y="143" width="22.8" height="1.2" rx="0.6" fill="#fbe8b4" opacity=".6"/>
<rect x="-2.7" y="143" width="6.2" height="1.4" rx="0.7" fill="#fbe8b4" opacity=".6"/>
<rect x="288.3" y="143" width="11.6" height="1.1" rx="0.6" fill="#b89060" opacity=".6"/>
<rect x="461.5" y="144.3" width="11.7" height="1.3" rx="0.6" fill="#b89060" opacity=".6"/>
<rect x="470.3" y="144.3" width="9" height="1.2" rx="0.6" fill="#fbe8b4" opacity=".6"/>
<rect x="303" y="144.3" width="17.6" height="1.1" rx="0.5" fill="#b89060" opacity=".6"/>
<rect x="215" y="144.3" width="20" height="1.2" rx="0.6" fill="#f0c068" opacity=".6"/>
<rect x="135.3" y="144.3" width="16.2" height="1.4" rx="0.7" fill="#fbe8b4" opacity=".6"/>
<rect x="388.6" y="144.3" width="17.7" height="1.3" rx="0.6" fill="#f0c068" opacity=".6"/>
<rect x="-2.3" y="144.3" width="19.1" height="1.5" rx="0.7" fill="#d8a050" opacity=".6"/>
<rect x="203" y="144.3" width="11.6" height="1.3" rx="0.6" fill="#d8a050" opacity=".6"/>
<rect x="289.1" y="145.6" width="18.3" height="1.1" rx="0.6" fill="#d8a050" opacity=".6"/>
<rect x="-9.2" y="145.6" width="11.1" height="1.4" rx="0.7" fill="#f0c068" opacity=".6"/>
<rect x="447.5" y="145.6" width="8.8" height="1" rx="0.5" fill="#fbe8b4" opacity=".6"/>
<rect x="432.6" y="145.6" width="8.5" height="1" rx="0.5" fill="#d8a050" opacity=".6"/>
<rect x="391.1" y="145.6" width="21.3" height="1" rx="0.5" fill="#b89060" opacity=".6"/>
<rect x="265.2" y="145.6" width="7.5" height="1.1" rx="0.5" fill="#b89060" opacity=".6"/>
<rect x="453.1" y="145.6" width="19.5" height="1" rx="0.5" fill="#d8a050" opacity=".6"/>
<rect x="186.6" y="145.6" width="7" height="1" rx="0.5" fill="#d8a050" opacity=".6"/>
<rect x="240.9" y="135.6" width="4.1" height="0.9" rx="0.5" fill="#e83a28" opacity=".55"/>
<rect x="299.4" y="108.8" width="11.7" height="0.9" rx="0.4" fill="#f06a38" opacity=".55"/>
<rect x="192.8" y="122.7" width="12.3" height="0.9" rx="0.5" fill="#a81830" opacity=".55"/>
<rect x="190.7" y="124.9" width="5.9" height="1.2" rx="0.6" fill="#f06a38" opacity=".55"/>
<rect x="238" y="115.3" width="7.6" height="0.8" rx="0.4" fill="#f06a38" opacity=".55"/>
<rect x="230.9" y="135.5" width="12.7" height="1" rx="0.5" fill="#a81830" opacity=".55"/>
<rect x="199.4" y="131.2" width="10" height="0.8" rx="0.4" fill="#a81830" opacity=".55"/>
<rect x="180" y="125.4" width="6" height="1" rx="0.5" fill="#e83a28" opacity=".55"/>
<rect x="308.5" y="112.8" width="6.8" height="1.3" rx="0.6" fill="#e8502c" opacity=".55"/>
<rect x="259" y="130.6" width="13.6" height="1.2" rx="0.6" fill="#a81830" opacity=".55"/>
<rect x="306" y="116.8" width="7.8" height="0.6" rx="0.3" fill="#e8502c" opacity=".55"/>
<rect x="276.8" y="123.8" width="8.6" height="1.2" rx="0.6" fill="#e8502c" opacity=".55"/>
<rect x="277.9" y="126.5" width="11.1" height="0.8" rx="0.4" fill="#e8502c" opacity=".55"/>
<rect x="244.1" y="124.1" width="13.6" height="0.7" rx="0.4" fill="#e83a28" opacity=".55"/>
<rect x="223.4" y="133.2" width="6.4" height="0.7" rx="0.4" fill="#f06a38" opacity=".55"/>
<rect x="260.2" y="136.1" width="4.6" height="1.2" rx="0.6" fill="#e8502c" opacity=".55"/>
<rect x="294.6" y="107.5" width="11.1" height="0.6" rx="0.3" fill="#e83a28" opacity=".55"/>
<rect x="282.4" y="110.6" width="13.4" height="1" rx="0.5" fill="#a81830" opacity=".55"/>
<rect x="249.1" y="120.1" width="8.7" height="0.8" rx="0.4" fill="#a81830" opacity=".55"/>
<rect x="220.4" y="110" width="5.7" height="1.2" rx="0.6" fill="#f06a38" opacity=".55"/>
<rect x="257.9" y="135.3" width="8.7" height="1.2" rx="0.6" fill="#f06a38" opacity=".55"/>
<rect x="302.9" y="111" width="4.8" height="1.2" rx="0.6" fill="#a81830" opacity=".55"/>
<rect x="212.7" y="110.5" width="5" height="1.2" rx="0.6" fill="#e83a28" opacity=".55"/>
<rect x="224" y="126.1" width="7.4" height="0.9" rx="0.5" fill="#f06a38" opacity=".55"/>
<rect x="187.5" y="126.1" width="6.2" height="0.7" rx="0.4" fill="#e8502c" opacity=".55"/>
<rect x="284" y="120.4" width="8.4" height="0.8" rx="0.4" fill="#f06a38" opacity=".55"/>
<rect x="174.4" y="119.2" width="6.7" height="0.8" rx="0.4" fill="#a81830" opacity=".55"/>
<rect x="222.4" y="111.4" width="7.2" height="0.7" rx="0.3" fill="#e83a28" opacity=".55"/>
<rect x="212.2" y="137.3" width="13" height="1" rx="0.5" fill="#f06a38" opacity=".55"/>
<rect x="199.7" y="132.7" width="11.5" height="0.9" rx="0.5" fill="#a81830" opacity=".55"/>
<rect x="179.7" y="114.4" width="6.4" height="0.8" rx="0.4" fill="#e83a28" opacity=".55"/>
<rect x="201.8" y="134.7" width="11.3" height="0.7" rx="0.4" fill="#a81830" opacity=".55"/>
<rect x="222.2" y="126.5" width="9.1" height="0.9" rx="0.5" fill="#f06a38" opacity=".55"/>
<rect x="272.6" y="131.3" width="6.9" height="0.9" rx="0.5" fill="#a81830" opacity=".55"/>
<path d="M-5,144 q14.2,-0.5 28.4,0 q11.1,-0.7 22.3,0 q7.6,0.5 15.2,0 q12.4,-0.5 24.8,0 q6.7,-0.7 13.4,0 q11.5,-0 23,0 q8.5,-0.5 16.9,0 q11.5,0.4 23,0 q13.3,0.1 26.6,0 q7.8,-0.8 15.6,0 q12.6,-0.2 25.2,0 q12.5,-0.8 25,0 q13.3,-0.3 26.6,0 q13.6,0.7 27.2,0 q10.4,-0.9 20.9,0 q14.2,-0 28.4,0 q13.8,-0.4 27.7,0 q7.7,0.6 15.3,0 q9.3,-0.6 18.6,0 q9.3,0.2 18.7,0 q6,0 12.1,0 q10,0 20,0 q7.1,0.4 14.2,0 q13.3,0.7 26.7,0" stroke="#a09070" stroke-width="0.9" fill="none" opacity="0.5"/>
<path d="M-5,146 q8.9,0.4 17.8,0 q9.4,0.5 18.9,0 q6.6,0.7 13.1,0 q14.6,-0 29.2,0 q10.6,0.1 21.2,0 q10.8,-0.9 21.7,0 q14.7,-0.5 29.4,0 q7.6,-0.7 15.3,0 q8.3,0.6 16.5,0 q6.3,-0.7 12.5,0 q12.3,-0.5 24.6,0 q6.2,0.2 12.3,0 q11.2,0 22.4,0 q12.3,-0.7 24.6,0 q13.8,0.4 27.7,0 q6.4,-0.7 12.8,0 q10.4,0 20.9,0 q8.5,-0.7 17,0 q9.7,-0.7 19.3,0 q11.3,0.6 22.7,0 q7.3,0.1 14.6,0 q12.7,-0.6 25.4,0 q13.4,0.8 26.9,0 q9.5,-0.1 19,0 q13.6,0 27.1,0" stroke="#fff8e0" stroke-width="1.2" fill="none" opacity="0.5"/>
<path d="M-5,147.6 q9.6,0.8 19.1,0 q13,-0.3 26,0 q8.2,-0.3 16.3,0 q9.9,0.9 19.8,0 q13.2,0.7 26.5,0 q13.3,0.6 26.7,0 q6.5,0 13,0 q14.6,0.8 29.2,0 q8.2,-0.1 16.5,0 q11.7,-0.2 23.4,0 q10.8,-0.8 21.6,0 q9.9,0 19.8,0 q6.2,-0.6 12.4,0 q14.7,0.5 29.5,0 q14.4,0.2 28.9,0 q13.3,0.7 26.6,0 q14,-0.8 27.9,0 q11.8,-0.4 23.5,0 q12.1,-0.4 24.2,0 q10.9,0.8 21.8,0 q11.6,-0.4 23.2,0 q10.7,-0.1 21.4,0" stroke="#a89478" stroke-width="0.9" fill="none" opacity="0.5"/>
<path d="M-5,150.6 q14.6,-0.4 29.1,0 q8.7,0.3 17.5,0 q7.1,0.2 14.2,0 q14.6,0 29.2,0 q8.4,-0.1 16.8,0 q10.8,-0.6 21.6,0 q7.1,-0.7 14.2,0 q8.6,-0.2 17.3,0 q8.6,-0.5 17.2,0 q6.8,0.1 13.6,0 q13.6,0.2 27.1,0 q11.1,0.3 22.3,0 q7.8,0.4 15.6,0 q10.1,0.1 20.3,0 q11.5,-0.1 23,0 q8.8,-0.5 17.6,0 q8,0 16,0 q9.4,0.2 18.9,0 q6.1,-0.3 12.2,0 q13.8,-0.5 27.5,0 q11,-0 22,0 q8.6,0.9 17.1,0 q8.7,0.5 17.3,0 q7.4,-0.8 14.9,0 q13.8,-0.1 27.7,0 q6.6,-0.2 13.1,0" stroke="#b0a0a0" stroke-width="0.9" fill="none" opacity="0.55"/>
<path d="M-5,153 q10,0.4 19.9,0 q7,-0.5 14,0 q14.6,0.4 29.3,0 q7.4,-0.3 14.8,0 q9.2,0.3 18.3,0 q11.5,0.6 23.1,0 q13.4,0 26.8,0 q12.6,0.4 25.3,0 q12.8,-0 25.7,0 q13.1,0.4 26.1,0 q14.2,-0.7 28.5,0 q13.8,-0.9 27.7,0 q12.9,0.2 25.8,0 q10.5,0.8 21,0 q11.1,-0.1 22.3,0 q13.1,0.7 26.1,0 q11.5,-0.2 22.9,0 q10.1,-0.1 20.1,0 q12.5,-0.4 25,0 q9.5,0.1 19,0 q9.5,-0.3 18.9,0 q13.1,0.6 26.2,0" stroke="#c8a0b8" stroke-width="1" fill="none" opacity="0.6"/>
<path d="M-5,154.6 q10.5,-0.1 21,0 q7.7,-0.4 15.3,0 q7.3,0.1 14.6,0 q11.2,-0.7 22.5,0 q14.3,-0.3 28.6,0 q13.6,0.6 27.2,0 q14.6,-0.5 29.3,0 q9.8,0.7 19.7,0 q6.1,-0.8 12.2,0 q11.1,-0 22.2,0 q14.3,0.5 28.6,0 q10.8,0.9 21.7,0 q10.7,0 21.3,0 q12.2,-0.2 24.3,0 q9.2,0.2 18.4,0 q9.2,0.8 18.3,0 q12.1,0 24.2,0 q6.9,-0.2 13.8,0 q9.6,0.1 19.2,0 q11.2,0.7 22.3,0 q14.7,-0 29.4,0 q10,0.2 19.9,0 q15,-0.3 29.9,0" stroke="#f8dcec" stroke-width="1.2" fill="none" opacity="0.6"/>
<path d="M-5,156.3 q10.8,0.6 21.5,0 q7.5,-0.3 15.1,0 q14.8,0.6 29.6,0 q10.6,-0.7 21.2,0 q14.1,0.3 28.1,0 q13.4,0.9 26.8,0 q14,-0.1 28,0 q7.4,-0.4 14.8,0 q10.6,0 21.2,0 q7.7,-0.6 15.4,0 q11.7,0.2 23.3,0 q9.2,0.9 18.4,0 q11.7,-0.8 23.5,0 q9.7,0.5 19.4,0 q8.8,0.3 17.5,0 q6,-0.4 12.1,0 q13.6,0.2 27.2,0 q12,-0.5 24,0 q10.5,0.1 21,0 q8.4,0.3 16.8,0 q10.8,0.9 21.6,0 q11.2,-0.2 22.3,0 q7.1,-0.6 14.2,0 q12.8,-0.7 25.7,0" stroke="#8a6080" stroke-width="1.1" fill="none" opacity="0.8"/>
<path d="M-5,158.1 q6.9,-0.6 13.8,0 q10.7,0.6 21.4,0 q11.5,0.6 23,0 q6.6,-0.9 13.1,0 q12.9,-0.3 25.9,0 q12.4,-0.3 24.9,0 q7.5,-0.4 15,0 q6.9,0.7 13.8,0 q11.2,-0.3 22.5,0 q10,-0.2 20.1,0 q6.5,0.7 13,0 q11.2,0.8 22.5,0 q10,0.2 19.9,0 q8.2,-0.8 16.5,0 q14.4,0.6 28.8,0 q8.8,0.7 17.7,0 q13.3,-0.4 26.7,0 q11.4,0.8 22.8,0 q10.5,0.8 20.9,0 q8.2,-0.2 16.4,0 q12.5,-0.5 24.9,0 q8.8,0.7 17.6,0 q10.4,0.5 20.7,0 q8.2,-0.6 16.4,0 q9.2,-0.6 18.5,0 q14.7,-0.4 29.5,0" stroke="#f6d0ea" stroke-width="1.2" fill="none" opacity="0.7"/>
<path d="M-5,159.9 q11.1,-0.7 22.1,0 q10.8,-0.2 21.6,0 q9.6,-0.8 19.3,0 q7.1,0.6 14.2,0 q9.2,-0.5 18.3,0 q7.7,-0.4 15.4,0 q8.1,-0.8 16.3,0 q12,-0.3 24,0 q7.4,0.4 14.8,0 q6.8,-0.4 13.7,0 q13.5,-0.7 27,0 q10,0.6 20,0 q13.2,-0.6 26.5,0 q9.2,0.4 18.4,0 q9.4,0.8 18.8,0 q7.9,0.8 15.7,0 q10.5,-0.5 21.1,0 q10.1,-0.7 20.1,0 q12.4,-0.4 24.7,0 q14.1,0.2 28.2,0 q9.3,-0.5 18.6,0 q11.5,-0.5 22.9,0 q13.9,-0.7 27.7,0 q10.6,0.1 21.2,0 q8.4,0.5 16.9,0" stroke="#8a6080" stroke-width="1.2" fill="none" opacity="0.85"/>
<path d="M-5,161.3 q9.5,0.3 18.9,0 q11.1,-0.3 22.2,0 q9.5,-0.7 19,0 q7.6,0.6 15.2,0 q8.9,0.3 17.8,0 q7,0.1 14,0 q9.3,0 18.5,0 q8.7,-0.8 17.3,0 q8.8,-0.5 17.6,0 q7.1,0.4 14.3,0 q8.5,-0.2 17.1,0 q14.2,0.5 28.4,0 q13.9,0.7 27.9,0 q7.2,-0.4 14.4,0 q6.3,0.3 12.5,0 q12,-0.3 23.9,0 q9.7,0.3 19.4,0 q12.3,-0.5 24.6,0 q13.6,-0.3 27.2,0 q11.7,-0.6 23.3,0 q7,0.7 14.1,0 q12.6,0.4 25.2,0 q6.4,-0.8 12.7,0 q7.5,-0.5 14.9,0 q8.7,-0.2 17.5,0 q6.4,-0.3 12.7,0 q11.7,-0.6 23.5,0" stroke="#f0c4e4" stroke-width="1" fill="none" opacity="0.7"/></svg></div>
<svg class="arr" width="900" height="900" viewBox="0 0 900 900">
<line x1="238.2" y1="22.9" x2="677.9" y2="22.9" stroke="#111" stroke-width="2"/>
<path d="M213.3,22.9 L240.2,19.3 L240.2,26.5 Z" fill="#111"/>
<path d="M702.8,22.9 L675.9,19.3 L675.9,26.5 Z" fill="#111"/>
<line x1="235.9" y1="216.5" x2="628.7" y2="216.5" stroke="#111" stroke-width="2"/>
<path d="M213.9,216.5 L237.9,212.9 L237.9,220.1 Z" fill="#111"/>
<path d="M650.7,216.5 L626.7,212.9 L626.7,220.1 Z" fill="#111"/>
<line x1="235.3" y1="411.1" x2="628.2" y2="411.1" stroke="#111" stroke-width="2"/>
<path d="M213.3,411.1 L237.3,407.5 L237.3,414.7 Z" fill="#111"/>
<path d="M650.2,411.1 L626.2,407.5 L626.2,414.7 Z" fill="#111"/>
<line x1="232.4" y1="576.7" x2="587.4" y2="576.7" stroke="#111" stroke-width="2"/>
<path d="M212.7,576.7 L234.4,573.1 L234.4,580.3 Z" fill="#111"/>
<path d="M607.1,576.7 L585.4,573.1 L585.4,580.3 Z" fill="#111"/>
<line x1="231.8" y1="748.4" x2="548" y2="748.4" stroke="#111" stroke-width="2"/>
<path d="M214.5,748.4 L233.8,744.8 L233.8,752 Z" fill="#111"/>
<path d="M565.3,748.4 L546,744.8 L546,752 Z" fill="#111"/>
<line x1="197.5" y1="36" x2="197.5" y2="193.9" stroke="#111" stroke-width="2"/>
<path d="M197.5,31 L192.7,40.1 L202.3,40.1 Z" fill="#111"/>
<path d="M197.5,198.9 L192.7,189.8 L202.3,189.8 Z" fill="#111"/>
<line x1="198.7" y1="228" x2="198.7" y2="386" stroke="#111" stroke-width="2"/>
<path d="M198.7,223 L193.9,232.1 L203.5,232.1 Z" fill="#111"/>
<path d="M198.7,391 L193.9,381.9 L203.5,381.9 Z" fill="#111"/>
<line x1="197.7" y1="421.5" x2="197.7" y2="550" stroke="#111" stroke-width="2"/>
<path d="M197.7,416.5 L192.9,424 L202.5,424 Z" fill="#111"/>
<path d="M197.7,555 L192.9,547.5 L202.5,547.5 Z" fill="#111"/>
<line x1="197.6" y1="591.5" x2="197.6" y2="719.8" stroke="#111" stroke-width="2"/>
<path d="M197.6,586.5 L192.8,594 L202.4,594 Z" fill="#111"/>
<path d="M197.6,724.8 L192.8,717.3 L202.4,717.3 Z" fill="#111"/>
<line x1="197.5" y1="755.2" x2="197.5" y2="883.8" stroke="#111" stroke-width="2"/>
<path d="M197.5,750.2 L192.7,757.7 L202.3,757.7 Z" fill="#111"/>
<path d="M197.5,888.8 L192.7,881.3 L202.3,881.3 Z" fill="#111"/>
</svg>
<div class="hl" style="left:385.7px;top:5.2px">35.4inch/90cm</div>
<div class="hl" style="left:367.2px;top:199.3px">31.4inch/80cm</div>
<div class="hl" style="left:367.2px;top:393.4px">31.4inch/80cm</div>
<div class="hl" style="left:345.5px;top:558.7px">27.5inch/70cm</div>
<div class="hl" style="left:327.2px;top:729.4px">23.6inch/60cm</div>
<div class="vl" style="left:168.8px;top:159.3px">15.7inch/40cm</div>
<div class="vl" style="left:169.5px;top:353px">15.7inch/40cm</div>
<div class="vl" style="left:169.8px;top:530px">11.8inch/30cm</div>
<div class="vl" style="left:170.6px;top:703px">11.8inch/30cm</div>
<div class="vl" style="left:171.5px;top:867.3px">11.8inch/30cm</div>
</body></html>
